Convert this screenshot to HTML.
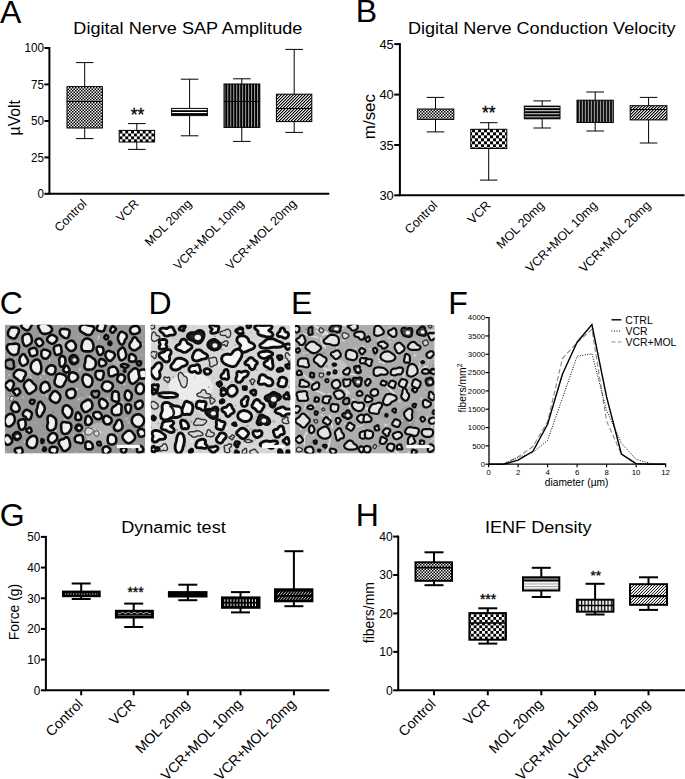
<!DOCTYPE html>
<html><head><meta charset="utf-8"><style>
html,body{margin:0;padding:0;background:#fff;width:685px;height:779px;overflow:hidden}
svg{display:block}
</style></head><body>
<svg width="685" height="779" viewBox="0 0 685 779" font-family="'Liberation Sans', sans-serif" fill="#000"><defs>
<pattern id="pfine" width="3" height="3" patternUnits="userSpaceOnUse"><rect width="3" height="3" fill="#f4f4f4"/><rect width="1.5" height="1.5" fill="#000"/><rect x="1.5" y="1.5" width="1.5" height="1.5" fill="#000"/></pattern>
<pattern id="pcheck" x="119.5" y="130.6" width="5.8" height="5.8" patternUnits="userSpaceOnUse"><rect width="5.8" height="5.8" fill="#fff"/><rect width="2.9" height="2.9" fill="#000"/><rect x="2.9" y="2.9" width="2.9" height="2.9" fill="#000"/></pattern>
<pattern id="pcheckB" x="1" y="0.3" width="6" height="6" patternUnits="userSpaceOnUse"><rect width="6" height="6" fill="#fff"/><rect width="3" height="3" fill="#000"/><rect x="3" y="3" width="3" height="3" fill="#000"/></pattern>
<pattern id="pcheckH" x="0.5" y="1" width="5.6" height="5.6" patternUnits="userSpaceOnUse"><rect width="5.6" height="5.6" fill="#fff"/><rect width="2.8" height="2.8" fill="#000"/><rect x="2.8" y="2.8" width="2.8" height="2.8" fill="#000"/></pattern>
<pattern id="phlA" y="0" width="3" height="3" patternUnits="userSpaceOnUse"><rect width="3" height="3" fill="#000"/><rect y="0" width="3" height="1" fill="#ddd"/></pattern>
<pattern id="phlB" y="2.75" width="3" height="3.07" patternUnits="userSpaceOnUse"><rect width="3" height="3.07" fill="#000"/><rect y="0" width="3" height="1" fill="#d0d0d0"/></pattern>
<pattern id="phlH" y="1" width="3" height="2.5" patternUnits="userSpaceOnUse"><rect width="3" height="2.5" fill="#fff"/><rect y="0" width="3" height="1" fill="#999"/></pattern>
<pattern id="pvlA" x="0.8" width="2.98" height="3" patternUnits="userSpaceOnUse"><rect width="2.98" height="3" fill="#000"/><rect x="0" width="1" height="3" fill="#a8a8a8"/></pattern>
<pattern id="pvlB" x="0" width="3.01" height="3" patternUnits="userSpaceOnUse"><rect width="3.01" height="3" fill="#000"/><rect x="1" width="1" height="3" fill="#ddd"/></pattern>
<pattern id="pvlH" x="0.3" width="3.3" height="3" patternUnits="userSpaceOnUse"><rect width="3.3" height="3" fill="#000"/><rect x="1.2" width="2.0" height="3" fill="#fff"/></pattern>
<pattern id="pdiag" width="3" height="3" patternUnits="userSpaceOnUse"><rect x="0" y="0" width="1" height="1" fill="#000"/><rect x="1" y="0" width="1" height="1" fill="#8a8a8a"/><rect x="2" y="0" width="1" height="1" fill="#e8e8e8"/><rect x="0" y="1" width="1" height="1" fill="#8a8a8a"/><rect x="1" y="1" width="1" height="1" fill="#e8e8e8"/><rect x="2" y="1" width="1" height="1" fill="#000"/><rect x="0" y="2" width="1" height="1" fill="#e8e8e8"/><rect x="1" y="2" width="1" height="1" fill="#000"/><rect x="2" y="2" width="1" height="1" fill="#8a8a8a"/></pattern><pattern id="pdiagH" width="3" height="3" patternUnits="userSpaceOnUse"><rect x="0" y="0" width="1" height="1" fill="#222"/><rect x="1" y="0" width="1" height="1" fill="#fff"/><rect x="2" y="0" width="1" height="1" fill="#d8d8d8"/><rect x="0" y="1" width="1" height="1" fill="#fff"/><rect x="1" y="1" width="1" height="1" fill="#d8d8d8"/><rect x="2" y="1" width="1" height="1" fill="#222"/><rect x="0" y="2" width="1" height="1" fill="#d8d8d8"/><rect x="1" y="2" width="1" height="1" fill="#222"/><rect x="2" y="2" width="1" height="1" fill="#fff"/></pattern></defs><rect width="685" height="779" fill="#fff"/><text x="0" y="22.6" font-size="32" text-anchor="start">A</text><text transform="translate(73.35 34.4) rotate(0) scale(1.04 1.0)" font-size="17.4" text-anchor="start">Digital Nerve SAP Amplitude</text><line x1="49.4" y1="47.0" x2="49.4" y2="193.8" stroke="#000" stroke-width="2"/><line x1="44.4" y1="48" x2="49.4" y2="48" stroke="#000" stroke-width="2"/><text transform="translate(43.9 52.26) rotate(0) scale(0.97 1.0)" font-size="12" text-anchor="end">100</text><line x1="44.4" y1="84.4" x2="49.4" y2="84.4" stroke="#000" stroke-width="2"/><text transform="translate(43.9 88.66000000000001) rotate(0) scale(0.97 1.0)" font-size="12" text-anchor="end">75</text><line x1="44.4" y1="121" x2="49.4" y2="121" stroke="#000" stroke-width="2"/><text transform="translate(43.9 125.26) rotate(0) scale(0.97 1.0)" font-size="12" text-anchor="end">50</text><line x1="44.4" y1="157.4" x2="49.4" y2="157.4" stroke="#000" stroke-width="2"/><text transform="translate(43.9 161.66) rotate(0) scale(0.97 1.0)" font-size="12" text-anchor="end">25</text><line x1="44.4" y1="193.8" x2="49.4" y2="193.8" stroke="#000" stroke-width="2"/><text transform="translate(43.9 198.06) rotate(0) scale(0.97 1.0)" font-size="12" text-anchor="end">0</text><line x1="48.4" y1="193.8" x2="329.3" y2="193.8" stroke="#000" stroke-width="2"/><text transform="translate(19.65 117.7) rotate(-90) scale(1.0 1.045)" font-size="15.8" text-anchor="middle">&#181;Volt</text><line x1="84.7" y1="62.6" x2="84.7" y2="86.6" stroke="#000" stroke-width="1"/><line x1="84.7" y1="128" x2="84.7" y2="138.6" stroke="#000" stroke-width="1"/><line x1="75.9" y1="62.6" x2="93.5" y2="62.6" stroke="#000" stroke-width="1"/><line x1="75.9" y1="138.6" x2="93.5" y2="138.6" stroke="#000" stroke-width="1"/><rect x="67" y="86.6" width="35.400000000000006" height="41.400000000000006" fill="url(#pfine)"/><line x1="67" y1="101.5" x2="102.4" y2="101.5" stroke="#000" stroke-width="1"/><rect x="67" y="86.6" width="35.400000000000006" height="41.400000000000006" fill="none" stroke="#000" stroke-width="1"/><line x1="136.8" y1="123.6" x2="136.8" y2="130.4" stroke="#000" stroke-width="1"/><line x1="136.8" y1="142" x2="136.8" y2="149.4" stroke="#000" stroke-width="1"/><line x1="128.0" y1="123.6" x2="145.60000000000002" y2="123.6" stroke="#000" stroke-width="1"/><line x1="128.0" y1="149.4" x2="145.60000000000002" y2="149.4" stroke="#000" stroke-width="1"/><rect x="119.2" y="130.4" width="35.39999999999999" height="11.599999999999994" fill="url(#pcheck)"/><rect x="119.2" y="130.4" width="35.39999999999999" height="11.599999999999994" fill="none" stroke="#000" stroke-width="1"/><text x="137.5" y="120.9" font-size="17.5" text-anchor="middle" stroke="#000" stroke-width="0.3">**</text><line x1="189.6" y1="79.2" x2="189.6" y2="108.4" stroke="#000" stroke-width="1"/><line x1="189.6" y1="115.6" x2="189.6" y2="135.8" stroke="#000" stroke-width="1"/><line x1="180.79999999999998" y1="79.2" x2="198.4" y2="79.2" stroke="#000" stroke-width="1"/><line x1="180.79999999999998" y1="135.8" x2="198.4" y2="135.8" stroke="#000" stroke-width="1"/><rect x="171.6" y="108.4" width="35.80000000000001" height="7.199999999999989" fill="#fff"/><rect x="171.6" y="110.2" width="35.8" height="1.8" fill="#000"/><rect x="171.6" y="113.1" width="35.8" height="1.9" fill="#000"/><rect x="171.6" y="108.4" width="35.80000000000001" height="7.199999999999989" fill="none" stroke="#000" stroke-width="1"/><line x1="241.8" y1="78.8" x2="241.8" y2="84" stroke="#000" stroke-width="1"/><line x1="241.8" y1="127.4" x2="241.8" y2="141.4" stroke="#000" stroke-width="1"/><line x1="233.0" y1="78.8" x2="250.60000000000002" y2="78.8" stroke="#000" stroke-width="1"/><line x1="233.0" y1="141.4" x2="250.60000000000002" y2="141.4" stroke="#000" stroke-width="1"/><rect x="224" y="84" width="35.80000000000001" height="43.400000000000006" fill="url(#pvlA)"/><line x1="224" y1="101.5" x2="259.8" y2="101.5" stroke="#000" stroke-width="1"/><rect x="224" y="84" width="35.80000000000001" height="43.400000000000006" fill="none" stroke="#000" stroke-width="1"/><line x1="294.2" y1="49.4" x2="294.2" y2="94.2" stroke="#000" stroke-width="1"/><line x1="294.2" y1="121.6" x2="294.2" y2="132.4" stroke="#000" stroke-width="1"/><line x1="285.4" y1="49.4" x2="303.0" y2="49.4" stroke="#000" stroke-width="1"/><line x1="285.4" y1="132.4" x2="303.0" y2="132.4" stroke="#000" stroke-width="1"/><rect x="276.4" y="94.2" width="35.400000000000034" height="27.39999999999999" fill="url(#pdiag)"/><line x1="276.4" y1="108.5" x2="311.8" y2="108.5" stroke="#000" stroke-width="1"/><rect x="276.4" y="94.2" width="35.400000000000034" height="27.39999999999999" fill="none" stroke="#000" stroke-width="1"/><text x="87.5" y="204.4" font-size="12.3" text-anchor="end" transform="rotate(-45 87.5 204.4)">Control</text><text x="139.60000000000002" y="204.4" font-size="12.3" text-anchor="end" transform="rotate(-45 139.60000000000002 204.4)">VCR</text><text x="192.4" y="204.4" font-size="12.3" text-anchor="end" transform="rotate(-45 192.4 204.4)">MOL 20mg</text><text x="244.60000000000002" y="204.4" font-size="12.3" text-anchor="end" transform="rotate(-45 244.60000000000002 204.4)">VCR+MOL 10mg</text><text x="297.0" y="204.4" font-size="12.3" text-anchor="end" transform="rotate(-45 297.0 204.4)">VCR+MOL 20mg</text><text x="355.8" y="22" font-size="32" text-anchor="start">B</text><text transform="translate(407.95 34.4) rotate(0) scale(1.04 1.0)" font-size="17.4" text-anchor="start">Digital Nerve Conduction Velocity</text><line x1="399.9" y1="43.1" x2="399.9" y2="195.3" stroke="#000" stroke-width="2"/><line x1="394.2" y1="44.1" x2="399.9" y2="44.1" stroke="#000" stroke-width="2"/><text transform="translate(393.7 48.7505) rotate(0) scale(0.98 1.0)" font-size="13.1" text-anchor="end">45</text><line x1="394.2" y1="94.6" x2="399.9" y2="94.6" stroke="#000" stroke-width="2"/><text transform="translate(393.7 99.25049999999999) rotate(0) scale(0.98 1.0)" font-size="13.1" text-anchor="end">40</text><line x1="394.2" y1="145" x2="399.9" y2="145" stroke="#000" stroke-width="2"/><text transform="translate(393.7 149.6505) rotate(0) scale(0.98 1.0)" font-size="13.1" text-anchor="end">35</text><line x1="394.2" y1="195.3" x2="399.9" y2="195.3" stroke="#000" stroke-width="2"/><text transform="translate(393.7 199.9505) rotate(0) scale(0.98 1.0)" font-size="13.1" text-anchor="end">30</text><line x1="398.9" y1="195.3" x2="684.5" y2="195.3" stroke="#000" stroke-width="2"/><text transform="translate(375.2 116.6) rotate(-90) scale(1.0 1.0)" font-size="16.9" text-anchor="middle">m/sec</text><line x1="435.5" y1="97.4" x2="435.5" y2="109" stroke="#000" stroke-width="1"/><line x1="435.5" y1="119.4" x2="435.5" y2="131.9" stroke="#000" stroke-width="1"/><line x1="426.7" y1="97.4" x2="444.3" y2="97.4" stroke="#000" stroke-width="1"/><line x1="426.7" y1="131.9" x2="444.3" y2="131.9" stroke="#000" stroke-width="1"/><rect x="417.4" y="109" width="36.400000000000034" height="10.400000000000006" fill="url(#pfine)"/><rect x="417.4" y="109" width="36.400000000000034" height="10.400000000000006" fill="none" stroke="#000" stroke-width="1"/><line x1="488.7" y1="122.7" x2="488.7" y2="129.3" stroke="#000" stroke-width="1"/><line x1="488.7" y1="148.5" x2="488.7" y2="180.1" stroke="#000" stroke-width="1"/><line x1="479.9" y1="122.7" x2="497.5" y2="122.7" stroke="#000" stroke-width="1"/><line x1="479.9" y1="180.1" x2="497.5" y2="180.1" stroke="#000" stroke-width="1"/><rect x="470.8" y="129.3" width="36.0" height="19.19999999999999" fill="url(#pcheckB)"/><rect x="470.8" y="129.3" width="36.0" height="19.19999999999999" fill="none" stroke="#000" stroke-width="1"/><text x="488.7" y="118.5" font-size="17.5" text-anchor="middle" stroke="#000" stroke-width="0.3">**</text><line x1="542.2" y1="100.9" x2="542.2" y2="106.1" stroke="#000" stroke-width="1"/><line x1="542.2" y1="118.8" x2="542.2" y2="128" stroke="#000" stroke-width="1"/><line x1="533.4000000000001" y1="100.9" x2="551.0" y2="100.9" stroke="#000" stroke-width="1"/><line x1="533.4000000000001" y1="128" x2="551.0" y2="128" stroke="#000" stroke-width="1"/><rect x="524.3" y="106.1" width="35.700000000000045" height="12.700000000000003" fill="url(#phlB)"/><rect x="524.3" y="106.1" width="35.700000000000045" height="12.700000000000003" fill="none" stroke="#000" stroke-width="1"/><line x1="595.2" y1="92" x2="595.2" y2="100.2" stroke="#000" stroke-width="1"/><line x1="595.2" y1="122.5" x2="595.2" y2="131" stroke="#000" stroke-width="1"/><line x1="586.4000000000001" y1="92" x2="604.0" y2="92" stroke="#000" stroke-width="1"/><line x1="586.4000000000001" y1="131" x2="604.0" y2="131" stroke="#000" stroke-width="1"/><rect x="577" y="100.2" width="36.299999999999955" height="22.299999999999997" fill="url(#pvlB)"/><rect x="577" y="100.2" width="36.299999999999955" height="22.299999999999997" fill="none" stroke="#000" stroke-width="1"/><line x1="648.6" y1="97.4" x2="648.6" y2="105.7" stroke="#000" stroke-width="1"/><line x1="648.6" y1="119.9" x2="648.6" y2="143" stroke="#000" stroke-width="1"/><line x1="639.8000000000001" y1="97.4" x2="657.4" y2="97.4" stroke="#000" stroke-width="1"/><line x1="639.8000000000001" y1="143" x2="657.4" y2="143" stroke="#000" stroke-width="1"/><rect x="630.2" y="105.7" width="36.69999999999993" height="14.200000000000003" fill="url(#pdiag)"/><line x1="630.2" y1="109.5" x2="666.9" y2="109.5" stroke="#000" stroke-width="1"/><rect x="630.2" y="105.7" width="36.69999999999993" height="14.200000000000003" fill="none" stroke="#000" stroke-width="1"/><text x="438.3" y="206.10000000000002" font-size="12.5" text-anchor="end" transform="rotate(-45 438.3 206.10000000000002)">Control</text><text x="491.5" y="206.10000000000002" font-size="12.5" text-anchor="end" transform="rotate(-45 491.5 206.10000000000002)">VCR</text><text x="545.0" y="206.10000000000002" font-size="12.5" text-anchor="end" transform="rotate(-45 545.0 206.10000000000002)">MOL 20mg</text><text x="598.0" y="206.10000000000002" font-size="12.5" text-anchor="end" transform="rotate(-45 598.0 206.10000000000002)">VCR+MOL 10mg</text><text x="651.4" y="206.10000000000002" font-size="12.5" text-anchor="end" transform="rotate(-45 651.4 206.10000000000002)">VCR+MOL 20mg</text><text x="-0.3" y="526" font-size="32" text-anchor="start">G</text><text transform="translate(121.15 533.3) rotate(0) scale(1.04 1.0)" font-size="17.4" text-anchor="start">Dynamic test</text><line x1="45.9" y1="535.9" x2="45.9" y2="690.3" stroke="#000" stroke-width="2"/><line x1="40.9" y1="536.9" x2="45.9" y2="536.9" stroke="#000" stroke-width="2"/><text transform="translate(40.4 541.302) rotate(0) scale(0.95 1.0)" font-size="12.4" text-anchor="end">50</text><line x1="40.9" y1="567.5799999999999" x2="45.9" y2="567.5799999999999" stroke="#000" stroke-width="2"/><text transform="translate(40.4 571.982) rotate(0) scale(0.95 1.0)" font-size="12.4" text-anchor="end">40</text><line x1="40.9" y1="598.26" x2="45.9" y2="598.26" stroke="#000" stroke-width="2"/><text transform="translate(40.4 602.662) rotate(0) scale(0.95 1.0)" font-size="12.4" text-anchor="end">30</text><line x1="40.9" y1="628.9399999999999" x2="45.9" y2="628.9399999999999" stroke="#000" stroke-width="2"/><text transform="translate(40.4 633.342) rotate(0) scale(0.95 1.0)" font-size="12.4" text-anchor="end">20</text><line x1="40.9" y1="659.62" x2="45.9" y2="659.62" stroke="#000" stroke-width="2"/><text transform="translate(40.4 664.022) rotate(0) scale(0.95 1.0)" font-size="12.4" text-anchor="end">10</text><line x1="40.9" y1="690.3" x2="45.9" y2="690.3" stroke="#000" stroke-width="2"/><text transform="translate(40.4 694.702) rotate(0) scale(0.95 1.0)" font-size="12.4" text-anchor="end">0</text><line x1="44.9" y1="690.3" x2="329.3" y2="690.3" stroke="#000" stroke-width="2"/><line x1="81.2" y1="690.3" x2="81.2" y2="695.3" stroke="#000" stroke-width="2"/><line x1="133.7" y1="690.3" x2="133.7" y2="695.3" stroke="#000" stroke-width="2"/><line x1="187.8" y1="690.3" x2="187.8" y2="695.3" stroke="#000" stroke-width="2"/><line x1="240.5" y1="690.3" x2="240.5" y2="695.3" stroke="#000" stroke-width="2"/><line x1="293.9" y1="690.3" x2="293.9" y2="695.3" stroke="#000" stroke-width="2"/><text transform="translate(18.5 612) rotate(-90) scale(1.0 1.0)" font-size="13.9" text-anchor="middle">Force (g)</text><line x1="81.2" y1="583.5" x2="81.2" y2="591.6" stroke="#000" stroke-width="2"/><line x1="81.2" y1="596.2" x2="81.2" y2="599" stroke="#000" stroke-width="2"/><line x1="71.7" y1="583.5" x2="90.7" y2="583.5" stroke="#000" stroke-width="2"/><line x1="71.7" y1="599" x2="90.7" y2="599" stroke="#000" stroke-width="2"/><rect x="63" y="591.6" width="36.7" height="4.600000000000023" fill="#000"/><line x1="65" y1="594" x2="98" y2="594" stroke="#fff" stroke-width="0.9" stroke-dasharray="1.2,1.5"/><rect x="63" y="591.6" width="36.7" height="4.600000000000023" fill="none" stroke="#000" stroke-width="2"/><line x1="133.7" y1="603.6" x2="133.7" y2="610.8" stroke="#000" stroke-width="2"/><line x1="133.7" y1="617.5" x2="133.7" y2="627" stroke="#000" stroke-width="2"/><line x1="124.19999999999999" y1="603.6" x2="143.2" y2="603.6" stroke="#000" stroke-width="2"/><line x1="124.19999999999999" y1="627" x2="143.2" y2="627" stroke="#000" stroke-width="2"/><rect x="115.9" y="610.8" width="37.0" height="6.7000000000000455" fill="#000"/><path d="M118.00,612.90 L118.33,613.14 L118.67,613.35 L119.00,613.51 L119.33,613.59 L119.67,613.59 L120.00,613.51 L120.33,613.35 L120.67,613.14 L121.00,612.90 L121.33,612.66 L121.67,612.45 L122.00,612.29 L122.33,612.21 L122.67,612.21 L123.00,612.29 L123.33,612.45 L123.67,612.66 L124.00,612.90 L124.33,613.14 L124.67,613.35 L125.00,613.51 L125.33,613.59 L125.67,613.59 L126.00,613.51 L126.33,613.35 L126.67,613.14 L127.00,612.90 L127.33,612.66 L127.67,612.45 L128.00,612.29 L128.33,612.21 L128.67,612.21 L129.00,612.29 L129.33,612.45 L129.67,612.66 L130.00,612.90 L130.33,613.14 L130.67,613.35 L131.00,613.51 L131.33,613.59 L131.67,613.59 L132.00,613.51 L132.33,613.35 L132.67,613.14 L133.00,612.90 L133.33,612.66 L133.67,612.45 L134.00,612.29 L134.33,612.21 L134.67,612.21 L135.00,612.29 L135.33,612.45 L135.67,612.66 L136.00,612.90 L136.33,613.14 L136.67,613.35 L137.00,613.51 L137.33,613.59 L137.67,613.59 L138.00,613.51 L138.33,613.35 L138.67,613.14 L139.00,612.90 L139.33,612.66 L139.67,612.45 L140.00,612.29 L140.33,612.21 L140.67,612.21 L141.00,612.29 L141.33,612.45 L141.67,612.66 L142.00,612.90 L142.33,613.14 L142.67,613.35 L143.00,613.51 L143.33,613.59 L143.67,613.59 L144.00,613.51 L144.33,613.35 L144.67,613.14 L145.00,612.90 L145.33,612.66 L145.67,612.45 L146.00,612.29 L146.33,612.21 L146.67,612.21 L147.00,612.29 L147.33,612.45 L147.67,612.66 L148.00,612.90 L148.33,613.14 L148.67,613.35 L149.00,613.51 L149.33,613.59 L149.67,613.59 L150.00,613.51 L150.33,613.35 L150.67,613.14 L151.00,612.90" fill="none" stroke="#fff" stroke-width="0.9"/><line x1="118" y1="615.3" x2="151" y2="615.3" stroke="#777" stroke-width="0.8"/><rect x="115.9" y="610.8" width="37.0" height="6.7000000000000455" fill="none" stroke="#000" stroke-width="2"/><text x="135.6" y="596.7" font-size="14" text-anchor="middle" stroke="#000" stroke-width="0.3">***</text><line x1="187.8" y1="584.7" x2="187.8" y2="592.1" stroke="#000" stroke-width="2"/><line x1="187.8" y1="596.5" x2="187.8" y2="600.2" stroke="#000" stroke-width="2"/><line x1="178.3" y1="584.7" x2="197.3" y2="584.7" stroke="#000" stroke-width="2"/><line x1="178.3" y1="600.2" x2="197.3" y2="600.2" stroke="#000" stroke-width="2"/><rect x="168.9" y="592.1" width="37.599999999999994" height="4.399999999999977" fill="#000"/><rect x="168.9" y="592.1" width="37.599999999999994" height="4.399999999999977" fill="none" stroke="#000" stroke-width="2"/><line x1="240.5" y1="592.1" x2="240.5" y2="597.4" stroke="#000" stroke-width="2"/><line x1="240.5" y1="607.8" x2="240.5" y2="612.4" stroke="#000" stroke-width="2"/><line x1="231.0" y1="592.1" x2="250.0" y2="592.1" stroke="#000" stroke-width="2"/><line x1="231.0" y1="612.4" x2="250.0" y2="612.4" stroke="#000" stroke-width="2"/><rect x="222" y="597.4" width="37.5" height="10.399999999999977" fill="#000"/><rect x="224.30" y="599.3" width="1" height="2.50" fill="#eee"/><rect x="224.30" y="603.6" width="1" height="2.50" fill="#eee"/><rect x="227.37" y="599.3" width="1" height="2.50" fill="#eee"/><rect x="227.37" y="603.6" width="1" height="2.50" fill="#eee"/><rect x="230.44" y="599.3" width="1" height="2.50" fill="#eee"/><rect x="230.44" y="603.6" width="1" height="2.50" fill="#eee"/><rect x="233.51" y="599.3" width="1" height="2.50" fill="#eee"/><rect x="233.51" y="603.6" width="1" height="2.50" fill="#eee"/><rect x="236.58" y="599.3" width="1" height="2.50" fill="#eee"/><rect x="236.58" y="603.6" width="1" height="2.50" fill="#eee"/><rect x="239.65" y="599.3" width="1" height="2.50" fill="#eee"/><rect x="239.65" y="603.6" width="1" height="2.50" fill="#eee"/><rect x="242.72" y="599.3" width="1" height="2.50" fill="#eee"/><rect x="242.72" y="603.6" width="1" height="2.50" fill="#eee"/><rect x="245.79" y="599.3" width="1" height="2.50" fill="#eee"/><rect x="245.79" y="603.6" width="1" height="2.50" fill="#eee"/><rect x="248.86" y="599.3" width="1" height="2.50" fill="#eee"/><rect x="248.86" y="603.6" width="1" height="2.50" fill="#eee"/><rect x="251.93" y="599.3" width="1" height="2.50" fill="#eee"/><rect x="251.93" y="603.6" width="1" height="2.50" fill="#eee"/><rect x="255.00" y="599.3" width="1" height="2.50" fill="#eee"/><rect x="255.00" y="603.6" width="1" height="2.50" fill="#eee"/><rect x="222" y="597.4" width="37.5" height="10.399999999999977" fill="none" stroke="#000" stroke-width="2"/><line x1="293.9" y1="551.2" x2="293.9" y2="589.3" stroke="#000" stroke-width="2"/><line x1="293.9" y1="601.3" x2="293.9" y2="606.2" stroke="#000" stroke-width="2"/><line x1="284.4" y1="551.2" x2="303.4" y2="551.2" stroke="#000" stroke-width="2"/><line x1="284.4" y1="606.2" x2="303.4" y2="606.2" stroke="#000" stroke-width="2"/><rect x="275" y="589.3" width="37.39999999999998" height="12.0" fill="#000"/><line x1="277.50" y1="595" x2="280.22" y2="591.6" stroke="#ddd" stroke-width="0.9"/><line x1="277.50" y1="599.8" x2="279.90" y2="596.8" stroke="#ddd" stroke-width="0.9"/><line x1="280.40" y1="595" x2="283.12" y2="591.6" stroke="#ddd" stroke-width="0.9"/><line x1="280.40" y1="599.8" x2="282.80" y2="596.8" stroke="#ddd" stroke-width="0.9"/><line x1="283.30" y1="595" x2="286.02" y2="591.6" stroke="#ddd" stroke-width="0.9"/><line x1="283.30" y1="599.8" x2="285.70" y2="596.8" stroke="#ddd" stroke-width="0.9"/><line x1="286.20" y1="595" x2="288.92" y2="591.6" stroke="#ddd" stroke-width="0.9"/><line x1="286.20" y1="599.8" x2="288.60" y2="596.8" stroke="#ddd" stroke-width="0.9"/><line x1="289.10" y1="595" x2="291.82" y2="591.6" stroke="#ddd" stroke-width="0.9"/><line x1="289.10" y1="599.8" x2="291.50" y2="596.8" stroke="#ddd" stroke-width="0.9"/><line x1="292.00" y1="595" x2="294.72" y2="591.6" stroke="#ddd" stroke-width="0.9"/><line x1="292.00" y1="599.8" x2="294.40" y2="596.8" stroke="#ddd" stroke-width="0.9"/><line x1="294.90" y1="595" x2="297.62" y2="591.6" stroke="#ddd" stroke-width="0.9"/><line x1="294.90" y1="599.8" x2="297.30" y2="596.8" stroke="#ddd" stroke-width="0.9"/><line x1="297.80" y1="595" x2="300.52" y2="591.6" stroke="#ddd" stroke-width="0.9"/><line x1="297.80" y1="599.8" x2="300.20" y2="596.8" stroke="#ddd" stroke-width="0.9"/><line x1="300.70" y1="595" x2="303.42" y2="591.6" stroke="#ddd" stroke-width="0.9"/><line x1="300.70" y1="599.8" x2="303.10" y2="596.8" stroke="#ddd" stroke-width="0.9"/><line x1="303.60" y1="595" x2="306.32" y2="591.6" stroke="#ddd" stroke-width="0.9"/><line x1="303.60" y1="599.8" x2="306.00" y2="596.8" stroke="#ddd" stroke-width="0.9"/><line x1="306.50" y1="595" x2="309.22" y2="591.6" stroke="#ddd" stroke-width="0.9"/><line x1="306.50" y1="599.8" x2="308.90" y2="596.8" stroke="#ddd" stroke-width="0.9"/><line x1="309.40" y1="595" x2="312.12" y2="591.6" stroke="#ddd" stroke-width="0.9"/><line x1="309.40" y1="599.8" x2="311.80" y2="596.8" stroke="#ddd" stroke-width="0.9"/><rect x="275" y="589.3" width="37.39999999999998" height="12.0" fill="none" stroke="#000" stroke-width="2"/><text x="83.8" y="704.9" font-size="14.2" text-anchor="end" transform="rotate(-45 83.8 704.9)">Control</text><text x="136.29999999999998" y="704.9" font-size="14.2" text-anchor="end" transform="rotate(-45 136.29999999999998 704.9)">VCR</text><text x="190.4" y="704.9" font-size="14.2" text-anchor="end" transform="rotate(-45 190.4 704.9)">MOL 20mg</text><text x="243.1" y="704.9" font-size="14.2" text-anchor="end" transform="rotate(-45 243.1 704.9)">VCR+MOL 10mg</text><text x="296.5" y="704.9" font-size="14.2" text-anchor="end" transform="rotate(-45 296.5 704.9)">VCR+MOL 20mg</text><text x="355.8" y="526.3" font-size="32" text-anchor="start">H</text><text transform="translate(484.95 532.8) rotate(0) scale(1.04 1.0)" font-size="17.4" text-anchor="start">IENF Density</text><line x1="398.2" y1="535.5799999999999" x2="398.2" y2="690.3" stroke="#000" stroke-width="2"/><line x1="393.2" y1="536.5799999999999" x2="398.2" y2="536.5799999999999" stroke="#000" stroke-width="2"/><text transform="translate(392.7 541.0529999999999) rotate(0) scale(0.96 1.0)" font-size="12.6" text-anchor="end">40</text><line x1="393.2" y1="575.01" x2="398.2" y2="575.01" stroke="#000" stroke-width="2"/><text transform="translate(392.7 579.483) rotate(0) scale(0.96 1.0)" font-size="12.6" text-anchor="end">30</text><line x1="393.2" y1="613.4399999999999" x2="398.2" y2="613.4399999999999" stroke="#000" stroke-width="2"/><text transform="translate(392.7 617.9129999999999) rotate(0) scale(0.96 1.0)" font-size="12.6" text-anchor="end">20</text><line x1="393.2" y1="651.87" x2="398.2" y2="651.87" stroke="#000" stroke-width="2"/><text transform="translate(392.7 656.343) rotate(0) scale(0.96 1.0)" font-size="12.6" text-anchor="end">10</text><line x1="393.2" y1="690.3" x2="398.2" y2="690.3" stroke="#000" stroke-width="2"/><text transform="translate(392.7 694.7729999999999) rotate(0) scale(0.96 1.0)" font-size="12.6" text-anchor="end">0</text><line x1="397.2" y1="690.3" x2="685" y2="690.3" stroke="#000" stroke-width="2"/><line x1="434" y1="690.3" x2="434" y2="695.3" stroke="#000" stroke-width="2"/><line x1="487.8" y1="690.3" x2="487.8" y2="695.3" stroke="#000" stroke-width="2"/><line x1="541.3" y1="690.3" x2="541.3" y2="695.3" stroke="#000" stroke-width="2"/><line x1="595.1" y1="690.3" x2="595.1" y2="695.3" stroke="#000" stroke-width="2"/><line x1="648.5" y1="690.3" x2="648.5" y2="695.3" stroke="#000" stroke-width="2"/><text transform="translate(373.5 612.7) rotate(-90) scale(1.0 1.0)" font-size="13.9" text-anchor="middle">fibers/mm</text><line x1="434" y1="552.3" x2="434" y2="562.3" stroke="#000" stroke-width="2"/><line x1="434" y1="580.8" x2="434" y2="585.2" stroke="#000" stroke-width="2"/><line x1="424.5" y1="552.3" x2="443.5" y2="552.3" stroke="#000" stroke-width="2"/><line x1="424.5" y1="585.2" x2="443.5" y2="585.2" stroke="#000" stroke-width="2"/><rect x="415.5" y="562.3" width="36.5" height="18.5" fill="url(#pfine)"/><line x1="415.5" y1="567.6" x2="452" y2="567.6" stroke="#000" stroke-width="1.6"/><rect x="415.5" y="562.3" width="36.5" height="18.5" fill="none" stroke="#000" stroke-width="2"/><line x1="487.8" y1="608.3" x2="487.8" y2="613.1" stroke="#000" stroke-width="2"/><line x1="487.8" y1="639.7" x2="487.8" y2="643.6" stroke="#000" stroke-width="2"/><line x1="478.3" y1="608.3" x2="497.3" y2="608.3" stroke="#000" stroke-width="2"/><line x1="478.3" y1="643.6" x2="497.3" y2="643.6" stroke="#000" stroke-width="2"/><rect x="469.4" y="613.1" width="36.5" height="26.600000000000023" fill="url(#pcheckH)"/><line x1="469.4" y1="623.1" x2="505.9" y2="623.1" stroke="#000" stroke-width="1.5"/><rect x="469.4" y="613.1" width="36.5" height="26.600000000000023" fill="none" stroke="#000" stroke-width="2"/><text x="488.1" y="603.7" font-size="14" text-anchor="middle" stroke="#000" stroke-width="0.3">***</text><line x1="541.3" y1="567.8" x2="541.3" y2="577.3" stroke="#000" stroke-width="2"/><line x1="541.3" y1="590.5" x2="541.3" y2="597" stroke="#000" stroke-width="2"/><line x1="531.8" y1="567.8" x2="550.8" y2="567.8" stroke="#000" stroke-width="2"/><line x1="531.8" y1="597" x2="550.8" y2="597" stroke="#000" stroke-width="2"/><rect x="523" y="577.3" width="36.299999999999955" height="13.200000000000045" fill="url(#phlH)"/><rect x="524" y="578.2" width="34.3" height="1.6" fill="#777"/><line x1="523" y1="580.5" x2="559.3" y2="580.5" stroke="#000" stroke-width="1.6"/><rect x="523" y="577.3" width="36.299999999999955" height="13.200000000000045" fill="none" stroke="#000" stroke-width="2"/><line x1="595.1" y1="583.8" x2="595.1" y2="599.7" stroke="#000" stroke-width="2"/><line x1="595.1" y1="611.7" x2="595.1" y2="614.5" stroke="#000" stroke-width="2"/><line x1="585.6" y1="583.8" x2="604.6" y2="583.8" stroke="#000" stroke-width="2"/><line x1="585.6" y1="614.5" x2="604.6" y2="614.5" stroke="#000" stroke-width="2"/><rect x="576.9" y="599.7" width="36.5" height="12.0" fill="url(#pvlH)"/><line x1="576.9" y1="605.5" x2="613.4" y2="605.5" stroke="#000" stroke-width="1.4"/><rect x="576.9" y="599.7" width="36.5" height="12.0" fill="none" stroke="#000" stroke-width="2"/><text x="595.7" y="580.1" font-size="13.5" text-anchor="middle" stroke="#000" stroke-width="0.3">**</text><line x1="648.5" y1="577.3" x2="648.5" y2="584.2" stroke="#000" stroke-width="2"/><line x1="648.5" y1="604.8" x2="648.5" y2="609.9" stroke="#000" stroke-width="2"/><line x1="639.0" y1="577.3" x2="658.0" y2="577.3" stroke="#000" stroke-width="2"/><line x1="639.0" y1="609.9" x2="658.0" y2="609.9" stroke="#000" stroke-width="2"/><rect x="630" y="584.2" width="37" height="20.59999999999991" fill="url(#pdiagH)"/><line x1="630" y1="596.2" x2="667" y2="596.2" stroke="#000" stroke-width="2.2"/><rect x="630" y="584.2" width="37" height="20.59999999999991" fill="none" stroke="#000" stroke-width="2"/><text x="436.6" y="704.9" font-size="14.2" text-anchor="end" transform="rotate(-45 436.6 704.9)">Control</text><text x="490.40000000000003" y="704.9" font-size="14.2" text-anchor="end" transform="rotate(-45 490.40000000000003 704.9)">VCR</text><text x="543.9" y="704.9" font-size="14.2" text-anchor="end" transform="rotate(-45 543.9 704.9)">MOL 20mg</text><text x="597.7" y="704.9" font-size="14.2" text-anchor="end" transform="rotate(-45 597.7 704.9)">VCR+MOL 10mg</text><text x="651.1" y="704.9" font-size="14.2" text-anchor="end" transform="rotate(-45 651.1 704.9)">VCR+MOL 20mg</text><text x="-0.3" y="314.2" font-size="32" text-anchor="start">C</text><text x="148.4" y="314.4" font-size="32" text-anchor="start">D</text><text x="291.1" y="314.4" font-size="32" text-anchor="start">E</text><svg x="4.8" y="324.85" width="140.4" height="128.75" viewBox="0 0 140.4 128.75"><defs><filter id="bl1" x="-5%" y="-5%" width="110%" height="110%"><feGaussianBlur stdDeviation="0.6"/></filter></defs><rect width="140.4" height="128.75" fill="#999999"/><g filter="url(#bl1)"><ellipse cx="95" cy="110" rx="14" ry="12" fill="#b4b4b4" opacity="1"/><ellipse cx="20" cy="45" rx="8" ry="8" fill="#b8b8b8" opacity="0.8"/><ellipse cx="60" cy="20" rx="8" ry="6" fill="#b8b8b8" opacity="0.8"/><ellipse cx="115" cy="35" rx="8" ry="8" fill="#b0b0b0" opacity="0.8"/><circle cx="18.9" cy="109.1" r="0.6" fill="#ffffff" opacity="0.5"/><circle cx="69.6" cy="57.9" r="1.1" fill="#808080" opacity="0.5"/><circle cx="13.2" cy="3.6" r="0.8" fill="#808080" opacity="0.5"/><circle cx="107.0" cy="0.3" r="0.6" fill="#808080" opacity="0.5"/><circle cx="112.6" cy="76.1" r="1.2" fill="#ffffff" opacity="0.5"/><circle cx="4.3" cy="3.3" r="1.2" fill="#ffffff" opacity="0.5"/><circle cx="53.5" cy="27.9" r="1.1" fill="#808080" opacity="0.5"/><circle cx="74.1" cy="98.3" r="0.9" fill="#808080" opacity="0.5"/><circle cx="48.5" cy="87.1" r="1.3" fill="#808080" opacity="0.5"/><circle cx="130.1" cy="53.6" r="0.6" fill="#ffffff" opacity="0.5"/><circle cx="139.4" cy="110.7" r="1.1" fill="#ffffff" opacity="0.5"/><circle cx="125.7" cy="125.3" r="0.9" fill="#808080" opacity="0.5"/><circle cx="127.8" cy="24.4" r="0.9" fill="#cccccc" opacity="0.5"/><circle cx="123.9" cy="108.9" r="0.9" fill="#808080" opacity="0.5"/><circle cx="4.8" cy="31.3" r="0.8" fill="#808080" opacity="0.5"/><circle cx="24.3" cy="70.7" r="0.5" fill="#cccccc" opacity="0.5"/><circle cx="93.2" cy="13.9" r="0.9" fill="#eeeeee" opacity="0.5"/><circle cx="55.2" cy="63.0" r="0.8" fill="#ffffff" opacity="0.5"/><circle cx="43.3" cy="109.2" r="1.0" fill="#808080" opacity="0.5"/><circle cx="23.7" cy="29.2" r="1.1" fill="#ffffff" opacity="0.5"/><circle cx="75.8" cy="110.8" r="0.8" fill="#eeeeee" opacity="0.5"/><circle cx="48.3" cy="109.1" r="0.8" fill="#cccccc" opacity="0.5"/><circle cx="37.8" cy="70.6" r="0.7" fill="#ffffff" opacity="0.5"/><circle cx="120.3" cy="122.9" r="0.9" fill="#eeeeee" opacity="0.5"/><circle cx="78.8" cy="54.9" r="0.8" fill="#ffffff" opacity="0.5"/><circle cx="51.2" cy="71.4" r="0.8" fill="#808080" opacity="0.5"/><circle cx="50.1" cy="44.6" r="0.8" fill="#cccccc" opacity="0.5"/><circle cx="3.9" cy="29.6" r="0.9" fill="#eeeeee" opacity="0.5"/><circle cx="25.4" cy="11.8" r="0.4" fill="#cccccc" opacity="0.5"/><circle cx="132.5" cy="9.1" r="0.8" fill="#ffffff" opacity="0.5"/><circle cx="105.9" cy="36.2" r="0.5" fill="#cccccc" opacity="0.5"/><circle cx="87.7" cy="44.3" r="0.6" fill="#ffffff" opacity="0.5"/><circle cx="35.8" cy="122.6" r="1.0" fill="#cccccc" opacity="0.5"/><circle cx="41.3" cy="90.5" r="0.8" fill="#808080" opacity="0.5"/><circle cx="3.3" cy="49.8" r="1.1" fill="#808080" opacity="0.5"/><circle cx="36.3" cy="32.6" r="1.3" fill="#eeeeee" opacity="0.5"/><circle cx="60.6" cy="125.6" r="0.4" fill="#eeeeee" opacity="0.5"/><circle cx="20.6" cy="92.6" r="0.8" fill="#eeeeee" opacity="0.5"/><circle cx="71.1" cy="54.9" r="1.3" fill="#eeeeee" opacity="0.5"/><circle cx="88.6" cy="89.5" r="0.6" fill="#808080" opacity="0.5"/><circle cx="91.1" cy="50.8" r="1.0" fill="#cccccc" opacity="0.5"/><circle cx="59.9" cy="94.9" r="1.3" fill="#eeeeee" opacity="0.5"/><circle cx="122.9" cy="39.4" r="0.7" fill="#ffffff" opacity="0.5"/><circle cx="131.9" cy="95.8" r="0.9" fill="#808080" opacity="0.5"/><circle cx="18.3" cy="72.2" r="0.9" fill="#ffffff" opacity="0.5"/><circle cx="30.5" cy="116.0" r="0.6" fill="#808080" opacity="0.5"/><circle cx="121.8" cy="125.4" r="0.7" fill="#ffffff" opacity="0.5"/><circle cx="48.7" cy="26.5" r="0.9" fill="#808080" opacity="0.5"/><circle cx="69.1" cy="120.8" r="0.7" fill="#808080" opacity="0.5"/><circle cx="70.2" cy="41.9" r="1.2" fill="#808080" opacity="0.5"/><circle cx="2.5" cy="25.9" r="1.1" fill="#cccccc" opacity="0.5"/><circle cx="79.1" cy="17.4" r="0.6" fill="#808080" opacity="0.5"/><circle cx="94.7" cy="107.9" r="1.2" fill="#cccccc" opacity="0.5"/><circle cx="117.6" cy="68.8" r="0.5" fill="#eeeeee" opacity="0.5"/><circle cx="5.7" cy="17.1" r="1.2" fill="#eeeeee" opacity="0.5"/><circle cx="29.9" cy="97.7" r="0.7" fill="#cccccc" opacity="0.5"/><circle cx="47.8" cy="37.5" r="0.5" fill="#808080" opacity="0.5"/><circle cx="77.4" cy="13.4" r="0.8" fill="#ffffff" opacity="0.5"/><circle cx="53.4" cy="127.6" r="1.1" fill="#eeeeee" opacity="0.5"/><circle cx="47.9" cy="79.2" r="0.5" fill="#808080" opacity="0.5"/><circle cx="77.3" cy="72.9" r="0.7" fill="#cccccc" opacity="0.5"/><circle cx="41.5" cy="68.8" r="0.8" fill="#ffffff" opacity="0.5"/><circle cx="38.9" cy="101.3" r="0.4" fill="#cccccc" opacity="0.5"/><circle cx="94.1" cy="11.8" r="1.1" fill="#ffffff" opacity="0.5"/><circle cx="110.9" cy="24.2" r="0.5" fill="#808080" opacity="0.5"/><circle cx="63.3" cy="87.7" r="1.1" fill="#eeeeee" opacity="0.5"/><circle cx="14.4" cy="117.3" r="1.1" fill="#808080" opacity="0.5"/><circle cx="76.2" cy="105.4" r="1.0" fill="#cccccc" opacity="0.5"/><circle cx="44.2" cy="26.7" r="0.4" fill="#cccccc" opacity="0.5"/><circle cx="1.5" cy="126.5" r="1.1" fill="#cccccc" opacity="0.5"/><circle cx="45.0" cy="50.4" r="0.5" fill="#808080" opacity="0.5"/><circle cx="128.2" cy="124.9" r="0.5" fill="#808080" opacity="0.5"/><circle cx="30.2" cy="79.5" r="1.0" fill="#808080" opacity="0.5"/><circle cx="36.4" cy="69.7" r="0.6" fill="#cccccc" opacity="0.5"/><circle cx="50.6" cy="105.6" r="1.3" fill="#ffffff" opacity="0.5"/><circle cx="62.9" cy="83.9" r="1.2" fill="#cccccc" opacity="0.5"/><circle cx="54.8" cy="39.5" r="0.6" fill="#cccccc" opacity="0.5"/><circle cx="111.3" cy="74.5" r="0.6" fill="#cccccc" opacity="0.5"/><circle cx="14.2" cy="78.7" r="0.6" fill="#ffffff" opacity="0.5"/><circle cx="2.9" cy="31.4" r="0.6" fill="#ffffff" opacity="0.5"/><circle cx="121.8" cy="93.9" r="1.0" fill="#ffffff" opacity="0.5"/><circle cx="40.8" cy="102.0" r="0.8" fill="#808080" opacity="0.5"/><circle cx="120.6" cy="13.0" r="0.5" fill="#cccccc" opacity="0.5"/><circle cx="133.3" cy="22.3" r="1.3" fill="#eeeeee" opacity="0.5"/><circle cx="115.3" cy="41.2" r="1.0" fill="#ffffff" opacity="0.5"/><circle cx="117.2" cy="77.5" r="1.2" fill="#eeeeee" opacity="0.5"/><circle cx="19.9" cy="117.2" r="1.1" fill="#ffffff" opacity="0.5"/><circle cx="115.3" cy="80.3" r="0.6" fill="#eeeeee" opacity="0.5"/><circle cx="60.7" cy="20.3" r="0.6" fill="#eeeeee" opacity="0.5"/><circle cx="9.0" cy="124.0" r="0.9" fill="#808080" opacity="0.5"/><circle cx="76.0" cy="109.6" r="0.4" fill="#808080" opacity="0.5"/><circle cx="117.4" cy="22.1" r="0.4" fill="#808080" opacity="0.5"/><circle cx="90.8" cy="53.6" r="0.5" fill="#ffffff" opacity="0.5"/><circle cx="49.8" cy="17.8" r="0.5" fill="#eeeeee" opacity="0.5"/><circle cx="138.0" cy="35.7" r="0.6" fill="#808080" opacity="0.5"/><circle cx="12.5" cy="62.6" r="0.9" fill="#eeeeee" opacity="0.5"/><circle cx="70.3" cy="83.5" r="1.2" fill="#808080" opacity="0.5"/><circle cx="89.7" cy="29.1" r="0.8" fill="#cccccc" opacity="0.5"/><circle cx="67.2" cy="29.0" r="0.7" fill="#808080" opacity="0.5"/><circle cx="85.8" cy="93.8" r="1.3" fill="#cccccc" opacity="0.5"/><circle cx="30.8" cy="118.7" r="0.5" fill="#cccccc" opacity="0.5"/><circle cx="107.6" cy="113.7" r="0.7" fill="#cccccc" opacity="0.5"/><circle cx="42.1" cy="71.1" r="1.0" fill="#eeeeee" opacity="0.5"/><circle cx="103.4" cy="76.6" r="1.2" fill="#ffffff" opacity="0.5"/><circle cx="134.8" cy="73.5" r="0.5" fill="#eeeeee" opacity="0.5"/><circle cx="59.9" cy="121.2" r="0.8" fill="#ffffff" opacity="0.5"/><circle cx="55.3" cy="82.0" r="0.9" fill="#808080" opacity="0.5"/><circle cx="23.1" cy="94.0" r="0.9" fill="#ffffff" opacity="0.5"/><circle cx="12.7" cy="32.9" r="0.6" fill="#ffffff" opacity="0.5"/><circle cx="128.2" cy="123.5" r="1.3" fill="#eeeeee" opacity="0.5"/><circle cx="86.6" cy="124.5" r="0.8" fill="#ffffff" opacity="0.5"/><circle cx="129.8" cy="125.0" r="1.2" fill="#808080" opacity="0.5"/><circle cx="126.8" cy="51.1" r="0.8" fill="#cccccc" opacity="0.5"/><circle cx="87.4" cy="62.8" r="0.5" fill="#eeeeee" opacity="0.5"/><circle cx="84.3" cy="52.6" r="1.0" fill="#ffffff" opacity="0.5"/><circle cx="39.0" cy="48.8" r="1.3" fill="#ffffff" opacity="0.5"/><circle cx="74.2" cy="74.6" r="1.0" fill="#ffffff" opacity="0.5"/><circle cx="85.0" cy="107.5" r="0.6" fill="#eeeeee" opacity="0.5"/><circle cx="20.8" cy="25.8" r="0.9" fill="#cccccc" opacity="0.5"/><circle cx="35.2" cy="88.0" r="0.9" fill="#eeeeee" opacity="0.5"/><circle cx="68.9" cy="110.2" r="0.9" fill="#eeeeee" opacity="0.5"/><circle cx="53.8" cy="36.6" r="1.2" fill="#ffffff" opacity="0.5"/><circle cx="3.4" cy="73.3" r="0.9" fill="#ffffff" opacity="0.5"/><circle cx="135.5" cy="98.0" r="0.5" fill="#eeeeee" opacity="0.5"/><circle cx="52.5" cy="103.7" r="0.9" fill="#808080" opacity="0.5"/><circle cx="50.1" cy="68.0" r="0.5" fill="#ffffff" opacity="0.5"/><circle cx="100.8" cy="45.1" r="0.7" fill="#808080" opacity="0.5"/><circle cx="102.7" cy="73.6" r="1.0" fill="#ffffff" opacity="0.5"/><circle cx="53.0" cy="26.3" r="1.3" fill="#ffffff" opacity="0.5"/><circle cx="89.2" cy="93.0" r="1.3" fill="#eeeeee" opacity="0.5"/><circle cx="64.8" cy="107.5" r="1.2" fill="#808080" opacity="0.5"/><circle cx="100.0" cy="127.2" r="0.8" fill="#eeeeee" opacity="0.5"/><circle cx="93.9" cy="25.4" r="1.0" fill="#ffffff" opacity="0.5"/><circle cx="81.3" cy="124.9" r="1.2" fill="#cccccc" opacity="0.5"/><circle cx="82.1" cy="94.5" r="0.8" fill="#ffffff" opacity="0.5"/><circle cx="104.7" cy="82.4" r="1.0" fill="#cccccc" opacity="0.5"/><circle cx="57.1" cy="81.0" r="1.1" fill="#808080" opacity="0.5"/><circle cx="118.8" cy="98.8" r="0.7" fill="#ffffff" opacity="0.5"/><circle cx="37.1" cy="91.2" r="0.5" fill="#cccccc" opacity="0.5"/><circle cx="116.9" cy="62.4" r="0.9" fill="#808080" opacity="0.5"/><circle cx="38.0" cy="12.7" r="0.5" fill="#808080" opacity="0.5"/><circle cx="9.4" cy="57.0" r="0.9" fill="#eeeeee" opacity="0.5"/><circle cx="132.8" cy="88.9" r="1.0" fill="#808080" opacity="0.5"/><circle cx="38.7" cy="39.2" r="0.6" fill="#eeeeee" opacity="0.5"/><circle cx="46.9" cy="8.8" r="0.8" fill="#cccccc" opacity="0.5"/><circle cx="78.3" cy="6.4" r="1.0" fill="#cccccc" opacity="0.5"/><circle cx="100.2" cy="104.9" r="0.7" fill="#cccccc" opacity="0.5"/><circle cx="103.9" cy="50.5" r="0.6" fill="#808080" opacity="0.5"/><circle cx="110.9" cy="111.6" r="1.0" fill="#cccccc" opacity="0.5"/><circle cx="36.3" cy="78.5" r="1.2" fill="#eeeeee" opacity="0.5"/><circle cx="4.3" cy="115.8" r="0.7" fill="#808080" opacity="0.5"/><circle cx="60.6" cy="98.1" r="0.6" fill="#cccccc" opacity="0.5"/><circle cx="87.9" cy="21.3" r="0.9" fill="#808080" opacity="0.5"/><circle cx="131.0" cy="19.1" r="0.8" fill="#cccccc" opacity="0.5"/><circle cx="22.8" cy="100.2" r="0.7" fill="#808080" opacity="0.5"/><circle cx="105.5" cy="31.0" r="1.0" fill="#eeeeee" opacity="0.5"/><circle cx="42.9" cy="13.7" r="0.7" fill="#808080" opacity="0.5"/><circle cx="130.4" cy="123.0" r="0.4" fill="#ffffff" opacity="0.5"/><circle cx="83.9" cy="114.4" r="1.0" fill="#eeeeee" opacity="0.5"/><circle cx="69.4" cy="68.0" r="0.7" fill="#808080" opacity="0.5"/><circle cx="117.6" cy="15.2" r="0.5" fill="#eeeeee" opacity="0.5"/><circle cx="56.1" cy="63.7" r="1.1" fill="#808080" opacity="0.5"/><circle cx="136.7" cy="30.4" r="0.8" fill="#cccccc" opacity="0.5"/><circle cx="81.4" cy="27.3" r="0.7" fill="#cccccc" opacity="0.5"/><circle cx="83.3" cy="117.1" r="0.4" fill="#ffffff" opacity="0.5"/><circle cx="112.0" cy="110.4" r="1.2" fill="#cccccc" opacity="0.5"/><circle cx="119.0" cy="37.0" r="0.8" fill="#eeeeee" opacity="0.5"/><circle cx="123.6" cy="97.7" r="1.1" fill="#eeeeee" opacity="0.5"/><circle cx="4.3" cy="49.9" r="0.9" fill="#ffffff" opacity="0.5"/><circle cx="35.7" cy="10.2" r="1.2" fill="#cccccc" opacity="0.5"/><circle cx="5.0" cy="7.8" r="0.4" fill="#eeeeee" opacity="0.5"/><circle cx="38.4" cy="15.1" r="0.6" fill="#ffffff" opacity="0.5"/><circle cx="70.2" cy="16.8" r="1.0" fill="#cccccc" opacity="0.5"/><circle cx="118.7" cy="85.4" r="0.7" fill="#808080" opacity="0.5"/><circle cx="37.6" cy="33.5" r="0.6" fill="#eeeeee" opacity="0.5"/><circle cx="82.5" cy="101.5" r="0.7" fill="#eeeeee" opacity="0.5"/><circle cx="85.0" cy="72.1" r="1.2" fill="#ffffff" opacity="0.5"/><circle cx="76.8" cy="69.3" r="1.2" fill="#808080" opacity="0.5"/><circle cx="9.8" cy="34.4" r="0.6" fill="#ffffff" opacity="0.5"/><circle cx="137.1" cy="19.4" r="1.2" fill="#eeeeee" opacity="0.5"/><circle cx="119.6" cy="6.8" r="1.2" fill="#ffffff" opacity="0.5"/><circle cx="72.0" cy="64.5" r="1.3" fill="#ffffff" opacity="0.5"/><circle cx="5.6" cy="68.4" r="1.0" fill="#808080" opacity="0.5"/><circle cx="125.7" cy="98.3" r="0.4" fill="#808080" opacity="0.5"/><circle cx="73.6" cy="11.6" r="0.5" fill="#cccccc" opacity="0.5"/><circle cx="4.8" cy="49.5" r="0.7" fill="#cccccc" opacity="0.5"/><circle cx="18.3" cy="102.3" r="1.2" fill="#ffffff" opacity="0.5"/><circle cx="42.6" cy="54.7" r="0.9" fill="#eeeeee" opacity="0.5"/><circle cx="28.8" cy="118.8" r="1.3" fill="#808080" opacity="0.5"/><circle cx="82.0" cy="13.5" r="0.9" fill="#808080" opacity="0.5"/><circle cx="78.4" cy="108.7" r="1.2" fill="#ffffff" opacity="0.5"/><circle cx="116.8" cy="37.5" r="0.6" fill="#eeeeee" opacity="0.5"/><circle cx="54.6" cy="41.7" r="0.7" fill="#808080" opacity="0.5"/><circle cx="80.7" cy="5.6" r="0.8" fill="#cccccc" opacity="0.5"/><circle cx="44.8" cy="35.1" r="0.9" fill="#ffffff" opacity="0.5"/><circle cx="20.9" cy="117.7" r="1.1" fill="#cccccc" opacity="0.5"/><circle cx="80.5" cy="58.2" r="0.8" fill="#cccccc" opacity="0.5"/><circle cx="128.2" cy="119.4" r="1.1" fill="#808080" opacity="0.5"/><circle cx="129.9" cy="118.7" r="0.5" fill="#ffffff" opacity="0.5"/><circle cx="73.5" cy="74.1" r="1.1" fill="#cccccc" opacity="0.5"/><circle cx="98.7" cy="96.1" r="1.3" fill="#cccccc" opacity="0.5"/><circle cx="111.9" cy="47.7" r="0.8" fill="#cccccc" opacity="0.5"/><circle cx="137.6" cy="68.5" r="0.4" fill="#eeeeee" opacity="0.5"/><circle cx="35.1" cy="28.5" r="1.2" fill="#eeeeee" opacity="0.5"/><circle cx="25.9" cy="52.9" r="1.1" fill="#ffffff" opacity="0.5"/><circle cx="137.4" cy="87.7" r="0.6" fill="#ffffff" opacity="0.5"/><circle cx="9.4" cy="73.5" r="1.2" fill="#ffffff" opacity="0.5"/><circle cx="111.5" cy="28.0" r="0.9" fill="#eeeeee" opacity="0.5"/><circle cx="60.7" cy="76.0" r="1.0" fill="#808080" opacity="0.5"/><circle cx="39.8" cy="114.8" r="1.2" fill="#808080" opacity="0.5"/><circle cx="125.3" cy="54.8" r="0.9" fill="#cccccc" opacity="0.5"/><circle cx="132.6" cy="102.8" r="1.1" fill="#ffffff" opacity="0.5"/><circle cx="140.1" cy="33.0" r="0.4" fill="#eeeeee" opacity="0.5"/><circle cx="74.7" cy="49.0" r="0.5" fill="#808080" opacity="0.5"/><circle cx="86.5" cy="65.7" r="0.4" fill="#808080" opacity="0.5"/><circle cx="119.5" cy="59.0" r="1.3" fill="#eeeeee" opacity="0.5"/><circle cx="97.7" cy="82.7" r="1.1" fill="#ffffff" opacity="0.5"/><circle cx="72.0" cy="128.0" r="1.3" fill="#cccccc" opacity="0.5"/><circle cx="76.2" cy="73.6" r="0.9" fill="#cccccc" opacity="0.5"/><circle cx="76.1" cy="105.4" r="0.9" fill="#808080" opacity="0.5"/><circle cx="81.6" cy="58.3" r="0.9" fill="#eeeeee" opacity="0.5"/><circle cx="82.3" cy="70.8" r="0.6" fill="#eeeeee" opacity="0.5"/><circle cx="1.3" cy="54.6" r="0.7" fill="#ffffff" opacity="0.5"/><circle cx="56.5" cy="120.6" r="1.2" fill="#ffffff" opacity="0.5"/><circle cx="129.9" cy="109.0" r="0.6" fill="#808080" opacity="0.5"/><circle cx="38.2" cy="100.6" r="1.1" fill="#808080" opacity="0.5"/><circle cx="54.5" cy="103.5" r="0.7" fill="#808080" opacity="0.5"/><circle cx="58.3" cy="2.3" r="1.1" fill="#eeeeee" opacity="0.5"/><circle cx="51.6" cy="16.4" r="1.3" fill="#cccccc" opacity="0.5"/><circle cx="58.0" cy="120.9" r="1.1" fill="#cccccc" opacity="0.5"/><circle cx="97.1" cy="55.8" r="0.6" fill="#808080" opacity="0.5"/><circle cx="116.5" cy="122.2" r="1.0" fill="#808080" opacity="0.5"/><circle cx="12.8" cy="16.7" r="0.6" fill="#eeeeee" opacity="0.5"/><circle cx="3.7" cy="32.6" r="1.1" fill="#808080" opacity="0.5"/><circle cx="13.9" cy="83.6" r="1.2" fill="#eeeeee" opacity="0.5"/><circle cx="12.5" cy="78.8" r="0.9" fill="#ffffff" opacity="0.5"/><circle cx="75.0" cy="44.6" r="1.1" fill="#ffffff" opacity="0.5"/><circle cx="95.3" cy="107.5" r="1.3" fill="#ffffff" opacity="0.5"/><circle cx="96.1" cy="23.1" r="1.1" fill="#ffffff" opacity="0.5"/><circle cx="95.0" cy="11.2" r="0.5" fill="#808080" opacity="0.5"/><circle cx="62.8" cy="87.8" r="1.2" fill="#808080" opacity="0.5"/><circle cx="16.3" cy="109.9" r="0.5" fill="#ffffff" opacity="0.5"/><circle cx="86.2" cy="90.4" r="0.9" fill="#eeeeee" opacity="0.5"/><circle cx="58.5" cy="114.3" r="1.2" fill="#cccccc" opacity="0.5"/><circle cx="89.0" cy="104.3" r="1.1" fill="#eeeeee" opacity="0.5"/><circle cx="87.5" cy="110.9" r="0.4" fill="#ffffff" opacity="0.5"/><circle cx="138.9" cy="84.6" r="0.5" fill="#cccccc" opacity="0.5"/><circle cx="87.8" cy="38.6" r="0.6" fill="#ffffff" opacity="0.5"/><circle cx="38.5" cy="90.9" r="0.5" fill="#808080" opacity="0.5"/><circle cx="36.0" cy="52.5" r="0.9" fill="#ffffff" opacity="0.5"/><polygon points="13.8,7.8 13.1,9.0 12.5,10.0 12.0,11.1 11.5,12.2 10.7,13.1 9.6,13.6 8.5,13.6 7.4,13.3 6.4,12.9 5.3,12.4 4.3,11.7 3.5,10.6 3.1,9.2 3.2,7.8 3.6,6.5 4.1,5.3 4.7,4.3 5.4,3.3 6.4,2.7 7.4,2.4 8.5,2.5 9.5,2.6 10.6,2.7 11.9,2.9 13.1,3.6 13.9,4.8 14.1,6.3" fill="#f0f0f0" stroke="#111" stroke-width="2.6" stroke-linejoin="round"/><polygon points="26.8,0.6 26.3,1.5 25.8,2.3 25.4,3.1 24.9,4.0 24.2,4.8 23.1,5.4 21.8,5.4 20.6,5.0 19.7,4.4 18.8,3.8 18.0,3.3 17.2,2.5 16.7,1.6 16.6,0.6 16.9,-0.4 17.4,-1.2 18.0,-2.0 18.7,-2.8 19.6,-3.4 20.7,-3.7 21.8,-3.8 22.9,-3.6 24.0,-3.3 25.0,-2.9 26.0,-2.3 26.8,-1.5 27.0,-0.4" fill="#f0f0f0" stroke="#111" stroke-width="2.6" stroke-linejoin="round"/><polygon points="47.1,3.7 47.3,4.9 46.9,6.1 46.0,7.1 44.8,7.9 43.3,8.5 41.8,8.9 40.2,9.0 38.6,8.9 37.1,8.4 36.1,7.5 35.4,6.5 35.0,5.5 34.6,4.6 34.0,3.7 33.5,2.6 33.4,1.3 33.9,0.0 35.2,-0.9 36.8,-1.5 38.5,-1.6 40.2,-1.4 41.7,-1.0 42.9,-0.5 44.0,0.2 44.9,0.9 45.8,1.7 46.5,2.6" fill="#f0f0f0" stroke="#111" stroke-width="2.6" stroke-linejoin="round"/><polygon points="64.7,8.3 64.4,9.3 64.2,10.3 63.9,11.3 63.4,12.4 62.4,13.2 61.3,13.4 60.1,13.2 59.1,12.6 58.3,12.0 57.6,11.4 56.9,10.9 56.1,10.2 55.5,9.3 55.1,8.3 55.0,7.1 55.2,6.0 55.8,4.9 56.8,4.2 58.0,3.9 59.1,4.0 60.1,4.2 61.0,4.4 62.0,4.4 63.0,4.6 64.0,5.2 64.7,6.1 64.9,7.2" fill="#f0f0f0" stroke="#111" stroke-width="2.6" stroke-linejoin="round"/><polygon points="27.1,14.9 27.1,16.3 26.7,17.7 26.0,18.8 25.1,19.5 24.2,20.1 23.3,20.6 22.3,21.1 21.2,21.3 20.1,20.9 19.2,20.0 18.6,18.8 18.2,17.5 17.9,16.2 17.7,14.9 17.6,13.5 17.8,12.1 18.4,10.8 19.3,10.0 20.3,9.5 21.3,9.2 22.3,8.9 23.4,8.8 24.4,9.2 25.3,9.9 26.0,11.0 26.5,12.2 26.9,13.5" fill="#f0f0f0" stroke="#111" stroke-width="2.6" stroke-linejoin="round"/><polygon points="38.3,17.5 38.3,18.4 38.0,19.2 37.5,19.9 36.8,20.4 36.2,20.9 35.4,21.4 34.5,21.5 33.6,21.4 32.9,20.9 32.4,20.2 32.0,19.5 31.6,18.9 31.2,18.3 30.8,17.5 30.7,16.6 30.9,15.8 31.4,15.0 32.1,14.5 32.8,14.0 33.6,13.7 34.5,13.6 35.3,13.8 36.1,14.2 36.6,14.8 37.1,15.4 37.6,16.0 38.0,16.7" fill="#f0f0f0" stroke="#111" stroke-width="2.6" stroke-linejoin="round"/><polygon points="52.3,14.4 51.9,15.5 51.3,16.3 50.7,17.1 50.0,17.8 49.2,18.4 48.3,18.8 47.3,18.9 46.3,18.6 45.5,18.2 44.7,17.7 43.8,17.2 43.0,16.5 42.5,15.5 42.3,14.4 42.6,13.3 43.2,12.4 43.9,11.7 44.6,11.0 45.4,10.4 46.3,10.0 47.3,9.9 48.3,10.2 49.1,10.6 49.9,11.1 50.8,11.6 51.6,12.3 52.1,13.3" fill="#f0f0f0" stroke="#111" stroke-width="2.6" stroke-linejoin="round"/><polygon points="14.0,24.1 13.8,25.2 13.7,26.4 13.5,27.7 12.7,28.9 11.5,29.7 10.0,30.1 8.5,30.0 7.1,29.6 5.9,29.0 4.9,28.3 4.1,27.3 3.4,26.3 2.9,25.3 2.3,24.1 2.0,22.8 2.2,21.3 3.0,20.1 4.4,19.4 5.9,19.2 7.3,19.2 8.5,19.2 9.8,18.9 11.3,18.8 12.8,19.2 13.9,20.2 14.4,21.5 14.3,22.9" fill="#f0f0f0" stroke="#111" stroke-width="2.6" stroke-linejoin="round"/><polygon points="32.4,27.2 32.5,28.1 32.3,29.1 31.8,29.9 31.0,30.4 30.1,30.8 29.3,31.0 28.4,31.3 27.4,31.4 26.5,31.2 25.7,30.6 25.2,29.8 24.9,28.9 24.6,28.1 24.4,27.2 24.2,26.2 24.4,25.3 24.9,24.4 25.8,23.9 26.7,23.7 27.5,23.4 28.4,23.2 29.3,23.0 30.3,23.2 31.2,23.7 31.7,24.6 32.0,25.5 32.2,26.3" fill="#f0f0f0" stroke="#111" stroke-width="2.6" stroke-linejoin="round"/><polygon points="45.5,29.2 45.1,30.2 44.5,31.0 44.0,31.8 43.3,32.5 42.6,33.2 41.7,33.7 40.7,33.9 39.6,33.8 38.7,33.4 37.8,32.8 37.2,32.0 36.7,31.1 36.5,30.2 36.4,29.2 36.5,28.2 36.6,27.2 37.0,26.2 37.6,25.4 38.6,24.8 39.7,24.7 40.7,24.9 41.6,25.2 42.5,25.5 43.4,25.8 44.3,26.3 45.1,27.1 45.5,28.1" fill="#f0f0f0" stroke="#111" stroke-width="2.6" stroke-linejoin="round"/><polygon points="56.7,25.1 56.9,26.2 56.8,27.4 56.3,28.5 55.5,29.2 54.6,29.5 53.8,29.7 53.0,29.9 52.1,30.1 51.2,30.0 50.4,29.3 49.9,28.3 49.6,27.2 49.4,26.2 49.2,25.1 49.0,23.9 49.1,22.7 49.7,21.7 50.5,21.1 51.4,20.8 52.2,20.6 53.0,20.4 53.9,20.1 54.8,20.2 55.7,20.8 56.2,21.8 56.4,23.0 56.5,24.1" fill="#f0f0f0" stroke="#111" stroke-width="2.6" stroke-linejoin="round"/><polygon points="71.1,21.0 71.1,22.1 70.7,23.2 70.2,24.2 69.4,25.0 68.5,25.7 67.4,26.1 66.2,26.2 65.1,25.9 64.1,25.3 63.3,24.6 62.6,23.9 61.9,23.1 61.3,22.1 61.0,21.0 61.1,19.8 61.6,18.8 62.4,17.9 63.2,17.2 64.1,16.6 65.1,16.1 66.2,15.8 67.4,15.9 68.4,16.4 69.2,17.2 69.9,18.1 70.4,19.0 70.9,19.9" fill="#f0f0f0" stroke="#111" stroke-width="2.6" stroke-linejoin="round"/><polygon points="23.0,35.4 23.1,36.8 22.7,38.2 22.0,39.2 21.1,39.7 20.3,40.1 19.5,40.5 18.7,40.9 17.8,40.9 17.0,40.5 16.3,39.8 15.7,38.8 15.2,37.8 14.9,36.6 14.7,35.4 14.8,34.1 15.1,32.9 15.6,31.9 16.2,31.0 16.9,30.2 17.8,29.5 18.7,29.3 19.6,29.7 20.3,30.5 20.9,31.5 21.3,32.4 21.8,33.2 22.5,34.2" fill="#f0f0f0" stroke="#111" stroke-width="2.6" stroke-linejoin="round"/><polygon points="9.0,39.4 9.2,40.4 9.3,41.5 9.1,42.7 8.3,43.7 7.2,44.1 6.0,44.2 4.9,44.0 3.9,43.7 3.0,43.4 2.1,42.9 1.3,42.3 0.7,41.4 0.4,40.4 0.2,39.4 0.2,38.3 0.4,37.2 1.0,36.3 1.9,35.6 2.9,35.2 3.9,34.9 4.9,34.7 6.0,34.7 7.1,34.9 8.0,35.5 8.6,36.4 8.8,37.5 8.9,38.5" fill="#9a9a9a" stroke="#111" stroke-width="2.6" stroke-linejoin="round"/><polygon points="36.5,42.0 36.5,43.7 36.3,45.4 35.8,47.1 35.0,48.4 33.8,49.1 32.6,49.3 31.5,49.0 30.5,48.5 29.5,48.0 28.6,47.4 27.6,46.5 26.8,45.4 26.1,43.8 25.9,42.0 26.1,40.2 26.7,38.6 27.5,37.3 28.5,36.4 29.4,35.6 30.4,35.1 31.5,34.7 32.6,34.7 33.7,35.2 34.7,36.1 35.4,37.4 35.9,38.9 36.3,40.4" fill="#f0f0f0" stroke="#111" stroke-width="2.6" stroke-linejoin="round"/><polygon points="50.7,45.1 50.6,46.1 50.3,47.0 49.9,48.0 49.3,48.8 48.4,49.4 47.3,49.7 46.3,49.6 45.3,49.4 44.4,49.1 43.5,48.6 42.6,48.1 41.9,47.2 41.5,46.2 41.5,45.1 41.8,44.1 42.3,43.2 42.9,42.4 43.6,41.7 44.4,41.1 45.3,40.7 46.3,40.4 47.4,40.5 48.4,40.8 49.3,41.3 50.1,42.1 50.6,43.1 50.8,44.1" fill="#f0f0f0" stroke="#111" stroke-width="2.6" stroke-linejoin="round"/><polygon points="60.7,36.4 60.6,37.5 60.4,38.5 60.0,39.5 59.5,40.2 58.9,40.9 58.3,41.5 57.5,41.9 56.7,41.9 55.9,41.5 55.2,40.7 54.9,39.5 54.7,38.4 54.6,37.4 54.5,36.4 54.4,35.3 54.5,34.2 54.8,33.1 55.3,32.2 56.0,31.6 56.7,31.3 57.5,31.2 58.3,31.3 59.0,31.6 59.7,32.3 60.2,33.2 60.5,34.2 60.6,35.3" fill="#f0f0f0" stroke="#111" stroke-width="2.6" stroke-linejoin="round"/><polygon points="64.7,44.5 64.7,45.2 64.5,45.9 64.1,46.5 63.6,47.1 63.0,47.5 62.3,47.7 61.6,47.8 60.9,47.6 60.3,47.2 59.7,46.9 59.2,46.4 58.7,45.9 58.4,45.2 58.4,44.5 58.7,43.8 59.1,43.3 59.5,42.8 59.8,42.2 60.2,41.5 60.8,40.9 61.6,40.7 62.4,40.9 63.0,41.6 63.4,42.3 63.7,42.8 64.0,43.3 64.4,43.9" fill="#f0f0f0" stroke="#111" stroke-width="2.6" stroke-linejoin="round"/><polygon points="73.4,34.8 73.4,35.8 73.1,36.8 72.5,37.6 71.8,38.3 70.9,38.8 70.0,39.2 69.0,39.3 68.0,39.1 67.1,38.8 66.3,38.2 65.7,37.4 65.2,36.6 64.9,35.7 64.7,34.8 64.7,33.8 65.0,32.9 65.5,32.0 66.2,31.2 67.0,30.7 68.0,30.3 69.0,30.3 70.0,30.5 70.9,30.9 71.6,31.5 72.2,32.2 72.7,33.0 73.2,33.8" fill="#333" stroke="#111" stroke-width="2.6" stroke-linejoin="round"/><ellipse cx="69.7" cy="35.2" rx="2.0" ry="1.8" fill="#f4f4f4"/><polygon points="20.8,50.2 20.2,51.4 19.5,52.3 19.1,53.4 18.7,54.7 17.9,55.9 16.6,56.6 15.1,56.4 13.9,55.6 13.0,54.6 12.2,53.9 11.2,53.3 10.1,52.6 9.2,51.5 8.9,50.2 9.1,48.8 9.8,47.7 10.6,46.6 11.6,45.8 12.6,45.1 13.9,44.8 15.1,44.8 16.3,45.1 17.4,45.5 18.6,45.9 19.8,46.5 20.7,47.5 21.1,48.8" fill="#f0f0f0" stroke="#111" stroke-width="2.6" stroke-linejoin="round"/><polygon points="61.4,55.3 60.7,56.5 60.1,57.5 59.6,58.6 59.1,59.8 58.3,61.0 57.0,61.9 55.5,62.2 54.0,62.0 52.5,61.5 51.3,60.6 50.3,59.5 49.8,58.1 49.7,56.6 50.0,55.3 50.4,54.1 50.7,53.0 51.0,51.7 51.6,50.4 52.6,49.3 54.0,48.8 55.5,48.8 56.9,49.1 58.3,49.6 59.6,50.1 60.8,51.0 61.7,52.3 61.8,53.9" fill="#f0f0f0" stroke="#111" stroke-width="2.6" stroke-linejoin="round"/><polygon points="31.4,62.0 31.4,63.8 30.6,65.2 29.4,66.2 28.2,66.9 27.2,67.6 26.2,68.4 25.0,69.0 23.7,68.9 22.6,68.0 21.8,66.8 21.3,65.6 20.6,64.5 19.9,63.4 19.3,62.0 19.1,60.4 19.5,58.8 20.4,57.5 21.4,56.5 22.5,55.7 23.7,55.1 25.0,55.0 26.2,55.7 27.1,56.7 27.8,57.8 28.5,58.6 29.6,59.4 30.7,60.4" fill="#f0f0f0" stroke="#111" stroke-width="2.6" stroke-linejoin="round"/><polygon points="45.1,62.5 45.1,63.6 44.7,64.7 43.9,65.5 43.0,66.0 42.1,66.5 41.2,67.1 40.2,67.6 39.0,67.9 37.7,67.7 36.7,66.9 36.0,65.8 35.7,64.6 35.7,63.5 35.7,62.5 35.9,61.5 36.1,60.5 36.6,59.6 37.2,58.8 38.0,58.0 39.0,57.4 40.2,57.0 41.4,57.1 42.5,57.6 43.4,58.5 44.0,59.5 44.4,60.5 44.8,61.4" fill="#f0f0f0" stroke="#111" stroke-width="2.6" stroke-linejoin="round"/><polygon points="8.9,60.4 8.5,61.2 8.2,62.0 7.9,62.8 7.6,63.8 7.0,64.8 6.1,65.5 4.9,65.6 3.8,65.1 3.0,64.3 2.4,63.5 1.8,62.9 1.1,62.2 0.5,61.4 0.2,60.4 0.5,59.4 1.1,58.6 1.8,57.9 2.5,57.3 3.1,56.7 3.9,56.1 4.9,55.7 6.0,55.7 7.0,56.0 7.9,56.6 8.6,57.5 9.0,58.4 9.0,59.5" fill="#f0f0f0" stroke="#111" stroke-width="2.6" stroke-linejoin="round"/><polygon points="73.3,52.2 73.0,53.4 72.4,54.4 71.6,55.2 70.8,55.7 70.0,56.1 69.2,56.5 68.3,56.9 67.3,57.0 66.3,56.9 65.4,56.3 64.7,55.5 64.2,54.4 64.0,53.3 63.9,52.2 64.0,51.1 64.3,50.0 64.8,49.0 65.5,48.2 66.3,47.6 67.3,47.4 68.3,47.5 69.2,47.8 70.0,48.2 70.9,48.6 71.7,49.1 72.5,49.9 73.1,51.0" fill="#f0f0f0" stroke="#111" stroke-width="2.6" stroke-linejoin="round"/><polygon points="15.4,67.0 15.3,67.8 14.9,68.4 14.3,68.9 13.8,69.3 13.4,69.8 12.8,70.4 12.0,70.7 11.2,70.6 10.5,70.1 10.1,69.4 9.8,68.8 9.4,68.3 8.9,67.7 8.5,67.0 8.5,66.2 8.9,65.5 9.5,65.0 10.1,64.6 10.7,64.2 11.3,63.8 12.0,63.6 12.8,63.6 13.5,64.0 14.0,64.5 14.4,65.1 14.8,65.6 15.2,66.3" fill="#f0f0f0" stroke="#111" stroke-width="2.6" stroke-linejoin="round"/><polygon points="89.2,4.7 88.5,5.8 87.9,6.8 87.4,7.8 86.7,8.9 85.5,9.9 83.8,10.3 82.1,10.1 80.6,9.4 79.5,8.7 78.5,8.1 77.4,7.5 76.3,6.8 75.4,5.8 75.0,4.7 75.0,3.5 75.3,2.3 76.0,1.1 77.2,0.2 78.8,-0.3 80.6,-0.3 82.1,0.2 83.4,0.6 84.6,0.9 86.0,1.1 87.7,1.4 89.0,2.3 89.5,3.5" fill="#f0f0f0" stroke="#111" stroke-width="2.6" stroke-linejoin="round"/><polygon points="100.5,2.1 100.1,3.0 99.9,3.8 99.6,4.7 99.2,5.6 98.4,6.3 97.4,6.6 96.4,6.5 95.4,6.3 94.5,6.1 93.5,5.8 92.5,5.2 92.0,4.2 92.0,3.1 92.4,2.1 92.8,1.3 93.1,0.5 93.2,-0.4 93.6,-1.4 94.4,-2.1 95.4,-2.5 96.4,-2.4 97.4,-2.2 98.3,-1.9 99.3,-1.5 100.1,-0.9 100.7,0.0 100.7,1.1" fill="#f0f0f0" stroke="#111" stroke-width="2.6" stroke-linejoin="round"/><polygon points="111.1,4.7 110.8,5.3 110.3,5.8 109.8,6.1 109.5,6.5 109.2,7.0 108.7,7.5 108.1,7.9 107.4,7.9 106.7,7.6 106.2,7.1 105.8,6.6 105.5,6.0 105.4,5.3 105.5,4.7 105.7,4.2 106.0,3.7 106.2,3.2 106.5,2.7 106.8,2.1 107.4,1.6 108.1,1.5 108.8,1.7 109.3,2.1 109.8,2.6 110.3,3.0 110.8,3.4 111.1,4.0" fill="#f0f0f0" stroke="#111" stroke-width="2.6" stroke-linejoin="round"/><polygon points="135.0,5.2 135.0,6.1 134.7,6.9 134.1,7.7 133.2,8.2 132.2,8.6 131.2,8.9 130.1,9.1 128.9,9.3 127.7,9.1 126.6,8.6 125.9,7.8 125.5,6.9 125.4,6.0 125.3,5.2 125.4,4.4 125.7,3.6 126.3,2.8 127.0,2.2 127.9,1.7 129.0,1.3 130.1,1.0 131.3,1.0 132.5,1.3 133.4,2.0 134.1,2.8 134.4,3.6 134.7,4.4" fill="#f0f0f0" stroke="#111" stroke-width="2.6" stroke-linejoin="round"/><polygon points="103.4,12.4 103.3,12.8 103.1,13.2 103.0,13.6 102.8,14.0 102.5,14.4 102.0,14.7 101.5,14.6 101.0,14.4 100.7,14.1 100.3,13.9 100.0,13.6 99.7,13.3 99.5,12.8 99.6,12.4 99.7,12.0 99.9,11.6 100.1,11.2 100.2,10.8 100.5,10.4 101.0,10.1 101.5,10.1 102.0,10.4 102.3,10.6 102.7,10.9 103.0,11.2 103.3,11.5 103.4,12.0" fill="#f0f0f0" stroke="#111" stroke-width="2.6" stroke-linejoin="round"/><polygon points="106.6,18.5 106.6,18.8 106.4,19.1 106.2,19.4 106.0,19.7 105.8,20.0 105.5,20.2 105.1,20.3 104.7,20.1 104.4,19.9 104.2,19.7 104.0,19.4 103.7,19.2 103.6,18.9 103.5,18.5 103.7,18.2 103.9,17.9 104.1,17.7 104.2,17.4 104.4,17.0 104.7,16.8 105.1,16.6 105.5,16.8 105.8,17.0 106.0,17.4 106.2,17.6 106.4,17.9 106.6,18.2" fill="#9a9a9a" stroke="#111" stroke-width="2.6" stroke-linejoin="round"/><polygon points="121.8,12.9 121.1,14.0 120.4,14.8 120.0,15.6 119.7,16.6 119.3,18.0 118.4,19.2 117.3,19.8 116.1,19.5 115.1,18.6 114.4,17.5 113.9,16.3 113.4,15.2 113.2,14.1 113.1,12.9 113.3,11.8 113.6,10.7 114.0,9.6 114.5,8.6 115.3,7.6 116.2,7.0 117.3,6.9 118.3,7.2 119.3,7.7 120.2,8.3 121.1,9.1 121.8,10.2 122.1,11.5" fill="#f0f0f0" stroke="#111" stroke-width="2.6" stroke-linejoin="round"/><polygon points="88.6,20.5 88.7,22.1 88.4,23.8 87.7,25.3 86.5,26.2 85.1,26.5 83.8,26.5 82.6,26.4 81.4,26.5 80.1,26.5 78.7,26.2 77.5,25.3 76.8,23.8 76.6,22.1 76.8,20.5 77.1,19.0 77.5,17.6 78.0,16.2 78.9,15.0 80.0,14.1 81.3,13.7 82.6,13.7 83.9,14.0 85.1,14.5 86.2,15.2 87.1,16.3 87.8,17.6 88.3,19.0" fill="#f0f0f0" stroke="#111" stroke-width="2.6" stroke-linejoin="round"/><polygon points="98.7,25.6 98.6,26.6 98.4,27.5 98.0,28.3 97.5,29.1 96.8,29.6 96.1,29.9 95.3,30.0 94.5,29.9 93.8,29.5 93.3,28.8 92.9,28.0 92.6,27.2 92.4,26.4 92.1,25.6 91.9,24.6 91.8,23.5 92.2,22.5 92.9,21.8 93.8,21.5 94.6,21.6 95.3,21.8 96.0,21.9 96.6,22.0 97.4,22.3 98.0,22.9 98.4,23.7 98.6,24.6" fill="#f0f0f0" stroke="#111" stroke-width="2.6" stroke-linejoin="round"/><polygon points="110.0,30.8 109.6,32.0 108.9,33.0 108.2,33.7 107.6,34.5 106.9,35.2 106.1,35.8 105.1,36.0 104.1,35.8 103.3,35.2 102.6,34.5 102.0,33.7 101.4,32.9 100.9,31.9 100.6,30.8 100.6,29.6 100.9,28.4 101.4,27.3 102.2,26.5 103.2,26.1 104.2,26.0 105.1,26.3 105.9,26.6 106.7,27.0 107.5,27.2 108.5,27.6 109.4,28.4 110.0,29.5" fill="#f0f0f0" stroke="#111" stroke-width="2.6" stroke-linejoin="round"/><polygon points="121.3,29.2 121.4,30.7 121.1,32.1 120.5,33.2 119.7,33.9 118.9,34.4 118.1,35.0 117.3,35.4 116.4,35.5 115.5,35.1 114.8,34.2 114.3,33.0 113.9,31.8 113.5,30.6 113.3,29.2 113.3,27.8 113.6,26.4 114.2,25.4 115.0,24.6 115.7,23.9 116.4,23.3 117.3,22.8 118.2,22.7 119.1,23.3 119.8,24.3 120.2,25.5 120.6,26.7 121.0,27.9" fill="#f0f0f0" stroke="#111" stroke-width="2.6" stroke-linejoin="round"/><polygon points="135.9,19.5 135.8,21.1 134.9,22.4 133.9,23.2 132.9,23.8 132.1,24.5 131.1,25.1 130.1,25.5 129.0,25.5 127.9,25.2 126.8,24.5 125.9,23.6 125.0,22.5 124.6,21.0 124.7,19.5 125.4,18.2 126.1,17.2 126.8,16.3 127.3,15.1 127.9,13.8 128.8,12.7 130.1,12.3 131.3,13.0 132.2,14.1 132.8,15.3 133.5,16.1 134.5,16.9 135.4,18.0" fill="#f0f0f0" stroke="#111" stroke-width="2.6" stroke-linejoin="round"/><polygon points="131.2,33.3 131.2,34.1 131.0,35.0 130.6,35.8 129.9,36.4 129.1,36.7 128.3,36.8 127.5,36.9 126.7,36.8 125.8,36.7 125.0,36.4 124.4,35.8 124.1,34.9 124.1,34.1 124.3,33.3 124.4,32.6 124.4,31.8 124.5,30.9 124.9,30.0 125.6,29.4 126.6,29.2 127.5,29.4 128.3,29.8 129.0,30.2 129.6,30.6 130.2,31.1 130.7,31.8 131.0,32.5" fill="#f0f0f0" stroke="#111" stroke-width="2.6" stroke-linejoin="round"/><polygon points="91.1,38.4 90.9,40.0 90.4,41.5 89.6,42.8 88.6,43.8 87.5,44.4 86.3,44.6 85.1,44.7 83.9,44.8 82.6,44.8 81.2,44.4 80.1,43.3 79.6,41.7 79.7,39.9 80.1,38.4 80.5,37.1 80.6,35.7 80.7,34.1 81.2,32.4 82.3,31.2 83.7,30.9 85.1,31.3 86.3,32.1 87.3,32.9 88.3,33.5 89.4,34.3 90.3,35.3 90.9,36.8" fill="#f0f0f0" stroke="#111" stroke-width="2.6" stroke-linejoin="round"/><polygon points="101.3,37.9 101.3,38.8 100.9,39.6 100.3,40.2 99.6,40.6 98.8,40.9 98.1,41.1 97.4,41.4 96.6,41.5 95.7,41.4 95.0,40.9 94.5,40.2 94.2,39.4 94.2,38.6 94.2,37.9 94.1,37.2 94.2,36.3 94.4,35.5 94.9,34.8 95.7,34.3 96.5,34.1 97.4,34.3 98.2,34.6 98.8,35.0 99.4,35.4 100.0,35.8 100.6,36.4 101.0,37.1" fill="#f0f0f0" stroke="#111" stroke-width="2.6" stroke-linejoin="round"/><polygon points="113.2,46.6 113.3,47.7 112.9,48.7 112.1,49.4 111.0,49.9 110.0,50.2 109.1,50.6 108.1,51.2 106.8,51.5 105.5,51.4 104.4,50.7 103.9,49.6 103.8,48.5 103.8,47.5 103.8,46.6 103.7,45.7 103.7,44.7 104.1,43.8 104.8,43.0 105.8,42.4 106.9,42.0 108.1,41.8 109.3,41.8 110.4,42.3 111.3,43.1 111.9,43.9 112.3,44.8 112.7,45.7" fill="#f0f0f0" stroke="#111" stroke-width="2.6" stroke-linejoin="round"/><polygon points="123.8,41.0 123.5,41.4 123.2,41.7 122.8,42.0 122.4,42.3 121.8,42.7 120.9,42.9 119.9,42.9 119.0,42.7 118.3,42.4 117.8,42.1 117.3,41.9 116.7,41.6 116.2,41.4 116.0,41.0 116.0,40.6 116.3,40.3 116.7,39.9 117.2,39.6 118.0,39.3 118.9,39.2 119.9,39.3 120.7,39.4 121.4,39.6 122.1,39.8 122.8,40.0 123.4,40.3 123.8,40.6" fill="#f0f0f0" stroke="#111" stroke-width="2.6" stroke-linejoin="round"/><polygon points="120.7,46.1 120.6,46.3 120.6,46.4 120.5,46.6 120.4,46.7 120.2,46.8 120.1,46.9 119.9,46.9 119.7,46.9 119.5,46.8 119.4,46.7 119.3,46.6 119.2,46.5 119.1,46.3 119.1,46.1 119.2,45.9 119.3,45.8 119.4,45.7 119.5,45.6 119.6,45.4 119.7,45.3 119.9,45.2 120.1,45.2 120.3,45.3 120.4,45.4 120.5,45.6 120.6,45.8 120.6,45.9" fill="#f0f0f0" stroke="#111" stroke-width="2.6" stroke-linejoin="round"/><polygon points="136.3,38.4 136.1,38.8 135.9,39.2 135.8,39.7 135.5,40.1 135.2,40.4 134.7,40.6 134.2,40.6 133.7,40.5 133.3,40.2 133.0,40.0 132.7,39.6 132.4,39.3 132.1,38.9 132.0,38.4 131.9,37.9 132.1,37.4 132.4,37.0 132.9,36.7 133.3,36.6 133.8,36.6 134.2,36.6 134.6,36.5 135.1,36.5 135.6,36.6 136.1,36.9 136.3,37.4 136.4,37.9" fill="#9a9a9a" stroke="#111" stroke-width="2.6" stroke-linejoin="round"/><polygon points="98.8,50.2 98.5,51.3 98.3,52.4 97.9,53.4 97.3,54.3 96.6,54.9 95.7,55.1 94.8,55.0 94.0,54.8 93.2,54.4 92.5,54.0 91.8,53.3 91.2,52.4 90.8,51.4 90.6,50.2 90.6,49.0 90.8,47.7 91.4,46.7 92.2,46.1 93.2,45.9 94.1,46.0 94.8,46.1 95.5,46.0 96.4,45.8 97.4,46.0 98.3,46.6 98.8,47.7 98.9,49.0" fill="#f0f0f0" stroke="#111" stroke-width="2.6" stroke-linejoin="round"/><polygon points="120.0,53.7 119.8,54.5 119.5,55.2 119.2,56.0 118.7,56.8 118.1,57.4 117.3,57.9 116.3,58.0 115.4,57.7 114.6,57.3 113.8,56.8 113.2,56.2 112.7,55.4 112.5,54.6 112.5,53.7 112.7,52.9 113.0,52.1 113.4,51.4 113.9,50.7 114.5,50.1 115.4,49.7 116.3,49.5 117.2,49.7 118.1,50.0 118.9,50.5 119.5,51.1 119.9,51.9 120.1,52.8" fill="#f0f0f0" stroke="#111" stroke-width="2.6" stroke-linejoin="round"/><polygon points="134.4,51.2 134.4,52.7 134.0,54.1 133.2,55.2 132.3,56.1 131.3,56.9 130.3,57.8 129.1,58.6 127.7,58.9 126.3,58.4 125.2,57.2 124.6,55.6 124.2,54.1 123.9,52.6 123.7,51.2 123.7,49.7 124.2,48.3 125.1,47.3 126.0,46.5 126.9,45.6 127.9,44.6 129.1,43.7 130.6,43.3 132.0,43.8 133.1,45.1 133.6,46.8 133.9,48.4 134.1,49.8" fill="#f0f0f0" stroke="#111" stroke-width="2.6" stroke-linejoin="round"/><polygon points="87.7,55.8 87.6,57.2 87.3,58.6 86.8,59.9 86.0,61.0 85.0,61.8 83.8,62.2 82.6,62.2 81.5,61.8 80.5,61.2 79.6,60.3 78.9,59.4 78.4,58.3 78.0,57.1 77.7,55.8 77.6,54.4 77.7,52.9 78.2,51.5 79.0,50.3 80.2,49.6 81.4,49.5 82.6,49.8 83.6,50.2 84.6,50.8 85.5,51.3 86.4,52.1 87.1,53.1 87.5,54.4" fill="#f0f0f0" stroke="#111" stroke-width="2.6" stroke-linejoin="round"/><polygon points="108.1,61.5 107.8,62.5 107.3,63.4 106.7,64.3 106.0,65.2 105.0,65.9 103.8,66.4 102.5,66.5 101.2,66.3 100.0,65.9 99.0,65.2 98.1,64.4 97.5,63.5 97.1,62.5 97.1,61.5 97.3,60.5 97.6,59.5 98.2,58.6 98.9,57.7 99.9,57.0 101.2,56.7 102.5,56.6 103.8,56.8 104.9,57.3 106.0,57.8 107.0,58.5 107.7,59.4 108.0,60.4" fill="#f0f0f0" stroke="#111" stroke-width="2.6" stroke-linejoin="round"/><polygon points="141.6,49.2 141.8,50.1 141.9,51.1 141.7,52.2 141.0,53.0 140.1,53.5 139.0,53.7 138.0,53.8 137.0,53.8 135.9,53.5 135.1,52.8 134.6,51.9 134.5,50.9 134.4,50.0 134.3,49.2 134.0,48.3 134.0,47.3 134.3,46.2 135.0,45.5 136.0,45.1 137.0,44.8 138.0,44.7 139.0,44.6 140.1,44.8 141.0,45.4 141.5,46.4 141.6,47.5 141.5,48.4" fill="#f0f0f0" stroke="#111" stroke-width="2.6" stroke-linejoin="round"/><polygon points="139.3,64.0 139.2,65.0 138.9,66.0 138.5,67.0 137.9,67.8 137.1,68.5 136.2,69.0 135.2,69.2 134.2,69.1 133.2,68.7 132.3,68.1 131.6,67.2 131.2,66.2 131.0,65.1 131.0,64.0 131.2,63.0 131.5,62.0 132.0,61.1 132.6,60.3 133.3,59.6 134.2,59.0 135.2,58.7 136.3,58.7 137.3,59.1 138.1,59.9 138.7,60.8 139.1,61.9 139.3,63.0" fill="#f0f0f0" stroke="#111" stroke-width="2.6" stroke-linejoin="round"/><polygon points="55.6,72.3 55.4,73.6 54.9,74.7 54.4,75.8 53.6,76.8 52.7,77.6 51.6,78.0 50.4,78.0 49.3,77.5 48.4,77.0 47.4,76.5 46.4,75.8 45.5,74.9 45.0,73.7 45.1,72.3 45.5,71.1 46.1,70.0 46.7,69.1 47.4,68.1 48.1,67.1 49.2,66.4 50.4,66.2 51.6,66.6 52.5,67.3 53.4,68.1 54.2,68.9 54.9,69.9 55.4,71.0" fill="#f0f0f0" stroke="#111" stroke-width="2.6" stroke-linejoin="round"/><polygon points="70.7,68.7 70.6,69.8 70.2,70.9 69.6,71.8 68.9,72.5 68.0,72.9 67.1,73.2 66.2,73.4 65.3,73.4 64.3,73.2 63.4,72.6 62.7,71.9 62.1,70.9 61.7,69.9 61.5,68.7 61.6,67.5 62.0,66.4 62.7,65.6 63.6,65.0 64.5,64.7 65.3,64.4 66.2,64.2 67.1,64.0 68.2,64.1 69.1,64.6 69.9,65.4 70.4,66.4 70.7,67.5" fill="#f0f0f0" stroke="#111" stroke-width="2.6" stroke-linejoin="round"/><polygon points="9.1,73.8 8.8,74.2 8.6,74.6 8.5,75.0 8.4,75.5 8.1,76.0 7.6,76.3 7.0,76.5 6.4,76.4 5.9,76.2 5.4,75.8 5.0,75.4 4.9,74.8 4.9,74.3 5.0,73.8 5.0,73.3 5.1,72.9 5.2,72.4 5.5,71.9 6.0,71.6 6.5,71.5 7.0,71.5 7.5,71.6 8.1,71.6 8.7,71.7 9.2,72.0 9.5,72.6 9.4,73.2" fill="#d8d8d8" stroke="#333" stroke-width="1.0" stroke-linejoin="round"/><polygon points="29.7,76.9 29.4,77.4 29.1,77.7 28.9,78.1 28.6,78.4 28.3,78.8 27.9,79.0 27.4,79.0 26.9,79.0 26.5,78.8 26.1,78.6 25.7,78.2 25.4,77.8 25.3,77.4 25.2,76.9 25.3,76.4 25.4,75.9 25.7,75.5 26.0,75.2 26.5,75.0 27.0,75.0 27.4,75.1 27.8,75.1 28.2,75.2 28.8,75.2 29.3,75.4 29.7,75.8 29.8,76.4" fill="#f0f0f0" stroke="#111" stroke-width="2.6" stroke-linejoin="round"/><polygon points="14.7,82.5 14.9,83.5 14.7,84.5 14.3,85.5 13.6,86.3 12.6,86.9 11.6,87.2 10.5,87.2 9.5,87.0 8.6,86.5 7.8,85.9 7.1,85.2 6.6,84.4 6.3,83.5 6.3,82.5 6.5,81.6 6.8,80.7 7.1,79.8 7.6,78.8 8.3,77.9 9.3,77.3 10.5,77.2 11.6,77.6 12.5,78.4 13.1,79.3 13.5,80.1 13.9,80.9 14.4,81.6" fill="#f0f0f0" stroke="#111" stroke-width="2.6" stroke-linejoin="round"/><polygon points="39.9,84.5 39.4,86.0 38.8,87.2 38.1,88.0 37.6,89.0 37.1,90.0 36.5,91.1 35.6,91.9 34.6,92.0 33.7,91.6 32.8,90.6 32.2,89.3 31.8,87.7 31.7,86.0 32.0,84.5 32.4,83.2 32.7,82.1 33.0,80.8 33.3,79.4 33.8,77.9 34.6,77.0 35.6,76.8 36.5,77.4 37.3,78.3 38.0,79.3 38.7,80.2 39.4,81.3 39.9,82.8" fill="#f0f0f0" stroke="#111" stroke-width="2.6" stroke-linejoin="round"/><polygon points="67.5,86.6 67.3,87.8 67.0,89.0 66.6,90.1 66.0,91.3 65.1,92.4 63.9,93.0 62.6,93.0 61.4,92.4 60.5,91.5 59.8,90.5 59.2,89.7 58.5,88.8 58.0,87.8 57.8,86.6 57.8,85.4 58.0,84.1 58.4,82.9 59.1,81.7 60.1,80.8 61.3,80.4 62.6,80.5 63.7,81.1 64.7,81.8 65.4,82.6 66.2,83.4 66.9,84.3 67.4,85.4" fill="#f0f0f0" stroke="#111" stroke-width="2.6" stroke-linejoin="round"/><polygon points="27.0,89.6 26.8,90.5 26.5,91.4 26.3,92.4 25.9,93.5 25.1,94.5 24.0,94.9 22.8,94.6 21.9,93.8 21.3,92.8 20.8,92.1 20.1,91.7 19.2,91.3 18.4,90.6 18.0,89.6 18.1,88.5 18.6,87.6 19.2,86.7 19.9,85.9 20.7,85.3 21.7,85.0 22.8,85.1 23.7,85.5 24.5,86.0 25.3,86.5 26.0,87.0 26.7,87.7 27.0,88.6" fill="#f0f0f0" stroke="#111" stroke-width="2.6" stroke-linejoin="round"/><polygon points="10.0,95.3 9.7,96.6 9.2,97.8 8.5,98.8 7.8,99.7 6.9,100.4 6.0,101.1 4.9,101.6 3.7,101.7 2.5,101.4 1.4,100.6 0.6,99.5 0.1,98.1 -0.2,96.7 -0.2,95.3 0.1,94.0 0.6,92.8 1.3,91.8 2.0,90.9 2.9,90.2 3.8,89.5 4.9,89.1 6.1,88.9 7.3,89.2 8.4,90.0 9.2,91.1 9.7,92.4 10.0,93.9" fill="#f0f0f0" stroke="#111" stroke-width="2.6" stroke-linejoin="round"/><polygon points="20.8,99.4 20.8,100.5 20.6,101.5 20.2,102.5 19.6,103.3 18.9,104.0 18.1,104.6 17.2,104.9 16.2,104.9 15.3,104.4 14.7,103.5 14.3,102.4 14.1,101.3 13.9,100.4 13.5,99.4 13.3,98.2 13.4,97.0 13.9,96.0 14.7,95.3 15.6,95.0 16.4,94.8 17.2,94.5 18.1,94.3 19.1,94.4 19.9,95.0 20.5,96.0 20.7,97.2 20.8,98.3" fill="#f0f0f0" stroke="#111" stroke-width="2.6" stroke-linejoin="round"/><polygon points="51.4,98.3 51.3,99.7 51.1,101.1 50.7,102.6 50.1,103.8 49.1,104.7 48.0,105.2 46.8,105.5 45.6,105.6 44.3,105.4 43.2,104.5 42.5,103.0 42.4,101.2 42.7,99.6 43.1,98.3 43.1,97.1 42.8,95.7 42.7,93.8 43.1,92.0 44.1,90.8 45.5,90.4 46.8,90.8 47.9,91.5 49.0,92.2 49.9,93.0 50.7,94.1 51.2,95.4 51.4,96.9" fill="#f0f0f0" stroke="#111" stroke-width="2.6" stroke-linejoin="round"/><polygon points="66.4,102.9 66.0,104.3 65.5,105.5 64.8,106.5 64.1,107.5 63.2,108.2 62.2,108.7 61.1,109.0 59.9,109.1 58.7,108.9 57.7,108.1 57.0,107.0 56.6,105.6 56.5,104.2 56.4,102.9 56.3,101.6 56.3,100.1 56.7,98.6 57.6,97.5 58.8,97.1 60.0,97.2 61.1,97.5 62.1,97.7 63.1,97.7 64.3,97.9 65.5,98.6 66.3,99.8 66.6,101.4" fill="#f0f0f0" stroke="#111" stroke-width="2.6" stroke-linejoin="round"/><polygon points="26.7,105.5 26.8,106.1 26.6,106.6 26.2,107.0 25.8,107.4 25.4,107.7 24.9,108.0 24.3,108.1 23.7,107.9 23.3,107.6 22.9,107.2 22.6,106.9 22.1,106.6 21.7,106.1 21.5,105.5 21.6,104.9 22.0,104.4 22.6,104.1 23.0,103.9 23.4,103.6 23.8,103.2 24.3,102.8 24.9,102.8 25.5,103.0 25.9,103.5 26.1,104.1 26.3,104.5 26.5,105.0" fill="#f0f0f0" stroke="#111" stroke-width="2.6" stroke-linejoin="round"/><polygon points="16.0,111.1 15.9,112.0 15.6,112.8 15.0,113.4 14.4,114.0 13.8,114.5 13.0,114.9 12.1,115.1 11.2,114.9 10.4,114.5 9.8,114.0 9.3,113.4 8.8,112.7 8.3,112.0 8.1,111.1 8.2,110.2 8.6,109.4 9.2,108.8 9.8,108.2 10.5,107.7 11.2,107.3 12.1,107.1 13.0,107.2 13.8,107.6 14.4,108.2 15.0,108.8 15.4,109.5 15.8,110.2" fill="#333" stroke="#111" stroke-width="2.6" stroke-linejoin="round"/><ellipse cx="12.7" cy="111.5" rx="1.7" ry="1.5" fill="#f4f4f4"/><polygon points="32.3,117.2 32.1,118.5 31.7,119.8 31.2,121.0 30.5,122.0 29.6,122.7 28.5,123.1 27.4,123.1 26.3,123.0 25.2,122.7 24.2,122.2 23.1,121.4 22.3,120.2 21.9,118.7 22.0,117.2 22.4,115.8 23.0,114.6 23.8,113.7 24.6,112.9 25.4,112.2 26.4,111.6 27.4,111.2 28.6,111.0 29.8,111.1 30.9,111.8 31.8,112.9 32.3,114.3 32.4,115.8" fill="#f0f0f0" stroke="#111" stroke-width="2.6" stroke-linejoin="round"/><polygon points="38.7,116.2 38.6,116.7 38.5,117.2 38.4,117.6 38.2,117.8 38.0,117.9 37.8,118.0 37.6,118.0 37.4,118.1 37.2,118.1 36.9,118.0 36.8,117.6 36.7,117.2 36.7,116.7 36.7,116.2 36.6,115.7 36.6,115.2 36.7,114.7 36.9,114.3 37.2,114.2 37.4,114.4 37.6,114.6 37.8,114.6 38.0,114.6 38.2,114.6 38.4,114.8 38.6,115.1 38.7,115.7" fill="#f0f0f0" stroke="#111" stroke-width="2.6" stroke-linejoin="round"/><polygon points="52.5,113.1 52.1,114.3 51.5,115.2 50.8,115.9 50.1,116.5 49.4,117.1 48.7,117.7 47.8,118.0 46.8,118.1 45.9,117.9 44.9,117.4 44.1,116.6 43.5,115.6 43.2,114.3 43.3,113.1 43.6,112.0 44.2,111.0 44.8,110.3 45.4,109.6 46.1,108.9 46.9,108.4 47.8,108.1 48.8,108.1 49.7,108.4 50.6,108.9 51.4,109.7 52.1,110.7 52.4,111.8" fill="#f0f0f0" stroke="#111" stroke-width="2.6" stroke-linejoin="round"/><polygon points="65.3,119.3 65.3,120.9 64.9,122.5 64.1,123.7 63.2,124.5 62.2,125.2 61.2,125.9 60.1,126.3 58.9,126.2 57.9,125.4 57.2,124.2 56.6,123.1 55.9,122.0 55.0,120.9 54.2,119.3 54.0,117.4 54.7,115.7 55.9,114.8 57.3,114.5 58.3,114.3 59.2,113.9 60.1,113.0 61.3,112.4 62.5,112.5 63.5,113.5 64.2,114.9 64.6,116.3 65.0,117.8" fill="#f0f0f0" stroke="#111" stroke-width="2.6" stroke-linejoin="round"/><polygon points="7.3,115.2 7.4,116.2 7.1,117.2 6.5,118.1 5.8,118.8 4.9,119.4 3.9,119.8 2.9,120.0 1.9,119.8 1.0,119.2 0.3,118.4 -0.2,117.7 -0.6,116.9 -1.0,116.1 -1.2,115.2 -1.3,114.2 -1.1,113.3 -0.7,112.4 -0.1,111.5 0.8,110.7 1.8,110.3 2.9,110.2 3.9,110.7 4.7,111.4 5.3,112.2 5.7,112.9 6.3,113.6 6.9,114.3" fill="#f0f0f0" stroke="#111" stroke-width="2.6" stroke-linejoin="round"/><polygon points="52.6,125.4 52.4,126.2 52.2,127.1 51.9,127.9 51.4,128.7 50.6,129.2 49.7,129.2 48.8,129.0 48.1,128.6 47.4,128.3 46.7,128.1 45.9,127.7 45.2,127.1 44.8,126.3 44.6,125.4 44.8,124.5 45.1,123.6 45.7,122.9 46.3,122.3 47.1,122.0 48.0,121.9 48.8,122.0 49.6,122.1 50.3,122.2 51.2,122.4 52.0,122.9 52.5,123.6 52.7,124.5" fill="#f0f0f0" stroke="#111" stroke-width="2.6" stroke-linejoin="round"/><polygon points="17.9,126.4 17.8,127.2 17.5,128.0 16.9,128.7 16.4,129.2 15.7,129.8 15.0,130.3 14.1,130.7 13.1,130.6 12.3,130.1 11.8,129.3 11.5,128.4 11.3,127.8 10.8,127.2 10.2,126.4 9.9,125.4 10.1,124.5 10.8,123.8 11.7,123.4 12.6,123.3 13.3,123.1 14.1,122.8 15.0,122.6 15.9,122.7 16.6,123.2 17.2,124.0 17.5,124.8 17.7,125.6" fill="#f0f0f0" stroke="#111" stroke-width="2.6" stroke-linejoin="round"/><polygon points="41.2,124.4 41.2,124.7 41.1,125.1 40.9,125.3 40.6,125.6 40.4,125.8 40.0,125.9 39.7,126.0 39.3,126.0 39.0,125.9 38.6,125.7 38.4,125.5 38.2,125.1 38.1,124.8 38.3,124.4 38.5,124.1 38.6,123.9 38.7,123.6 38.8,123.3 39.0,122.9 39.3,122.6 39.7,122.5 40.1,122.6 40.4,122.9 40.6,123.2 40.8,123.5 41.0,123.8 41.1,124.1" fill="#f0f0f0" stroke="#111" stroke-width="2.6" stroke-linejoin="round"/><polygon points="94.3,69.2 94.1,70.0 93.8,70.7 93.5,71.4 93.0,72.0 92.3,72.5 91.5,72.7 90.7,72.7 89.9,72.6 89.2,72.3 88.6,71.9 88.0,71.3 87.5,70.7 87.1,70.0 86.8,69.2 86.7,68.3 87.0,67.4 87.6,66.7 88.5,66.4 89.3,66.3 90.1,66.4 90.7,66.3 91.4,66.1 92.3,65.9 93.2,66.1 93.9,66.6 94.3,67.5 94.4,68.4" fill="#9a9a9a" stroke="#111" stroke-width="2.6" stroke-linejoin="round"/><polygon points="114.0,71.8 114.1,72.8 114.3,74.0 114.2,75.4 113.6,76.5 112.7,77.0 111.6,77.0 110.7,76.7 109.9,76.4 109.1,76.2 108.2,75.8 107.5,75.1 107.1,74.0 107.1,72.9 107.2,71.8 107.3,70.8 107.3,69.7 107.5,68.5 108.0,67.5 108.8,66.8 109.8,66.5 110.7,66.5 111.6,66.7 112.5,67.0 113.3,67.7 113.8,68.6 114.0,69.8 113.9,70.8" fill="#f0f0f0" stroke="#111" stroke-width="2.6" stroke-linejoin="round"/><polygon points="126.9,70.7 126.8,71.9 126.5,73.0 126.2,74.0 125.6,74.9 124.9,75.5 124.2,75.8 123.4,75.7 122.7,75.3 122.1,74.9 121.5,74.3 120.9,73.7 120.4,72.9 120.0,71.9 119.9,70.7 120.0,69.5 120.3,68.4 120.6,67.4 121.2,66.5 121.9,65.9 122.6,65.6 123.4,65.7 124.1,66.1 124.7,66.5 125.3,67.1 125.9,67.7 126.4,68.5 126.8,69.5" fill="#f0f0f0" stroke="#111" stroke-width="2.6" stroke-linejoin="round"/><polygon points="87.6,81.0 87.3,82.5 86.7,83.7 85.7,84.6 84.8,85.2 84.0,85.7 83.1,86.4 82.1,87.0 80.9,87.2 79.8,87.0 78.7,86.2 77.9,85.1 77.2,83.9 76.7,82.5 76.5,81.0 76.8,79.5 77.4,78.3 78.4,77.4 79.4,76.8 80.3,76.3 81.1,75.8 82.1,75.2 83.2,74.8 84.5,75.0 85.5,75.7 86.4,76.8 87.1,78.1 87.5,79.5" fill="#f0f0f0" stroke="#111" stroke-width="2.6" stroke-linejoin="round"/><polygon points="102.9,78.9 102.8,80.2 102.4,81.4 101.7,82.3 100.9,83.0 100.1,83.4 99.2,83.6 98.4,83.6 97.6,83.5 96.8,83.2 96.1,82.6 95.5,81.8 95.1,81.0 94.7,80.0 94.4,78.9 94.3,77.7 94.4,76.4 94.8,75.2 95.6,74.3 96.5,73.9 97.5,74.0 98.4,74.3 99.1,74.8 99.8,75.2 100.5,75.6 101.2,76.0 101.9,76.7 102.5,77.7" fill="#f0f0f0" stroke="#111" stroke-width="2.6" stroke-linejoin="round"/><polygon points="116.6,85.0 116.6,86.1 116.6,87.4 116.2,88.6 115.4,89.5 114.4,90.0 113.3,90.2 112.2,90.3 111.1,90.4 109.9,90.3 108.8,89.8 107.8,88.9 107.1,87.7 106.8,86.4 106.9,85.0 107.2,83.7 107.9,82.7 108.7,81.9 109.6,81.4 110.4,80.9 111.2,80.2 112.2,79.3 113.5,78.7 114.9,78.7 116.1,79.6 116.7,81.0 116.8,82.5 116.6,83.9" fill="#f0f0f0" stroke="#111" stroke-width="2.6" stroke-linejoin="round"/><polygon points="126.2,83.5 125.9,84.4 125.7,85.2 125.4,86.1 125.1,86.9 124.7,87.7 124.1,88.2 123.4,88.4 122.7,88.2 122.2,87.6 121.7,86.9 121.4,86.1 121.1,85.3 120.8,84.5 120.6,83.5 120.5,82.4 120.7,81.4 121.0,80.5 121.6,79.9 122.2,79.6 122.8,79.5 123.4,79.4 124.0,79.4 124.6,79.5 125.2,79.8 125.8,80.4 126.2,81.3 126.3,82.4" fill="#f0f0f0" stroke="#111" stroke-width="2.6" stroke-linejoin="round"/><polygon points="138.1,79.9 137.9,80.7 137.5,81.5 137.0,82.1 136.4,82.6 135.7,83.1 135.0,83.6 134.2,83.9 133.2,84.1 132.3,83.9 131.5,83.3 130.9,82.5 130.6,81.6 130.4,80.8 130.3,79.9 130.4,79.0 130.7,78.2 131.3,77.6 132.0,77.1 132.7,76.8 133.4,76.4 134.2,76.0 135.1,75.8 136.1,75.9 137.0,76.4 137.6,77.2 137.9,78.1 138.1,79.0" fill="#f0f0f0" stroke="#111" stroke-width="2.6" stroke-linejoin="round"/><polygon points="76.4,91.7 76.5,92.7 76.3,93.6 75.8,94.4 75.2,94.9 74.6,95.1 74.0,95.1 73.4,95.2 72.8,95.2 72.2,95.2 71.6,94.9 71.0,94.4 70.7,93.5 70.6,92.6 70.6,91.7 70.8,90.9 71.0,90.1 71.3,89.3 71.6,88.5 72.1,87.9 72.7,87.5 73.4,87.5 74.0,87.9 74.5,88.4 74.9,89.0 75.3,89.5 75.7,90.1 76.1,90.8" fill="#f0f0f0" stroke="#111" stroke-width="2.6" stroke-linejoin="round"/><polygon points="97.0,90.7 97.1,91.7 96.9,92.7 96.3,93.5 95.4,94.0 94.5,94.3 93.6,94.4 92.8,94.4 92.0,94.2 91.3,93.9 90.6,93.4 90.0,92.9 89.5,92.3 88.9,91.6 88.5,90.7 88.4,89.7 88.7,88.7 89.3,87.9 90.2,87.5 91.1,87.2 92.0,87.1 92.8,87.1 93.6,87.2 94.4,87.4 95.1,87.9 95.6,88.4 96.2,89.1 96.6,89.8" fill="#f0f0f0" stroke="#111" stroke-width="2.6" stroke-linejoin="round"/><polygon points="87.2,95.8 87.1,96.9 86.8,97.9 86.3,98.7 85.6,99.2 85.0,99.6 84.3,99.9 83.6,100.1 82.8,100.2 82.1,100.1 81.3,99.6 80.8,98.8 80.4,97.8 80.4,96.8 80.4,95.8 80.6,94.9 80.8,94.0 81.0,93.0 81.4,92.2 82.0,91.5 82.8,91.1 83.6,91.1 84.4,91.4 85.0,91.9 85.6,92.5 86.1,93.2 86.5,93.9 86.9,94.8" fill="#f0f0f0" stroke="#111" stroke-width="2.6" stroke-linejoin="round"/><polygon points="106.9,95.3 106.8,96.4 106.4,97.4 105.7,98.2 105.0,98.8 104.2,99.3 103.3,99.5 102.5,99.6 101.7,99.4 100.9,99.1 100.2,98.7 99.5,98.0 99.0,97.2 98.6,96.3 98.4,95.3 98.5,94.3 98.7,93.2 99.2,92.3 99.9,91.5 100.7,91.0 101.6,90.8 102.5,91.0 103.3,91.4 104.0,91.8 104.6,92.2 105.3,92.7 106.1,93.3 106.6,94.2" fill="#f0f0f0" stroke="#111" stroke-width="2.6" stroke-linejoin="round"/><polygon points="139.4,95.8 139.2,97.2 138.7,98.4 138.0,99.6 137.1,100.6 136.0,101.5 134.6,102.1 133.2,102.3 131.8,102.0 130.5,101.4 129.4,100.5 128.5,99.5 127.7,98.4 127.2,97.2 127.0,95.8 127.1,94.4 127.6,93.1 128.3,91.9 129.3,90.9 130.5,90.1 131.8,89.6 133.2,89.5 134.6,89.7 135.9,90.2 137.0,91.0 138.0,92.0 138.8,93.1 139.3,94.4" fill="#f0f0f0" stroke="#111" stroke-width="2.6" stroke-linejoin="round"/><polygon points="117.7,100.9 117.7,102.0 117.4,103.0 116.9,104.0 116.2,104.7 115.4,105.2 114.6,105.6 113.7,105.9 112.7,106.0 111.7,105.9 110.7,105.4 109.8,104.6 109.3,103.4 109.2,102.1 109.5,100.9 110.1,99.9 110.7,99.2 111.1,98.5 111.5,97.6 111.9,96.6 112.7,95.5 113.7,94.9 114.9,94.9 115.9,95.6 116.6,96.6 117.0,97.8 117.3,98.8 117.5,99.9" fill="#f0f0f0" stroke="#111" stroke-width="2.6" stroke-linejoin="round"/><polygon points="77.2,102.9 77.0,103.6 76.7,104.2 76.2,104.8 75.8,105.3 75.3,105.7 74.6,106.1 73.9,106.2 73.2,106.1 72.6,105.7 72.0,105.2 71.6,104.8 71.1,104.3 70.7,103.6 70.6,102.9 70.7,102.2 71.1,101.5 71.5,101.0 72.0,100.5 72.5,100.1 73.2,99.7 73.9,99.6 74.6,99.8 75.2,100.1 75.8,100.5 76.3,101.0 76.7,101.5 77.1,102.2" fill="#333" stroke="#111" stroke-width="2.6" stroke-linejoin="round"/><ellipse cx="74.4" cy="103.2" rx="1.4" ry="1.3" fill="#f4f4f4"/><polygon points="88.6,106.5 88.1,107.4 87.4,108.1 86.8,108.6 86.1,109.1 85.5,109.5 84.9,109.9 84.1,110.1 83.3,110.2 82.4,110.0 81.6,109.7 80.8,109.1 80.3,108.3 80.1,107.4 80.2,106.5 80.5,105.7 80.8,104.9 81.1,104.1 81.7,103.4 82.4,103.0 83.3,102.8 84.1,103.0 84.8,103.3 85.5,103.5 86.3,103.7 87.3,104.0 88.1,104.6 88.7,105.5" fill="#d8d8d8" stroke="#333" stroke-width="1.0" stroke-linejoin="round"/><polygon points="94.3,108.6 94.1,109.1 93.9,109.6 93.7,110.1 93.5,110.7 93.0,111.2 92.4,111.4 91.8,111.4 91.2,111.1 90.7,110.8 90.3,110.5 89.9,110.2 89.5,109.7 89.2,109.2 89.2,108.6 89.4,108.0 89.6,107.5 89.9,107.1 90.2,106.6 90.6,106.2 91.2,106.0 91.8,105.9 92.4,106.1 92.9,106.3 93.4,106.6 93.9,106.9 94.2,107.4 94.3,108.0" fill="#d8d8d8" stroke="#333" stroke-width="1.0" stroke-linejoin="round"/><polygon points="111.5,114.7 111.5,115.8 111.3,117.0 110.8,118.0 110.0,118.8 109.1,119.3 108.1,119.5 107.1,119.6 106.1,119.6 105.1,119.4 104.2,118.8 103.4,118.0 103.0,116.9 102.9,115.8 102.9,114.7 102.9,113.6 103.1,112.5 103.4,111.4 104.1,110.4 105.0,109.8 106.1,109.6 107.1,109.7 108.1,109.9 109.0,110.3 109.9,110.8 110.6,111.6 111.1,112.5 111.4,113.6" fill="#f0f0f0" stroke="#111" stroke-width="2.6" stroke-linejoin="round"/><polygon points="130.3,112.1 130.1,113.5 129.5,114.7 128.5,115.7 127.6,116.6 126.5,117.4 125.4,118.0 124.0,118.4 122.6,118.1 121.4,117.5 120.4,116.6 119.6,115.6 118.7,114.7 118.0,113.5 117.6,112.1 117.9,110.7 118.6,109.5 119.6,108.6 120.5,107.7 121.5,106.9 122.6,106.1 124.0,105.7 125.4,105.9 126.6,106.6 127.6,107.6 128.4,108.6 129.2,109.6 129.9,110.7" fill="#f0f0f0" stroke="#111" stroke-width="2.6" stroke-linejoin="round"/><polygon points="140.6,108.0 140.6,108.9 140.4,109.8 139.8,110.5 139.1,111.0 138.4,111.4 137.5,111.7 136.7,111.9 135.8,111.9 135.0,111.6 134.3,111.0 133.9,110.2 133.6,109.5 133.4,108.8 133.1,108.0 132.9,107.1 133.0,106.2 133.4,105.4 134.1,104.7 135.0,104.4 135.8,104.2 136.7,104.2 137.5,104.3 138.3,104.7 139.0,105.1 139.5,105.8 139.9,106.4 140.3,107.2" fill="#f0f0f0" stroke="#111" stroke-width="2.6" stroke-linejoin="round"/><polygon points="78.2,114.2 78.4,115.2 78.4,116.4 78.0,117.5 77.2,118.2 76.2,118.4 75.2,118.2 74.4,117.9 73.7,117.7 73.0,117.6 72.1,117.5 71.2,117.1 70.5,116.4 70.1,115.3 69.9,114.2 70.1,113.1 70.5,112.1 71.2,111.3 72.0,110.8 72.9,110.5 73.6,110.4 74.4,110.2 75.2,110.1 76.1,110.1 77.0,110.5 77.6,111.3 77.9,112.2 78.1,113.2" fill="#f0f0f0" stroke="#111" stroke-width="2.6" stroke-linejoin="round"/><polygon points="87.9,120.8 88.1,121.7 87.9,122.7 87.5,123.5 86.8,124.1 85.9,124.5 85.0,124.5 84.1,124.5 83.3,124.5 82.4,124.4 81.6,124.0 80.9,123.3 80.6,122.5 80.5,121.6 80.6,120.8 80.6,120.0 80.6,119.1 80.8,118.2 81.4,117.4 82.2,116.8 83.1,116.6 84.1,116.7 85.0,117.0 85.7,117.4 86.4,117.9 86.9,118.5 87.4,119.2 87.7,120.0" fill="#f0f0f0" stroke="#111" stroke-width="2.6" stroke-linejoin="round"/><polygon points="95.9,118.8 96.1,119.2 96.2,119.7 96.1,120.2 95.7,120.6 95.2,120.7 94.7,120.7 94.3,120.6 93.9,120.6 93.5,120.4 93.2,120.2 92.9,119.9 92.8,119.5 92.6,119.2 92.5,118.8 92.4,118.4 92.4,117.9 92.7,117.5 93.0,117.2 93.5,117.0 93.9,116.9 94.3,116.9 94.7,116.9 95.2,117.0 95.5,117.3 95.7,117.7 95.7,118.1 95.8,118.5" fill="#f0f0f0" stroke="#111" stroke-width="2.6" stroke-linejoin="round"/><polygon points="105.6,125.4 105.4,126.3 104.9,127.0 104.2,127.6 103.6,128.0 103.0,128.5 102.3,129.0 101.5,129.5 100.5,129.6 99.7,129.2 99.0,128.6 98.5,127.8 98.2,127.0 98.0,126.2 97.8,125.4 97.8,124.6 98.1,123.8 98.5,123.0 99.1,122.4 99.8,121.9 100.6,121.6 101.5,121.5 102.4,121.6 103.1,122.0 103.8,122.5 104.4,123.1 105.0,123.7 105.5,124.5" fill="#f0f0f0" stroke="#111" stroke-width="2.6" stroke-linejoin="round"/><polygon points="138.4,124.4 138.5,125.2 138.3,125.9 137.9,126.5 137.2,126.9 136.5,127.1 135.8,127.2 135.2,127.5 134.4,127.7 133.6,127.7 132.9,127.3 132.4,126.6 132.3,125.8 132.4,125.0 132.4,124.4 132.3,123.7 132.3,123.0 132.6,122.3 133.0,121.7 133.7,121.3 134.5,121.1 135.2,121.1 135.9,121.1 136.6,121.4 137.2,121.8 137.7,122.4 138.0,123.1 138.2,123.7" fill="#f0f0f0" stroke="#111" stroke-width="2.6" stroke-linejoin="round"/><polygon points="121.5,125.4 121.3,126.0 121.0,126.4 120.7,126.9 120.5,127.4 120.1,128.0 119.6,128.4 118.9,128.5 118.2,128.3 117.7,127.8 117.4,127.3 117.0,126.9 116.6,126.5 116.2,126.0 116.0,125.4 116.1,124.8 116.5,124.2 116.9,123.8 117.4,123.5 117.8,123.1 118.3,122.7 118.9,122.5 119.5,122.6 120.1,122.8 120.6,123.2 121.0,123.7 121.4,124.2 121.6,124.8" fill="#f0f0f0" stroke="#111" stroke-width="2.6" stroke-linejoin="round"/></g></svg><svg x="150.7" y="324.85" width="139.7" height="128.75" viewBox="0 0 139.7 128.75"><defs><filter id="bl2" x="-5%" y="-5%" width="110%" height="110%"><feGaussianBlur stdDeviation="0.6"/></filter></defs><rect width="139.7" height="128.75" fill="#d6d6d6"/><g filter="url(#bl2)"><ellipse cx="40" cy="62" rx="22" ry="14" fill="#ececec" opacity="1"/><ellipse cx="128" cy="75" rx="12" ry="12" fill="#c0c0c0" opacity="0.8"/><ellipse cx="40" cy="95" rx="12" ry="10" fill="#c8c8c8" opacity="0.7"/><ellipse cx="100" cy="100" rx="10" ry="8" fill="#c8c8c8" opacity="0.6"/><ellipse cx="30" cy="10" rx="10" ry="8" fill="#c8c8c8" opacity="0.7"/><ellipse cx="95" cy="60" rx="10" ry="8" fill="#cccccc" opacity="0.7"/><circle cx="133.6" cy="122.0" r="0.5" fill="#ffffff" opacity="0.5"/><circle cx="50.4" cy="21.8" r="0.6" fill="#cccccc" opacity="0.5"/><circle cx="29.6" cy="4.6" r="1.3" fill="#eeeeee" opacity="0.5"/><circle cx="89.2" cy="103.5" r="0.9" fill="#cccccc" opacity="0.5"/><circle cx="62.1" cy="34.5" r="1.2" fill="#ffffff" opacity="0.5"/><circle cx="50.9" cy="120.0" r="0.8" fill="#808080" opacity="0.5"/><circle cx="123.5" cy="21.2" r="0.6" fill="#eeeeee" opacity="0.5"/><circle cx="3.3" cy="41.9" r="0.9" fill="#eeeeee" opacity="0.5"/><circle cx="50.2" cy="66.1" r="1.3" fill="#eeeeee" opacity="0.5"/><circle cx="62.3" cy="53.4" r="1.1" fill="#cccccc" opacity="0.5"/><circle cx="49.4" cy="126.3" r="0.5" fill="#808080" opacity="0.5"/><circle cx="105.3" cy="92.1" r="1.0" fill="#808080" opacity="0.5"/><circle cx="34.9" cy="35.9" r="0.9" fill="#808080" opacity="0.5"/><circle cx="116.2" cy="45.6" r="1.2" fill="#808080" opacity="0.5"/><circle cx="64.4" cy="73.1" r="0.8" fill="#808080" opacity="0.5"/><circle cx="31.0" cy="41.8" r="1.2" fill="#eeeeee" opacity="0.5"/><circle cx="86.1" cy="99.5" r="0.7" fill="#808080" opacity="0.5"/><circle cx="133.7" cy="90.9" r="0.7" fill="#808080" opacity="0.5"/><circle cx="29.0" cy="65.9" r="1.1" fill="#ffffff" opacity="0.5"/><circle cx="47.7" cy="1.1" r="1.3" fill="#eeeeee" opacity="0.5"/><circle cx="14.8" cy="74.0" r="0.6" fill="#ffffff" opacity="0.5"/><circle cx="31.7" cy="112.7" r="1.1" fill="#ffffff" opacity="0.5"/><circle cx="19.1" cy="34.2" r="1.2" fill="#eeeeee" opacity="0.5"/><circle cx="8.4" cy="115.6" r="0.5" fill="#ffffff" opacity="0.5"/><circle cx="50.3" cy="32.1" r="0.5" fill="#ffffff" opacity="0.5"/><circle cx="133.4" cy="3.3" r="0.7" fill="#ffffff" opacity="0.5"/><circle cx="17.9" cy="120.5" r="0.9" fill="#eeeeee" opacity="0.5"/><circle cx="0.3" cy="75.9" r="0.5" fill="#eeeeee" opacity="0.5"/><circle cx="5.1" cy="44.3" r="0.7" fill="#ffffff" opacity="0.5"/><circle cx="68.3" cy="39.7" r="1.2" fill="#ffffff" opacity="0.5"/><circle cx="105.6" cy="111.0" r="0.8" fill="#eeeeee" opacity="0.5"/><circle cx="31.5" cy="85.1" r="1.2" fill="#cccccc" opacity="0.5"/><circle cx="3.4" cy="101.5" r="0.9" fill="#eeeeee" opacity="0.5"/><circle cx="109.1" cy="62.7" r="0.5" fill="#cccccc" opacity="0.5"/><circle cx="134.1" cy="33.4" r="1.0" fill="#808080" opacity="0.5"/><circle cx="97.7" cy="123.5" r="0.6" fill="#ffffff" opacity="0.5"/><circle cx="18.4" cy="22.0" r="1.0" fill="#808080" opacity="0.5"/><circle cx="71.0" cy="126.6" r="1.3" fill="#ffffff" opacity="0.5"/><circle cx="32.5" cy="57.3" r="0.5" fill="#cccccc" opacity="0.5"/><circle cx="31.9" cy="101.9" r="0.6" fill="#cccccc" opacity="0.5"/><circle cx="59.1" cy="67.7" r="0.5" fill="#ffffff" opacity="0.5"/><circle cx="53.7" cy="20.6" r="0.6" fill="#ffffff" opacity="0.5"/><circle cx="13.9" cy="23.4" r="0.5" fill="#eeeeee" opacity="0.5"/><circle cx="3.4" cy="86.2" r="0.7" fill="#808080" opacity="0.5"/><circle cx="89.7" cy="27.4" r="1.1" fill="#eeeeee" opacity="0.5"/><circle cx="60.6" cy="65.9" r="1.2" fill="#ffffff" opacity="0.5"/><circle cx="129.8" cy="74.8" r="1.0" fill="#ffffff" opacity="0.5"/><circle cx="67.0" cy="2.5" r="0.9" fill="#ffffff" opacity="0.5"/><circle cx="40.5" cy="126.6" r="0.7" fill="#cccccc" opacity="0.5"/><circle cx="122.1" cy="53.1" r="0.7" fill="#ffffff" opacity="0.5"/><circle cx="117.4" cy="86.6" r="1.1" fill="#ffffff" opacity="0.5"/><circle cx="8.4" cy="82.1" r="0.6" fill="#808080" opacity="0.5"/><circle cx="82.2" cy="9.5" r="0.4" fill="#cccccc" opacity="0.5"/><circle cx="42.7" cy="93.2" r="1.1" fill="#eeeeee" opacity="0.5"/><circle cx="26.9" cy="73.6" r="1.0" fill="#808080" opacity="0.5"/><circle cx="19.5" cy="44.4" r="0.6" fill="#ffffff" opacity="0.5"/><circle cx="17.2" cy="79.4" r="1.0" fill="#cccccc" opacity="0.5"/><circle cx="134.1" cy="89.2" r="1.0" fill="#ffffff" opacity="0.5"/><circle cx="65.7" cy="5.6" r="0.7" fill="#808080" opacity="0.5"/><circle cx="134.1" cy="18.2" r="0.6" fill="#cccccc" opacity="0.5"/><circle cx="73.5" cy="61.5" r="1.2" fill="#808080" opacity="0.5"/><circle cx="116.8" cy="38.2" r="0.5" fill="#eeeeee" opacity="0.5"/><circle cx="83.3" cy="70.6" r="0.9" fill="#ffffff" opacity="0.5"/><circle cx="114.3" cy="12.4" r="0.6" fill="#cccccc" opacity="0.5"/><circle cx="76.2" cy="103.8" r="1.1" fill="#ffffff" opacity="0.5"/><circle cx="127.3" cy="87.7" r="0.5" fill="#ffffff" opacity="0.5"/><circle cx="41.4" cy="29.8" r="0.8" fill="#cccccc" opacity="0.5"/><circle cx="73.2" cy="14.4" r="0.5" fill="#808080" opacity="0.5"/><circle cx="72.2" cy="92.1" r="0.6" fill="#cccccc" opacity="0.5"/><circle cx="22.0" cy="122.0" r="0.8" fill="#eeeeee" opacity="0.5"/><circle cx="139.0" cy="100.8" r="0.8" fill="#eeeeee" opacity="0.5"/><circle cx="100.4" cy="104.3" r="1.2" fill="#808080" opacity="0.5"/><circle cx="25.2" cy="65.7" r="0.6" fill="#808080" opacity="0.5"/><circle cx="35.4" cy="94.1" r="1.0" fill="#808080" opacity="0.5"/><circle cx="66.0" cy="123.9" r="1.0" fill="#cccccc" opacity="0.5"/><circle cx="127.4" cy="10.5" r="0.9" fill="#eeeeee" opacity="0.5"/><circle cx="26.2" cy="105.1" r="1.3" fill="#808080" opacity="0.5"/><circle cx="88.7" cy="1.5" r="0.9" fill="#808080" opacity="0.5"/><circle cx="126.7" cy="60.0" r="1.1" fill="#eeeeee" opacity="0.5"/><circle cx="2.4" cy="121.4" r="1.2" fill="#808080" opacity="0.5"/><circle cx="123.6" cy="12.9" r="0.6" fill="#eeeeee" opacity="0.5"/><circle cx="128.7" cy="74.7" r="1.1" fill="#808080" opacity="0.5"/><circle cx="19.3" cy="78.8" r="0.8" fill="#808080" opacity="0.5"/><circle cx="71.7" cy="22.3" r="1.3" fill="#eeeeee" opacity="0.5"/><circle cx="106.2" cy="45.1" r="0.9" fill="#808080" opacity="0.5"/><circle cx="93.5" cy="8.4" r="1.2" fill="#808080" opacity="0.5"/><circle cx="128.8" cy="59.1" r="0.4" fill="#808080" opacity="0.5"/><circle cx="11.1" cy="97.1" r="1.1" fill="#eeeeee" opacity="0.5"/><circle cx="131.1" cy="128.5" r="1.0" fill="#cccccc" opacity="0.5"/><circle cx="110.0" cy="111.2" r="0.4" fill="#eeeeee" opacity="0.5"/><circle cx="69.8" cy="127.8" r="0.5" fill="#cccccc" opacity="0.5"/><circle cx="39.5" cy="60.2" r="0.7" fill="#ffffff" opacity="0.5"/><circle cx="75.2" cy="49.2" r="0.6" fill="#808080" opacity="0.5"/><circle cx="94.5" cy="64.2" r="0.8" fill="#eeeeee" opacity="0.5"/><circle cx="75.2" cy="117.8" r="0.6" fill="#ffffff" opacity="0.5"/><circle cx="43.7" cy="43.0" r="1.0" fill="#cccccc" opacity="0.5"/><circle cx="54.9" cy="108.2" r="0.9" fill="#ffffff" opacity="0.5"/><circle cx="29.4" cy="76.8" r="1.1" fill="#eeeeee" opacity="0.5"/><circle cx="87.8" cy="39.7" r="1.3" fill="#eeeeee" opacity="0.5"/><circle cx="78.4" cy="67.3" r="1.3" fill="#ffffff" opacity="0.5"/><circle cx="15.6" cy="105.4" r="1.2" fill="#808080" opacity="0.5"/><circle cx="29.9" cy="45.8" r="0.8" fill="#cccccc" opacity="0.5"/><circle cx="23.3" cy="56.9" r="0.8" fill="#cccccc" opacity="0.5"/><circle cx="18.7" cy="92.5" r="1.2" fill="#eeeeee" opacity="0.5"/><circle cx="45.6" cy="12.8" r="0.8" fill="#eeeeee" opacity="0.5"/><circle cx="105.1" cy="109.0" r="0.7" fill="#eeeeee" opacity="0.5"/><circle cx="111.1" cy="30.0" r="0.8" fill="#808080" opacity="0.5"/><circle cx="115.0" cy="44.1" r="1.1" fill="#cccccc" opacity="0.5"/><circle cx="104.9" cy="111.9" r="0.9" fill="#cccccc" opacity="0.5"/><circle cx="89.0" cy="9.4" r="0.8" fill="#cccccc" opacity="0.5"/><circle cx="24.4" cy="123.3" r="0.8" fill="#cccccc" opacity="0.5"/><circle cx="12.3" cy="118.9" r="1.3" fill="#cccccc" opacity="0.5"/><circle cx="17.7" cy="3.6" r="0.6" fill="#cccccc" opacity="0.5"/><circle cx="10.8" cy="113.1" r="0.4" fill="#808080" opacity="0.5"/><circle cx="44.8" cy="106.2" r="0.9" fill="#808080" opacity="0.5"/><circle cx="65.5" cy="116.0" r="0.7" fill="#cccccc" opacity="0.5"/><circle cx="129.4" cy="12.2" r="1.1" fill="#eeeeee" opacity="0.5"/><circle cx="46.3" cy="18.2" r="0.6" fill="#cccccc" opacity="0.5"/><circle cx="47.9" cy="31.7" r="1.1" fill="#eeeeee" opacity="0.5"/><circle cx="6.5" cy="121.0" r="1.2" fill="#ffffff" opacity="0.5"/><circle cx="24.8" cy="8.1" r="1.1" fill="#808080" opacity="0.5"/><circle cx="18.6" cy="67.3" r="0.7" fill="#ffffff" opacity="0.5"/><circle cx="107.3" cy="78.6" r="0.6" fill="#808080" opacity="0.5"/><circle cx="7.6" cy="98.7" r="1.0" fill="#808080" opacity="0.5"/><circle cx="44.3" cy="107.8" r="0.9" fill="#ffffff" opacity="0.5"/><circle cx="75.2" cy="126.8" r="1.2" fill="#808080" opacity="0.5"/><circle cx="63.5" cy="53.0" r="0.4" fill="#808080" opacity="0.5"/><circle cx="15.1" cy="128.1" r="0.5" fill="#eeeeee" opacity="0.5"/><circle cx="128.7" cy="64.4" r="0.5" fill="#eeeeee" opacity="0.5"/><circle cx="42.7" cy="102.7" r="0.6" fill="#ffffff" opacity="0.5"/><circle cx="93.4" cy="28.4" r="0.5" fill="#ffffff" opacity="0.5"/><circle cx="93.6" cy="11.8" r="0.4" fill="#808080" opacity="0.5"/><circle cx="125.6" cy="31.1" r="0.5" fill="#808080" opacity="0.5"/><circle cx="4.2" cy="89.6" r="0.4" fill="#ffffff" opacity="0.5"/><circle cx="76.3" cy="0.8" r="1.0" fill="#cccccc" opacity="0.5"/><circle cx="122.3" cy="18.0" r="0.4" fill="#808080" opacity="0.5"/><circle cx="75.5" cy="31.8" r="0.6" fill="#808080" opacity="0.5"/><circle cx="7.4" cy="27.7" r="0.7" fill="#808080" opacity="0.5"/><circle cx="90.5" cy="50.7" r="0.9" fill="#eeeeee" opacity="0.5"/><circle cx="116.4" cy="19.5" r="0.6" fill="#eeeeee" opacity="0.5"/><circle cx="28.2" cy="43.9" r="0.8" fill="#eeeeee" opacity="0.5"/><circle cx="55.6" cy="102.7" r="0.9" fill="#ffffff" opacity="0.5"/><circle cx="66.0" cy="36.6" r="1.3" fill="#808080" opacity="0.5"/><circle cx="32.0" cy="90.5" r="0.4" fill="#ffffff" opacity="0.5"/><circle cx="77.1" cy="26.0" r="0.8" fill="#eeeeee" opacity="0.5"/><circle cx="5.5" cy="17.8" r="1.1" fill="#ffffff" opacity="0.5"/><circle cx="98.2" cy="61.2" r="1.1" fill="#ffffff" opacity="0.5"/><circle cx="120.3" cy="28.9" r="0.9" fill="#eeeeee" opacity="0.5"/><circle cx="5.3" cy="25.2" r="0.5" fill="#ffffff" opacity="0.5"/><circle cx="96.9" cy="118.1" r="1.3" fill="#ffffff" opacity="0.5"/><circle cx="125.6" cy="59.7" r="1.3" fill="#cccccc" opacity="0.5"/><circle cx="22.0" cy="41.8" r="1.2" fill="#cccccc" opacity="0.5"/><circle cx="72.4" cy="8.7" r="1.0" fill="#808080" opacity="0.5"/><circle cx="4.7" cy="38.3" r="1.0" fill="#ffffff" opacity="0.5"/><circle cx="102.6" cy="121.6" r="0.6" fill="#ffffff" opacity="0.5"/><circle cx="46.6" cy="69.3" r="0.9" fill="#808080" opacity="0.5"/><circle cx="104.5" cy="114.8" r="1.1" fill="#808080" opacity="0.5"/><circle cx="96.9" cy="101.2" r="1.2" fill="#808080" opacity="0.5"/><circle cx="135.6" cy="49.3" r="1.0" fill="#cccccc" opacity="0.5"/><circle cx="81.1" cy="57.3" r="1.2" fill="#808080" opacity="0.5"/><circle cx="47.2" cy="9.1" r="0.9" fill="#cccccc" opacity="0.5"/><circle cx="120.2" cy="28.6" r="1.0" fill="#eeeeee" opacity="0.5"/><circle cx="43.0" cy="26.7" r="0.5" fill="#cccccc" opacity="0.5"/><circle cx="110.2" cy="3.7" r="0.5" fill="#cccccc" opacity="0.5"/><circle cx="74.5" cy="102.0" r="1.1" fill="#cccccc" opacity="0.5"/><circle cx="10.1" cy="60.6" r="0.7" fill="#ffffff" opacity="0.5"/><circle cx="80.2" cy="27.3" r="0.9" fill="#eeeeee" opacity="0.5"/><circle cx="52.5" cy="8.3" r="1.2" fill="#808080" opacity="0.5"/><circle cx="90.1" cy="63.8" r="0.5" fill="#eeeeee" opacity="0.5"/><circle cx="41.8" cy="124.2" r="0.6" fill="#eeeeee" opacity="0.5"/><circle cx="98.3" cy="112.6" r="0.9" fill="#808080" opacity="0.5"/><circle cx="32.8" cy="27.4" r="0.6" fill="#ffffff" opacity="0.5"/><circle cx="34.8" cy="121.4" r="1.1" fill="#808080" opacity="0.5"/><circle cx="16.7" cy="58.7" r="0.8" fill="#808080" opacity="0.5"/><circle cx="53.1" cy="27.7" r="0.4" fill="#eeeeee" opacity="0.5"/><circle cx="73.3" cy="114.1" r="0.4" fill="#ffffff" opacity="0.5"/><circle cx="98.8" cy="51.7" r="0.5" fill="#cccccc" opacity="0.5"/><circle cx="71.3" cy="66.9" r="0.9" fill="#808080" opacity="0.5"/><circle cx="98.5" cy="94.6" r="0.7" fill="#eeeeee" opacity="0.5"/><circle cx="4.1" cy="5.4" r="0.6" fill="#eeeeee" opacity="0.5"/><circle cx="33.7" cy="6.3" r="1.0" fill="#eeeeee" opacity="0.5"/><circle cx="131.7" cy="13.1" r="1.0" fill="#ffffff" opacity="0.5"/><circle cx="19.1" cy="91.1" r="0.7" fill="#ffffff" opacity="0.5"/><circle cx="92.3" cy="60.9" r="1.1" fill="#cccccc" opacity="0.5"/><circle cx="95.9" cy="12.5" r="0.5" fill="#cccccc" opacity="0.5"/><circle cx="109.6" cy="46.8" r="1.1" fill="#cccccc" opacity="0.5"/><circle cx="125.2" cy="65.6" r="0.4" fill="#eeeeee" opacity="0.5"/><circle cx="47.6" cy="107.9" r="0.7" fill="#ffffff" opacity="0.5"/><circle cx="136.2" cy="68.8" r="1.2" fill="#ffffff" opacity="0.5"/><circle cx="10.7" cy="69.6" r="0.8" fill="#808080" opacity="0.5"/><circle cx="33.5" cy="23.4" r="0.4" fill="#ffffff" opacity="0.5"/><circle cx="106.2" cy="92.6" r="1.0" fill="#cccccc" opacity="0.5"/><circle cx="41.2" cy="116.4" r="1.3" fill="#ffffff" opacity="0.5"/><circle cx="79.1" cy="120.2" r="0.8" fill="#eeeeee" opacity="0.5"/><circle cx="127.0" cy="14.3" r="0.6" fill="#ffffff" opacity="0.5"/><circle cx="76.9" cy="13.3" r="0.5" fill="#808080" opacity="0.5"/><circle cx="119.1" cy="74.9" r="0.4" fill="#eeeeee" opacity="0.5"/><circle cx="72.3" cy="67.9" r="0.8" fill="#808080" opacity="0.5"/><circle cx="109.4" cy="19.9" r="0.8" fill="#eeeeee" opacity="0.5"/><circle cx="52.1" cy="125.4" r="0.9" fill="#eeeeee" opacity="0.5"/><circle cx="61.5" cy="56.3" r="0.5" fill="#808080" opacity="0.5"/><circle cx="83.1" cy="16.5" r="0.5" fill="#cccccc" opacity="0.5"/><circle cx="35.1" cy="24.1" r="1.0" fill="#eeeeee" opacity="0.5"/><circle cx="79.6" cy="32.2" r="0.8" fill="#808080" opacity="0.5"/><circle cx="26.3" cy="56.1" r="0.7" fill="#eeeeee" opacity="0.5"/><circle cx="88.4" cy="4.0" r="1.0" fill="#808080" opacity="0.5"/><circle cx="3.9" cy="38.9" r="1.3" fill="#ffffff" opacity="0.5"/><circle cx="76.5" cy="73.2" r="0.6" fill="#cccccc" opacity="0.5"/><circle cx="99.5" cy="47.0" r="1.2" fill="#808080" opacity="0.5"/><circle cx="34.4" cy="109.1" r="0.8" fill="#eeeeee" opacity="0.5"/><circle cx="133.0" cy="97.2" r="0.5" fill="#808080" opacity="0.5"/><circle cx="95.6" cy="31.6" r="0.5" fill="#808080" opacity="0.5"/><circle cx="83.5" cy="80.4" r="0.5" fill="#808080" opacity="0.5"/><circle cx="103.6" cy="107.3" r="1.0" fill="#808080" opacity="0.5"/><circle cx="107.0" cy="89.6" r="1.2" fill="#cccccc" opacity="0.5"/><circle cx="77.8" cy="21.3" r="1.0" fill="#eeeeee" opacity="0.5"/><circle cx="90.7" cy="52.6" r="1.0" fill="#808080" opacity="0.5"/><circle cx="100.9" cy="22.2" r="1.2" fill="#cccccc" opacity="0.5"/><circle cx="79.7" cy="52.1" r="1.0" fill="#cccccc" opacity="0.5"/><circle cx="93.2" cy="51.6" r="0.6" fill="#ffffff" opacity="0.5"/><circle cx="14.2" cy="1.4" r="0.7" fill="#cccccc" opacity="0.5"/><circle cx="44.3" cy="52.3" r="1.1" fill="#cccccc" opacity="0.5"/><circle cx="73.6" cy="61.8" r="0.8" fill="#eeeeee" opacity="0.5"/><circle cx="13.2" cy="2.4" r="0.7" fill="#ffffff" opacity="0.5"/><circle cx="19.6" cy="91.0" r="0.7" fill="#ffffff" opacity="0.5"/><circle cx="66.8" cy="115.6" r="1.2" fill="#ffffff" opacity="0.5"/><circle cx="89.3" cy="74.0" r="1.1" fill="#eeeeee" opacity="0.5"/><circle cx="45.8" cy="43.0" r="0.9" fill="#808080" opacity="0.5"/><circle cx="101.5" cy="59.9" r="0.5" fill="#cccccc" opacity="0.5"/><circle cx="29.8" cy="47.2" r="1.2" fill="#cccccc" opacity="0.5"/><circle cx="137.1" cy="23.3" r="0.9" fill="#eeeeee" opacity="0.5"/><circle cx="90.6" cy="80.4" r="0.9" fill="#eeeeee" opacity="0.5"/><circle cx="33.3" cy="111.1" r="0.9" fill="#eeeeee" opacity="0.5"/><circle cx="22.6" cy="52.2" r="1.1" fill="#808080" opacity="0.5"/><circle cx="90.7" cy="87.1" r="1.2" fill="#eeeeee" opacity="0.5"/><circle cx="85.9" cy="101.8" r="1.2" fill="#eeeeee" opacity="0.5"/><circle cx="138.8" cy="28.0" r="0.8" fill="#ffffff" opacity="0.5"/><circle cx="89.2" cy="95.4" r="0.8" fill="#cccccc" opacity="0.5"/><circle cx="116.9" cy="1.3" r="0.7" fill="#ffffff" opacity="0.5"/><circle cx="79.8" cy="60.8" r="0.5" fill="#ffffff" opacity="0.5"/><circle cx="64.6" cy="18.4" r="1.2" fill="#808080" opacity="0.5"/><circle cx="89.5" cy="34.4" r="0.9" fill="#808080" opacity="0.5"/><circle cx="127.4" cy="115.4" r="0.7" fill="#cccccc" opacity="0.5"/><circle cx="3.8" cy="114.6" r="0.5" fill="#eeeeee" opacity="0.5"/><circle cx="127.3" cy="24.0" r="0.8" fill="#cccccc" opacity="0.5"/><circle cx="27.7" cy="5.0" r="0.8" fill="#cccccc" opacity="0.5"/><circle cx="8.7" cy="126.6" r="1.0" fill="#cccccc" opacity="0.5"/><circle cx="112.4" cy="83.0" r="0.5" fill="#eeeeee" opacity="0.5"/><circle cx="128.8" cy="3.7" r="0.6" fill="#ffffff" opacity="0.5"/><circle cx="52.1" cy="9.2" r="0.7" fill="#eeeeee" opacity="0.5"/><circle cx="133.7" cy="94.3" r="0.7" fill="#eeeeee" opacity="0.5"/><circle cx="106.3" cy="96.9" r="1.0" fill="#cccccc" opacity="0.5"/><circle cx="100.5" cy="110.9" r="0.5" fill="#ffffff" opacity="0.5"/><circle cx="103.1" cy="126.3" r="0.8" fill="#cccccc" opacity="0.5"/><circle cx="41.2" cy="8.2" r="1.3" fill="#eeeeee" opacity="0.5"/><circle cx="16.0" cy="105.7" r="0.7" fill="#eeeeee" opacity="0.5"/><circle cx="118.2" cy="20.1" r="1.1" fill="#cccccc" opacity="0.5"/><circle cx="94.8" cy="118.7" r="0.5" fill="#eeeeee" opacity="0.5"/><circle cx="129.9" cy="73.6" r="1.1" fill="#eeeeee" opacity="0.5"/><circle cx="138.2" cy="112.7" r="0.6" fill="#808080" opacity="0.5"/><circle cx="90.7" cy="4.8" r="0.8" fill="#cccccc" opacity="0.5"/><circle cx="69.5" cy="72.1" r="0.9" fill="#eeeeee" opacity="0.5"/><circle cx="16.4" cy="111.1" r="1.0" fill="#eeeeee" opacity="0.5"/><circle cx="52.8" cy="54.2" r="1.0" fill="#eeeeee" opacity="0.5"/><circle cx="86.0" cy="90.3" r="0.5" fill="#ffffff" opacity="0.5"/><circle cx="116.5" cy="92.8" r="0.6" fill="#eeeeee" opacity="0.5"/><circle cx="137.0" cy="86.9" r="0.9" fill="#ffffff" opacity="0.5"/><circle cx="43.8" cy="64.7" r="1.0" fill="#eeeeee" opacity="0.5"/><circle cx="94.0" cy="58.7" r="0.6" fill="#cccccc" opacity="0.5"/><circle cx="48.1" cy="50.7" r="1.1" fill="#ffffff" opacity="0.5"/><circle cx="36.2" cy="71.4" r="0.8" fill="#cccccc" opacity="0.5"/><circle cx="6.1" cy="21.5" r="1.2" fill="#eeeeee" opacity="0.5"/><circle cx="116.1" cy="22.1" r="1.3" fill="#eeeeee" opacity="0.5"/><circle cx="90.1" cy="98.3" r="0.4" fill="#808080" opacity="0.5"/><circle cx="59.0" cy="88.7" r="0.6" fill="#ffffff" opacity="0.5"/><circle cx="0.3" cy="102.3" r="1.1" fill="#808080" opacity="0.5"/><circle cx="118.4" cy="22.5" r="1.1" fill="#cccccc" opacity="0.5"/><circle cx="79.6" cy="124.2" r="0.7" fill="#cccccc" opacity="0.5"/><circle cx="58.2" cy="62.3" r="1.1" fill="#808080" opacity="0.5"/><circle cx="137.7" cy="22.3" r="0.7" fill="#808080" opacity="0.5"/><circle cx="80.5" cy="67.9" r="0.9" fill="#cccccc" opacity="0.5"/><circle cx="78.7" cy="32.9" r="1.2" fill="#808080" opacity="0.5"/><circle cx="64.3" cy="11.6" r="0.9" fill="#808080" opacity="0.5"/><circle cx="38.9" cy="124.3" r="1.1" fill="#cccccc" opacity="0.5"/><circle cx="102.6" cy="126.7" r="0.5" fill="#808080" opacity="0.5"/><circle cx="71.3" cy="24.6" r="1.2" fill="#808080" opacity="0.5"/><circle cx="22.7" cy="9.1" r="0.5" fill="#808080" opacity="0.5"/><circle cx="72.0" cy="94.9" r="0.6" fill="#eeeeee" opacity="0.5"/><circle cx="109.9" cy="5.5" r="1.2" fill="#ffffff" opacity="0.5"/><circle cx="76.3" cy="39.0" r="1.1" fill="#eeeeee" opacity="0.5"/><circle cx="110.6" cy="115.4" r="0.9" fill="#eeeeee" opacity="0.5"/><circle cx="115.2" cy="64.6" r="0.9" fill="#cccccc" opacity="0.5"/><circle cx="84.6" cy="20.4" r="0.9" fill="#808080" opacity="0.5"/><circle cx="100.2" cy="7.2" r="0.6" fill="#808080" opacity="0.5"/><circle cx="45.2" cy="37.7" r="0.8" fill="#ffffff" opacity="0.5"/><circle cx="25.7" cy="6.1" r="0.6" fill="#cccccc" opacity="0.5"/><circle cx="103.9" cy="34.0" r="0.4" fill="#cccccc" opacity="0.5"/><circle cx="44.8" cy="53.8" r="0.6" fill="#eeeeee" opacity="0.5"/><circle cx="96.4" cy="61.9" r="1.0" fill="#808080" opacity="0.5"/><circle cx="41.4" cy="84.6" r="1.1" fill="#eeeeee" opacity="0.5"/><circle cx="7.6" cy="115.6" r="1.3" fill="#ffffff" opacity="0.5"/><circle cx="81.2" cy="2.7" r="0.6" fill="#cccccc" opacity="0.5"/><circle cx="95.0" cy="72.9" r="0.8" fill="#808080" opacity="0.5"/><circle cx="93.6" cy="99.6" r="0.5" fill="#cccccc" opacity="0.5"/><circle cx="1.0" cy="26.4" r="0.5" fill="#ffffff" opacity="0.5"/><circle cx="41.3" cy="15.4" r="1.2" fill="#ffffff" opacity="0.5"/><circle cx="125.6" cy="13.7" r="0.8" fill="#eeeeee" opacity="0.5"/><circle cx="33.0" cy="114.1" r="0.9" fill="#808080" opacity="0.5"/><circle cx="4.6" cy="35.6" r="0.9" fill="#eeeeee" opacity="0.5"/><circle cx="6.6" cy="105.4" r="1.0" fill="#eeeeee" opacity="0.5"/><circle cx="24.6" cy="116.1" r="0.6" fill="#ffffff" opacity="0.5"/><circle cx="17.2" cy="25.8" r="0.7" fill="#eeeeee" opacity="0.5"/><circle cx="96.6" cy="112.8" r="1.0" fill="#eeeeee" opacity="0.5"/><circle cx="79.6" cy="123.4" r="0.7" fill="#ffffff" opacity="0.5"/><circle cx="96.7" cy="27.0" r="0.7" fill="#808080" opacity="0.5"/><circle cx="11.8" cy="105.4" r="1.0" fill="#cccccc" opacity="0.5"/><circle cx="40.8" cy="99.8" r="1.3" fill="#cccccc" opacity="0.5"/><circle cx="5.9" cy="40.0" r="1.3" fill="#ffffff" opacity="0.5"/><circle cx="70.0" cy="18.0" r="0.7" fill="#cccccc" opacity="0.5"/><circle cx="126.7" cy="54.4" r="1.2" fill="#808080" opacity="0.5"/><circle cx="113.5" cy="122.5" r="1.0" fill="#eeeeee" opacity="0.5"/><circle cx="32.5" cy="80.4" r="0.5" fill="#eeeeee" opacity="0.5"/><circle cx="11.3" cy="18.4" r="0.5" fill="#ffffff" opacity="0.5"/><circle cx="26.6" cy="48.3" r="0.8" fill="#eeeeee" opacity="0.5"/><circle cx="28.1" cy="43.5" r="0.8" fill="#cccccc" opacity="0.5"/><circle cx="34.5" cy="33.3" r="1.2" fill="#cccccc" opacity="0.5"/><circle cx="102.0" cy="106.7" r="0.5" fill="#ffffff" opacity="0.5"/><circle cx="41.0" cy="101.6" r="0.6" fill="#eeeeee" opacity="0.5"/><circle cx="117.2" cy="4.2" r="0.7" fill="#ffffff" opacity="0.5"/><circle cx="58.1" cy="120.7" r="1.0" fill="#808080" opacity="0.5"/><circle cx="132.4" cy="96.9" r="0.6" fill="#ffffff" opacity="0.5"/><circle cx="127.2" cy="118.3" r="0.5" fill="#eeeeee" opacity="0.5"/><circle cx="99.7" cy="66.9" r="0.5" fill="#cccccc" opacity="0.5"/><circle cx="137.1" cy="23.4" r="0.6" fill="#cccccc" opacity="0.5"/><circle cx="85.0" cy="22.7" r="1.2" fill="#ffffff" opacity="0.5"/><circle cx="93.3" cy="116.6" r="0.8" fill="#808080" opacity="0.5"/><circle cx="90.0" cy="75.5" r="1.1" fill="#eeeeee" opacity="0.5"/><circle cx="46.3" cy="9.3" r="1.1" fill="#cccccc" opacity="0.5"/><circle cx="136.3" cy="15.0" r="0.5" fill="#eeeeee" opacity="0.5"/><circle cx="138.5" cy="35.7" r="1.3" fill="#808080" opacity="0.5"/><circle cx="38.1" cy="80.2" r="0.7" fill="#cccccc" opacity="0.5"/><circle cx="82.0" cy="28.9" r="0.8" fill="#808080" opacity="0.5"/><circle cx="67.9" cy="84.5" r="1.0" fill="#cccccc" opacity="0.5"/><circle cx="8.4" cy="5.4" r="1.1" fill="#808080" opacity="0.5"/><circle cx="93.1" cy="91.4" r="1.1" fill="#eeeeee" opacity="0.5"/><circle cx="56.9" cy="82.9" r="1.1" fill="#ffffff" opacity="0.5"/><circle cx="113.3" cy="124.5" r="0.5" fill="#cccccc" opacity="0.5"/><circle cx="40.3" cy="96.6" r="1.3" fill="#808080" opacity="0.5"/><circle cx="105.4" cy="113.3" r="1.2" fill="#eeeeee" opacity="0.5"/><circle cx="34.0" cy="15.2" r="0.6" fill="#ffffff" opacity="0.5"/><circle cx="97.8" cy="50.2" r="0.9" fill="#808080" opacity="0.5"/><circle cx="4.5" cy="88.3" r="0.5" fill="#ffffff" opacity="0.5"/><circle cx="28.9" cy="106.2" r="0.9" fill="#cccccc" opacity="0.5"/><circle cx="116.7" cy="20.2" r="1.0" fill="#cccccc" opacity="0.5"/><circle cx="98.5" cy="127.9" r="0.5" fill="#eeeeee" opacity="0.5"/><circle cx="40.2" cy="0.5" r="1.1" fill="#eeeeee" opacity="0.5"/><circle cx="8.1" cy="29.0" r="1.0" fill="#eeeeee" opacity="0.5"/><circle cx="123.1" cy="96.5" r="1.3" fill="#808080" opacity="0.5"/><circle cx="132.7" cy="5.0" r="1.2" fill="#808080" opacity="0.5"/><circle cx="87.1" cy="121.7" r="1.1" fill="#eeeeee" opacity="0.5"/><circle cx="13.8" cy="59.4" r="0.9" fill="#eeeeee" opacity="0.5"/><circle cx="41.8" cy="121.5" r="0.9" fill="#ffffff" opacity="0.5"/><circle cx="3.8" cy="93.5" r="1.0" fill="#ffffff" opacity="0.5"/><circle cx="85.0" cy="80.8" r="0.7" fill="#808080" opacity="0.5"/><circle cx="83.7" cy="74.3" r="0.5" fill="#eeeeee" opacity="0.5"/><circle cx="34.9" cy="75.4" r="1.0" fill="#cccccc" opacity="0.5"/><circle cx="7.6" cy="104.0" r="1.2" fill="#eeeeee" opacity="0.5"/><circle cx="6.9" cy="46.5" r="1.1" fill="#ffffff" opacity="0.5"/><circle cx="67.9" cy="77.9" r="0.9" fill="#ffffff" opacity="0.5"/><circle cx="58.2" cy="41.4" r="0.5" fill="#eeeeee" opacity="0.5"/><circle cx="117.7" cy="32.4" r="1.0" fill="#808080" opacity="0.5"/><circle cx="94.9" cy="59.9" r="0.7" fill="#eeeeee" opacity="0.5"/><circle cx="0.5" cy="109.2" r="0.8" fill="#ffffff" opacity="0.5"/><circle cx="59.5" cy="78.9" r="0.8" fill="#cccccc" opacity="0.5"/><circle cx="126.0" cy="0.7" r="0.4" fill="#ffffff" opacity="0.5"/><circle cx="22.7" cy="83.1" r="0.6" fill="#eeeeee" opacity="0.5"/><circle cx="114.7" cy="114.3" r="0.7" fill="#cccccc" opacity="0.5"/><circle cx="126.9" cy="6.4" r="1.0" fill="#cccccc" opacity="0.5"/><circle cx="41.8" cy="121.0" r="0.6" fill="#eeeeee" opacity="0.5"/><circle cx="68.5" cy="70.9" r="0.7" fill="#cccccc" opacity="0.5"/><circle cx="45.5" cy="98.4" r="0.8" fill="#808080" opacity="0.5"/><circle cx="54.1" cy="50.9" r="0.5" fill="#eeeeee" opacity="0.5"/><circle cx="55.0" cy="98.6" r="1.1" fill="#ffffff" opacity="0.5"/><circle cx="56.1" cy="79.6" r="1.2" fill="#cccccc" opacity="0.5"/><circle cx="138.1" cy="62.2" r="1.1" fill="#808080" opacity="0.5"/><circle cx="50.3" cy="54.2" r="0.9" fill="#eeeeee" opacity="0.5"/><circle cx="11.6" cy="22.2" r="1.0" fill="#cccccc" opacity="0.5"/><circle cx="40.8" cy="124.3" r="1.0" fill="#ffffff" opacity="0.5"/><circle cx="108.7" cy="51.1" r="1.1" fill="#eeeeee" opacity="0.5"/><circle cx="60.2" cy="65.2" r="0.8" fill="#808080" opacity="0.5"/><circle cx="0.1" cy="23.4" r="0.4" fill="#cccccc" opacity="0.5"/><circle cx="3.1" cy="23.7" r="0.9" fill="#cccccc" opacity="0.5"/><circle cx="105.8" cy="89.6" r="0.9" fill="#808080" opacity="0.5"/><circle cx="3.0" cy="13.2" r="1.0" fill="#808080" opacity="0.5"/><circle cx="53.0" cy="17.8" r="1.3" fill="#eeeeee" opacity="0.5"/><circle cx="134.8" cy="86.6" r="1.1" fill="#808080" opacity="0.5"/><circle cx="47.6" cy="27.1" r="1.0" fill="#eeeeee" opacity="0.5"/><circle cx="89.4" cy="59.4" r="1.0" fill="#808080" opacity="0.5"/><circle cx="113.8" cy="117.8" r="0.8" fill="#808080" opacity="0.5"/><circle cx="88.0" cy="106.5" r="0.6" fill="#cccccc" opacity="0.5"/><polygon points="24.2,6.7 24.7,7.9 24.3,9.1 23.0,10.0 21.3,10.3 19.8,10.3 18.6,10.5 17.4,11.0 16.0,11.3 14.5,11.0 13.5,10.3 12.9,9.3 12.3,8.5 11.2,7.7 9.9,6.7 9.1,5.3 9.7,4.0 11.5,3.3 13.7,3.3 15.4,3.7 16.4,3.6 17.4,3.0 18.8,2.2 20.5,2.0 21.9,2.6 22.7,3.7 23.0,4.7 23.5,5.7" fill="#f7f7f7" stroke="#111" stroke-width="2.9" stroke-linejoin="round"/><polygon points="9.1,12.4 8.9,13.5 8.1,14.3 7.2,14.9 6.4,15.3 5.7,15.8 5.0,16.3 4.1,16.6 3.2,16.5 2.3,16.1 1.6,15.5 1.0,14.8 0.6,14.1 0.3,13.3 0.4,12.4 0.7,11.6 1.0,10.9 1.1,10.0 1.3,8.8 1.8,7.7 2.9,7.1 4.1,7.5 5.0,8.5 5.4,9.7 5.6,10.5 6.2,10.7 7.3,10.9 8.4,11.4" fill="#d8d8d8" stroke="#333" stroke-width="1.4" stroke-linejoin="round"/><polygon points="15.1,19.5 15.4,20.1 15.9,21.0 16.1,22.2 15.6,23.2 14.7,23.9 13.5,24.2 12.3,24.4 11.0,24.4 9.7,24.2 8.7,23.4 8.4,22.3 8.7,21.0 9.3,20.1 9.6,19.5 9.3,18.9 8.7,18.0 8.5,16.8 8.9,15.7 9.9,15.0 11.1,14.7 12.3,14.6 13.6,14.7 14.8,14.9 15.8,15.6 16.2,16.8 15.9,18.0 15.4,18.9" fill="#f7f7f7" stroke="#111" stroke-width="2.9" stroke-linejoin="round"/><polygon points="41.3,21.6 41.0,23.1 39.8,24.2 38.5,25.1 37.4,25.9 36.2,26.8 34.8,27.4 33.2,27.5 31.7,27.0 30.5,26.2 29.3,25.7 27.7,25.2 26.0,24.5 24.9,23.2 25.2,21.6 26.6,20.3 28.2,19.6 29.1,18.9 29.5,17.7 30.0,16.1 31.3,14.6 33.2,14.2 35.0,15.1 36.0,16.7 36.6,18.1 37.4,18.8 38.8,19.4 40.4,20.2" fill="#f7f7f7" stroke="#111" stroke-width="2.9" stroke-linejoin="round"/><polygon points="53.1,11.9 52.6,13.3 52.0,14.6 51.4,15.8 50.4,17.0 49.2,18.0 47.6,18.4 46.0,18.2 44.6,17.5 43.5,16.6 42.5,15.9 41.1,15.5 39.4,14.8 37.7,13.7 36.7,11.9 37.0,10.0 38.5,8.6 40.6,7.9 42.5,7.9 43.9,7.8 44.9,7.4 46.0,6.7 47.5,5.9 49.3,5.6 51.1,6.0 52.4,7.2 53.2,8.7 53.3,10.4" fill="#222" stroke="#111" stroke-width="2.9" stroke-linejoin="round"/><ellipse cx="47.1" cy="12.5" rx="3.2" ry="2.6" fill="#f4f4f4"/><polygon points="69.8,20.0 69.8,21.5 69.1,22.7 68.0,23.7 66.9,24.4 65.7,24.8 64.6,25.1 63.4,25.1 62.3,24.9 61.2,24.5 60.2,24.0 59.2,23.3 58.2,22.5 57.4,21.4 57.0,20.0 57.3,18.6 58.0,17.4 58.9,16.4 60.0,15.7 61.0,15.1 62.2,14.7 63.4,14.6 64.6,14.9 65.6,15.5 66.4,16.2 67.3,16.8 68.3,17.6 69.3,18.7" fill="#222" stroke="#111" stroke-width="2.9" stroke-linejoin="round"/><ellipse cx="64.2" cy="20.6" rx="2.5" ry="2.2" fill="#f4f4f4"/><polygon points="67.7,4.2 67.6,4.8 67.7,5.6 67.5,6.4 67.0,7.1 66.0,7.6 65.0,7.9 63.9,8.2 62.6,8.5 61.2,8.4 60.2,7.7 60.0,6.6 60.7,5.4 61.5,4.6 61.6,4.2 60.7,3.6 59.6,2.6 59.1,1.3 59.8,0.2 61.2,-0.0 62.8,0.3 63.9,0.9 64.8,1.1 65.9,1.1 67.0,1.2 67.9,1.7 68.2,2.6 68.0,3.5" fill="#f7f7f7" stroke="#111" stroke-width="2.9" stroke-linejoin="round"/><polygon points="18.9,30.8 18.7,31.6 18.8,32.5 19.0,33.8 18.7,35.2 17.8,36.5 16.4,37.1 14.8,37.0 13.4,36.3 12.4,35.3 11.6,34.4 10.9,33.6 9.9,32.9 8.9,32.0 8.3,30.8 8.4,29.5 9.3,28.4 10.6,27.8 11.9,27.5 12.9,27.3 13.8,26.7 14.8,25.7 16.3,24.8 18.1,24.6 19.6,25.3 20.4,26.8 20.3,28.4 19.6,29.8" fill="#f7f7f7" stroke="#111" stroke-width="2.9" stroke-linejoin="round"/><polygon points="56.9,30.8 56.8,32.2 55.7,33.4 53.9,34.0 52.2,34.3 50.9,34.5 49.8,35.0 48.5,35.6 46.9,36.1 45.1,36.1 43.4,35.6 42.3,34.5 41.8,33.2 41.7,32.0 42.0,30.8 42.4,29.8 42.8,28.8 43.3,27.7 44.1,26.6 45.2,25.6 46.7,25.0 48.5,25.0 50.1,25.6 51.3,26.5 52.2,27.4 53.2,28.0 54.5,28.6 55.9,29.5" fill="#f7f7f7" stroke="#111" stroke-width="2.9" stroke-linejoin="round"/><polygon points="36.5,39.0 35.5,40.2 34.0,41.0 32.4,41.4 31.3,41.8 30.4,42.3 29.5,43.3 28.1,44.3 26.1,45.1 23.8,45.2 21.8,44.5 20.5,43.2 20.1,41.7 20.6,40.2 21.5,39.0 22.4,38.1 23.1,37.3 23.5,36.5 24.1,35.5 25.0,34.5 26.4,33.7 28.1,33.3 29.9,33.4 31.7,33.9 33.3,34.5 34.7,35.3 36.0,36.4 36.7,37.6" fill="#f7f7f7" stroke="#111" stroke-width="2.9" stroke-linejoin="round"/><polygon points="49.4,44.0 49.8,45.2 49.9,46.6 49.3,47.8 48.0,48.4 46.5,48.2 45.3,47.3 44.5,46.6 43.9,46.5 43.1,46.9 41.8,47.4 40.3,47.3 39.1,46.6 38.4,45.4 38.3,44.0 38.8,42.7 39.6,41.7 40.8,41.0 42.0,40.8 43.0,40.8 43.8,40.8 44.5,40.5 45.4,40.0 46.6,39.7 47.7,40.0 48.5,40.8 48.9,41.9 49.1,43.0" fill="#f7f7f7" stroke="#111" stroke-width="2.9" stroke-linejoin="round"/><polygon points="60.3,46.6 60.1,47.1 59.8,47.6 59.4,48.1 58.9,48.5 58.3,48.9 57.6,49.3 56.7,49.4 55.8,49.4 55.0,49.0 54.4,48.6 54.1,48.1 53.8,47.6 53.7,47.1 53.5,46.6 53.4,46.1 53.5,45.5 53.7,44.9 54.2,44.4 54.9,44.1 55.8,43.9 56.7,43.9 57.5,44.1 58.2,44.4 58.8,44.8 59.4,45.1 59.8,45.5 60.2,46.0" fill="#f7f7f7" stroke="#111" stroke-width="2.9" stroke-linejoin="round"/><polygon points="66.3,36.9 66.6,37.9 66.5,38.9 65.8,39.7 64.9,40.1 63.9,40.3 63.2,40.7 62.3,41.4 61.2,41.9 59.9,41.9 59.0,41.0 58.8,39.7 59.0,38.5 59.2,37.6 58.9,36.9 58.3,36.0 58.1,34.9 58.4,33.8 59.3,33.2 60.4,33.0 61.4,32.9 62.3,32.7 63.3,32.4 64.4,32.5 65.3,33.1 65.8,34.1 65.9,35.2 66.0,36.1" fill="#d8d8d8" stroke="#333" stroke-width="1.4" stroke-linejoin="round"/><polygon points="9.1,46.1 8.7,46.9 8.9,47.9 9.3,49.4 9.3,51.3 8.6,53.1 7.3,54.2 5.6,54.4 4.0,53.7 2.8,52.5 1.9,51.3 1.2,50.0 0.5,48.8 0.1,47.5 -0.0,46.1 0.4,44.8 1.1,43.7 2.0,42.9 2.9,42.3 3.6,41.4 4.4,40.2 5.6,38.8 7.3,37.8 9.2,37.8 10.7,39.0 11.3,41.0 11.0,43.2 10.0,45.0" fill="#f7f7f7" stroke="#111" stroke-width="2.9" stroke-linejoin="round"/><polygon points="36.6,55.3 36.5,56.8 36.3,58.3 36.0,59.8 35.4,61.3 34.5,62.4 33.3,62.8 32.2,62.5 31.2,61.6 30.5,60.6 30.0,59.5 29.6,58.4 29.3,57.4 28.9,56.4 28.4,55.3 27.9,53.8 27.5,51.9 27.6,49.8 28.4,48.1 29.7,47.5 31.1,48.1 32.2,49.4 32.9,50.5 33.5,51.2 34.2,51.4 35.1,51.8 36.0,52.6 36.5,53.8" fill="#d8d8d8" stroke="#333" stroke-width="1.4" stroke-linejoin="round"/><polygon points="7.3,62.4 7.1,63.0 7.0,63.6 7.0,64.3 6.7,65.0 6.1,65.4 5.3,65.5 4.6,65.2 4.0,64.9 3.5,64.7 2.9,64.5 2.4,64.1 2.0,63.6 1.8,63.0 1.6,62.4 1.4,61.7 1.4,60.9 1.8,60.2 2.5,59.8 3.4,59.8 4.1,60.1 4.6,60.3 5.1,60.2 5.8,59.9 6.7,59.8 7.4,60.1 7.8,60.9 7.6,61.7" fill="#f7f7f7" stroke="#111" stroke-width="2.9" stroke-linejoin="round"/><polygon points="5.7,29.7 5.2,30.2 5.2,30.7 5.4,31.5 5.4,32.6 4.9,33.4 4.0,33.7 3.1,33.2 2.5,32.5 2.0,31.9 1.5,31.6 0.9,31.5 0.2,31.1 -0.2,30.5 -0.3,29.7 -0.1,29.0 0.2,28.3 0.6,27.7 1.1,27.1 1.7,26.8 2.4,26.7 3.1,26.8 3.7,26.9 4.4,26.9 5.3,27.0 6.1,27.3 6.4,28.1 6.2,29.0" fill="#d8d8d8" stroke="#333" stroke-width="1.4" stroke-linejoin="round"/><polygon points="79.9,8.3 79.9,9.3 79.7,10.3 79.4,11.3 78.7,12.2 77.7,12.7 76.6,12.5 75.6,11.8 75.0,10.9 74.6,10.5 73.8,10.5 72.5,10.7 71.0,10.5 69.7,9.7 69.3,8.3 70.0,7.0 71.3,6.3 72.7,6.0 73.6,5.8 74.3,5.5 74.9,5.0 75.6,4.5 76.5,4.3 77.5,4.4 78.4,4.8 79.1,5.5 79.6,6.4 79.9,7.3" fill="#d8d8d8" stroke="#333" stroke-width="1.4" stroke-linejoin="round"/><polygon points="91.0,6.2 91.3,6.5 92.0,7.1 92.4,7.9 92.2,8.8 91.4,9.4 90.1,9.5 88.9,9.3 88.0,8.8 87.3,8.2 86.8,7.8 86.3,7.5 85.8,7.1 85.3,6.7 85.0,6.2 85.1,5.7 85.4,5.2 86.0,4.8 86.6,4.4 87.2,4.0 87.9,3.6 88.9,3.1 90.1,2.9 91.3,3.2 92.0,3.8 92.1,4.6 91.7,5.4 91.1,5.9" fill="#222" stroke="#111" stroke-width="2.9" stroke-linejoin="round"/><ellipse cx="89.5" cy="6.5" rx="1.8" ry="1.0" fill="#f4f4f4"/><polygon points="100.0,1.1 100.0,1.5 99.8,1.9 99.6,2.3 99.2,2.5 98.8,2.6 98.5,2.7 98.1,2.8 97.7,2.9 97.2,2.9 96.8,2.7 96.5,2.3 96.4,1.9 96.3,1.5 96.3,1.1 96.3,0.7 96.4,0.3 96.6,-0.1 96.9,-0.4 97.3,-0.5 97.7,-0.6 98.1,-0.6 98.5,-0.6 98.9,-0.6 99.3,-0.4 99.6,-0.1 99.8,0.3 100.0,0.7" fill="#f7f7f7" stroke="#111" stroke-width="2.9" stroke-linejoin="round"/><polygon points="118.0,5.7 119.2,6.4 121.2,7.8 122.3,9.8 121.5,11.5 118.9,12.2 115.9,12.0 113.4,11.4 111.3,10.9 109.5,10.4 107.9,9.6 107.1,8.6 107.2,7.4 107.4,6.5 106.7,5.7 105.2,4.6 103.9,3.1 104.1,1.5 106.1,0.5 108.9,0.4 111.4,0.7 113.4,0.8 115.5,0.4 118.1,0.2 120.4,0.7 121.4,2.1 120.5,3.8 118.8,5.0" fill="#f7f7f7" stroke="#111" stroke-width="2.9" stroke-linejoin="round"/><polygon points="137.7,8.8 137.9,10.1 137.5,11.3 136.7,12.3 135.7,13.0 134.5,13.4 133.3,13.3 132.3,12.8 131.5,12.2 130.8,11.8 129.9,11.8 128.6,11.7 127.3,11.2 126.6,10.1 126.8,8.8 127.7,7.8 128.6,7.0 129.2,6.3 129.4,5.2 129.9,3.9 131.0,3.0 132.3,3.0 133.4,4.0 134.0,5.4 134.2,6.4 134.7,6.8 135.7,7.2 136.9,7.8" fill="#f7f7f7" stroke="#111" stroke-width="2.9" stroke-linejoin="round"/><polygon points="103.2,19.5 104.1,21.1 103.6,22.8 102.0,24.0 100.1,24.7 98.3,25.4 96.6,26.3 94.5,27.2 92.1,27.5 89.9,26.6 88.8,24.8 88.9,22.8 89.7,21.2 90.0,20.3 89.3,19.5 87.8,18.4 86.5,16.6 86.1,14.5 87.0,12.5 89.1,11.2 91.8,10.8 94.5,11.5 96.5,12.9 97.7,14.6 98.1,16.1 98.6,17.1 99.7,17.6 101.4,18.3" fill="#f7f7f7" stroke="#111" stroke-width="2.9" stroke-linejoin="round"/><polygon points="132.6,19.0 132.9,20.3 131.6,21.4 129.3,22.2 126.5,22.4 124.1,22.4 122.3,22.4 120.6,22.6 118.6,23.1 115.9,23.4 113.0,23.3 110.6,22.7 109.2,21.5 109.2,20.2 110.3,19.0 111.7,18.1 112.9,17.3 113.7,16.5 114.6,15.6 116.0,14.6 118.1,14.0 120.6,13.8 123.0,14.2 124.8,15.0 126.3,15.8 127.6,16.4 129.3,17.1 131.2,17.9" fill="#f7f7f7" stroke="#111" stroke-width="2.9" stroke-linejoin="round"/><polygon points="141.2,21.6 141.0,22.4 140.3,23.0 139.6,23.3 139.0,23.5 138.5,23.7 138.1,24.2 137.5,24.5 136.8,24.6 136.2,24.3 135.7,23.8 135.4,23.3 135.0,22.8 134.5,22.3 134.1,21.6 134.0,20.8 134.4,20.1 135.0,19.6 135.7,19.4 136.4,19.2 136.9,19.1 137.5,19.1 138.1,19.1 138.6,19.3 139.2,19.5 139.8,19.8 140.4,20.2 141.0,20.8" fill="#f7f7f7" stroke="#111" stroke-width="2.9" stroke-linejoin="round"/><polygon points="89.9,33.8 88.8,35.5 87.8,36.9 87.1,38.3 86.2,39.7 85.0,40.9 83.5,41.6 81.8,41.8 80.2,41.5 78.6,41.0 76.9,40.4 75.0,39.6 73.0,38.3 71.4,36.3 70.8,33.8 71.7,31.3 73.8,29.7 76.4,29.2 78.6,29.5 80.0,29.7 80.8,29.1 81.8,27.6 83.5,25.6 86.1,24.3 88.7,24.5 90.7,26.2 91.5,28.8 91.0,31.5" fill="#f7f7f7" stroke="#111" stroke-width="2.9" stroke-linejoin="round"/><polygon points="106.7,38.4 106.0,39.4 105.1,40.1 104.6,40.9 104.3,42.1 103.8,43.5 102.5,44.6 100.7,44.6 99.3,43.5 98.6,42.0 98.2,40.9 97.6,40.4 96.3,40.1 94.8,39.5 94.1,38.4 94.5,37.2 95.5,36.4 96.5,35.7 97.2,34.9 98.0,33.8 99.2,32.9 100.7,32.8 102.1,33.4 103.0,34.5 103.7,35.3 104.5,35.9 105.6,36.5 106.5,37.3" fill="#f7f7f7" stroke="#111" stroke-width="2.9" stroke-linejoin="round"/><polygon points="121.9,29.7 121.0,30.5 119.8,31.1 118.6,31.5 117.6,31.9 116.8,32.4 115.9,33.0 114.5,33.5 112.9,33.6 111.4,33.3 110.2,32.7 109.3,32.0 108.7,31.3 108.1,30.5 107.8,29.7 107.8,28.9 108.5,28.1 109.5,27.5 110.8,27.1 112.0,26.8 113.2,26.6 114.5,26.4 115.9,26.4 117.3,26.5 118.7,26.7 120.1,27.2 121.3,27.9 122.0,28.7" fill="#f7f7f7" stroke="#111" stroke-width="2.9" stroke-linejoin="round"/><polygon points="122.0,38.9 122.3,40.0 122.4,41.3 122.2,42.6 121.5,43.7 120.6,44.4 119.5,44.4 118.5,43.9 117.7,43.2 117.1,42.6 116.4,42.3 115.5,42.0 114.4,41.4 113.6,40.3 113.3,38.9 113.8,37.5 114.8,36.6 115.8,36.1 116.5,35.8 117.0,35.1 117.6,34.1 118.5,33.2 119.6,32.8 120.7,33.2 121.4,34.3 121.7,35.6 121.8,36.9 121.9,37.9" fill="#f7f7f7" stroke="#111" stroke-width="2.9" stroke-linejoin="round"/><polygon points="77.7,50.2 77.9,51.2 78.0,52.4 77.8,53.5 77.1,54.3 76.2,54.6 75.3,54.4 74.6,54.0 74.0,53.9 73.2,54.0 72.2,54.0 71.2,53.7 70.4,52.8 70.2,51.5 70.5,50.2 71.3,49.2 72.1,48.6 72.6,48.2 73.0,47.5 73.3,46.6 73.8,45.5 74.6,44.7 75.6,44.5 76.5,45.0 77.2,46.0 77.4,47.2 77.5,48.4 77.5,49.3" fill="#f7f7f7" stroke="#111" stroke-width="2.9" stroke-linejoin="round"/><polygon points="96.2,51.2 94.7,52.2 93.4,52.7 92.8,53.1 92.4,53.7 92.1,54.7 91.4,55.8 90.4,56.8 89.0,57.5 87.4,57.5 85.9,56.8 85.2,55.4 85.2,53.7 85.7,52.3 86.2,51.2 86.3,50.3 86.1,49.1 86.2,47.9 87.0,46.9 88.2,46.6 89.4,47.0 90.4,47.4 91.3,47.3 92.6,46.7 94.4,46.2 96.3,46.5 97.5,47.8 97.4,49.6" fill="#f7f7f7" stroke="#111" stroke-width="2.9" stroke-linejoin="round"/><polygon points="121.7,55.8 122.2,57.2 122.1,58.8 121.3,60.2 119.6,61.0 117.6,61.0 115.7,60.2 114.5,59.3 113.6,59.0 112.5,59.2 110.8,59.5 109.0,59.4 107.8,58.4 107.5,57.1 108.0,55.8 108.4,54.7 108.6,53.5 108.8,52.1 109.5,50.7 111.0,49.8 112.9,49.9 114.5,50.8 115.6,51.9 116.4,52.6 117.3,52.9 118.5,53.2 119.8,53.7 120.9,54.6" fill="#f7f7f7" stroke="#111" stroke-width="2.9" stroke-linejoin="round"/><polygon points="135.9,57.3 135.7,58.2 135.5,59.1 135.3,60.1 134.7,61.0 133.9,61.6 132.9,61.9 131.8,61.9 130.8,61.8 129.7,61.6 128.6,61.3 127.7,60.6 127.2,59.5 127.3,58.3 127.8,57.3 128.2,56.5 128.5,55.7 128.6,54.7 128.9,53.7 129.6,52.8 130.7,52.4 131.8,52.3 132.9,52.6 133.9,53.0 134.9,53.5 135.6,54.2 136.1,55.2 136.1,56.3" fill="#f7f7f7" stroke="#111" stroke-width="2.9" stroke-linejoin="round"/><polygon points="77.0,18.5 76.8,19.0 76.7,19.5 76.7,20.2 76.5,20.9 76.0,21.4 75.3,21.4 74.6,20.8 74.2,20.2 73.9,19.9 73.5,19.9 72.6,20.1 71.7,19.9 71.0,19.3 71.0,18.5 71.5,17.8 72.2,17.4 72.9,17.1 73.3,16.9 73.7,16.6 74.1,16.4 74.6,16.2 75.1,16.1 75.7,16.1 76.4,16.2 77.0,16.6 77.4,17.2 77.3,17.9" fill="#d8d8d8" stroke="#333" stroke-width="1.4" stroke-linejoin="round"/><polygon points="6.6,66.7 6.6,67.4 6.2,67.9 5.6,68.3 4.9,68.4 4.4,68.4 4.0,68.6 3.6,68.9 3.1,69.1 2.4,69.1 1.9,68.8 1.7,68.2 1.6,67.6 1.7,67.1 1.6,66.7 1.4,66.2 1.3,65.6 1.3,64.9 1.7,64.3 2.3,64.0 3.0,64.1 3.6,64.5 4.0,64.9 4.3,65.2 4.7,65.4 5.1,65.5 5.7,65.7 6.3,66.1" fill="#f7f7f7" stroke="#111" stroke-width="2.9" stroke-linejoin="round"/><polygon points="26.9,70.2 26.7,71.1 25.6,71.8 23.8,72.3 21.9,72.5 20.1,72.5 18.7,72.5 17.4,72.6 16.0,72.6 14.5,72.6 13.0,72.4 11.5,72.1 10.1,71.6 8.9,71.0 8.1,70.2 8.2,69.3 9.1,68.6 10.9,68.1 12.8,67.9 14.6,67.9 16.1,67.9 17.4,67.9 18.7,67.8 20.2,67.8 21.7,68.0 23.3,68.3 24.8,68.8 26.1,69.4" fill="#f7f7f7" stroke="#111" stroke-width="2.9" stroke-linejoin="round"/><polygon points="59.5,69.7 60.2,70.8 59.7,71.9 58.4,72.7 56.9,73.0 55.5,73.2 54.2,73.2 53.1,73.0 52.2,72.6 51.4,72.2 50.5,72.0 49.2,71.9 47.6,71.5 46.4,70.8 46.2,69.7 47.1,68.7 48.4,68.1 49.6,67.7 50.2,67.1 50.7,66.2 51.6,65.2 53.1,64.8 54.5,65.4 55.2,66.6 55.4,67.7 55.5,68.3 56.4,68.6 58.0,68.9" fill="#d8d8d8" stroke="#333" stroke-width="1.4" stroke-linejoin="round"/><polygon points="32.3,86.6 31.7,89.0 30.1,91.0 27.8,92.2 25.3,92.6 23.1,92.6 21.4,92.6 19.9,93.1 18.0,94.2 15.3,95.0 12.5,94.8 10.5,93.3 9.9,90.9 10.5,88.5 11.3,86.6 11.7,84.9 11.4,83.0 11.5,80.6 12.6,78.5 14.9,77.5 17.6,77.8 19.9,79.1 21.5,80.3 22.9,81.0 24.8,81.1 27.2,81.4 29.7,82.4 31.5,84.2" fill="#f7f7f7" stroke="#111" stroke-width="2.9" stroke-linejoin="round"/><path d="M18.9,80.5 Q25.8,86.6 21.9,91.8" fill="none" stroke="#222" stroke-width="2.5"/><polygon points="42.1,83.5 41.8,85.3 41.3,87.0 40.6,88.4 39.7,89.3 38.7,89.7 37.7,89.6 36.8,89.3 36.0,89.3 35.0,89.7 33.7,89.8 32.3,89.2 31.4,87.6 31.3,85.5 31.7,83.5 32.4,81.9 33.0,80.5 33.4,79.1 34.0,77.8 34.8,76.7 35.8,76.4 36.8,76.6 37.7,77.1 38.6,77.5 39.6,77.8 40.7,78.5 41.6,79.8 42.1,81.5" fill="#f7f7f7" stroke="#111" stroke-width="2.9" stroke-linejoin="round"/><polygon points="55.0,80.5 54.7,81.4 54.6,82.4 54.6,83.7 54.1,84.9 53.0,85.5 51.7,85.4 50.6,84.8 49.8,84.1 49.0,83.7 48.1,83.6 47.0,83.4 46.1,82.7 45.5,81.7 45.5,80.5 45.6,79.4 46.0,78.3 46.5,77.2 47.4,76.5 48.5,76.2 49.7,76.4 50.6,76.7 51.4,76.8 52.4,76.7 53.6,76.7 54.8,77.1 55.4,78.2 55.4,79.4" fill="#f7f7f7" stroke="#111" stroke-width="2.9" stroke-linejoin="round"/><polygon points="66.3,88.1 66.4,89.1 66.7,90.2 66.6,91.6 65.9,92.8 64.7,93.5 63.2,93.7 61.8,93.5 60.6,93.0 59.5,92.4 58.7,91.7 57.9,90.9 57.0,90.2 56.0,89.3 55.2,88.1 54.9,86.7 55.5,85.4 56.9,84.6 58.6,84.4 59.9,84.6 60.9,84.4 61.8,83.7 63.1,82.8 64.9,82.3 66.5,82.8 67.3,84.1 67.2,85.7 66.7,87.1" fill="#222" stroke="#111" stroke-width="2.9" stroke-linejoin="round"/><ellipse cx="62.7" cy="88.6" rx="2.6" ry="2.1" fill="#f4f4f4"/><polygon points="7.5,80.5 7.6,81.4 7.3,82.3 6.8,83.1 6.1,83.6 5.3,84.0 4.4,84.1 3.6,84.2 2.8,84.0 2.1,83.7 1.4,83.2 1.0,82.6 0.7,81.9 0.4,81.2 0.2,80.5 -0.1,79.7 -0.1,78.7 0.2,77.8 0.8,77.0 1.7,76.6 2.7,76.6 3.6,76.9 4.3,77.3 4.9,77.7 5.5,78.1 6.1,78.5 6.7,79.0 7.2,79.7" fill="#d8d8d8" stroke="#333" stroke-width="1.4" stroke-linejoin="round"/><polygon points="19.8,101.4 20.5,101.9 22.2,103.1 23.5,104.9 23.3,106.8 21.4,107.7 18.9,107.4 16.9,106.4 15.5,105.5 14.3,105.1 12.8,104.8 11.4,104.3 10.6,103.4 10.6,102.4 11.0,101.4 11.4,100.6 11.4,99.6 11.6,98.6 12.3,97.5 13.6,96.8 15.2,96.4 16.9,96.1 18.8,95.9 20.8,95.9 22.5,96.7 23.1,98.1 22.2,99.7 20.7,100.8" fill="#f7f7f7" stroke="#111" stroke-width="2.9" stroke-linejoin="round"/><polygon points="37.7,99.9 38.0,101.2 37.8,102.5 37.2,103.5 36.2,104.0 35.2,103.9 34.4,103.7 33.7,103.7 33.0,103.9 32.2,104.0 31.4,103.6 30.9,102.8 30.7,101.8 30.5,100.8 30.3,99.9 30.0,98.8 29.9,97.5 30.2,96.3 30.9,95.4 31.9,95.2 32.9,95.4 33.7,95.8 34.4,96.1 35.0,96.4 35.6,96.8 36.1,97.4 36.6,98.1 37.2,98.9" fill="#f7f7f7" stroke="#111" stroke-width="2.9" stroke-linejoin="round"/><polygon points="55.7,97.3 54.9,98.2 54.0,99.0 53.2,99.6 52.3,100.1 51.2,100.4 50.1,100.4 49.1,100.3 48.1,100.3 46.9,100.4 45.4,100.5 43.9,100.2 42.9,99.4 42.9,98.3 43.5,97.3 44.3,96.5 44.7,95.8 44.9,95.0 45.4,94.1 46.5,93.5 47.9,93.6 49.1,94.0 50.0,94.5 50.9,94.7 52.1,94.7 53.7,94.7 55.2,95.3 55.9,96.2" fill="#d8d8d8" stroke="#333" stroke-width="1.4" stroke-linejoin="round"/><polygon points="14.8,111.1 14.9,112.5 14.1,113.8 12.4,114.4 10.6,114.5 9.2,114.5 8.3,114.9 7.2,115.9 5.6,116.9 3.6,117.1 2.1,116.3 1.5,114.8 1.8,113.2 2.3,112.0 2.3,111.1 1.8,110.1 1.3,108.8 1.5,107.4 2.5,106.3 4.0,105.7 5.7,105.7 7.2,105.9 8.5,106.3 9.7,106.9 10.7,107.5 11.6,108.2 12.7,109.0 13.8,109.9" fill="#f7f7f7" stroke="#111" stroke-width="2.9" stroke-linejoin="round"/><polygon points="52.3,109.0 52.2,109.9 51.1,110.6 49.4,110.9 47.9,111.0 46.9,111.1 46.1,111.6 45.0,112.1 43.6,112.4 42.2,112.2 41.2,111.6 40.6,110.9 39.9,110.3 38.9,109.8 37.8,109.0 37.5,108.1 38.4,107.3 40.1,106.9 41.8,106.8 43.1,106.9 44.0,106.7 45.0,106.2 46.3,105.9 47.7,106.0 48.9,106.4 49.8,106.9 50.7,107.5 51.7,108.2" fill="#d8d8d8" stroke="#333" stroke-width="1.4" stroke-linejoin="round"/><polygon points="33.4,118.3 33.1,119.7 32.7,121.0 32.3,122.3 32.0,123.8 31.4,125.5 30.4,127.1 29.1,128.2 27.6,128.4 26.2,127.5 25.2,125.9 24.5,123.9 24.4,121.8 24.6,119.9 25.0,118.3 25.4,117.0 25.7,115.8 25.9,114.4 26.2,112.7 26.8,110.8 27.7,109.1 29.1,108.1 30.6,108.2 31.9,109.2 32.9,110.9 33.5,112.9 33.7,114.9 33.7,116.7" fill="#f7f7f7" stroke="#111" stroke-width="2.9" stroke-linejoin="round"/><polygon points="54.8,119.3 55.7,120.1 56.5,121.3 56.3,122.6 55.2,123.4 53.5,123.5 51.9,123.2 50.6,122.9 49.5,122.9 48.1,123.0 46.7,122.8 45.6,122.2 45.0,121.2 45.1,120.2 45.4,119.3 45.7,118.5 45.9,117.7 46.3,116.9 47.0,116.1 48.0,115.5 49.2,114.9 50.6,114.5 52.2,114.4 53.6,114.8 54.6,115.7 54.9,116.9 54.6,117.9 54.4,118.7" fill="#f7f7f7" stroke="#111" stroke-width="2.9" stroke-linejoin="round"/><polygon points="16.6,122.9 16.8,123.8 16.6,124.7 16.0,125.5 15.1,125.8 14.2,125.8 13.4,125.5 12.8,125.3 12.2,125.5 11.4,125.8 10.3,126.1 9.1,125.9 8.1,125.2 7.8,124.0 8.2,122.9 9.0,122.0 10.0,121.6 10.8,121.3 11.3,121.0 11.6,120.5 12.1,119.8 12.8,119.1 13.7,118.8 14.7,119.0 15.4,119.6 15.9,120.4 16.2,121.3 16.4,122.1" fill="#d8d8d8" stroke="#333" stroke-width="1.4" stroke-linejoin="round"/><polygon points="8.5,124.4 7.7,125.3 6.4,125.8 5.4,125.8 4.8,125.9 4.5,126.2 4.1,126.7 3.6,127.1 3.0,127.1 2.4,126.8 1.9,126.6 1.2,126.3 0.5,125.9 0.0,125.2 -0.0,124.4 0.4,123.7 0.9,123.1 1.3,122.6 1.7,122.0 2.2,121.5 2.9,121.4 3.6,121.9 4.0,122.6 4.2,123.1 4.7,123.1 5.7,122.8 7.1,122.7 8.2,123.3" fill="#f7f7f7" stroke="#111" stroke-width="2.9" stroke-linejoin="round"/><polygon points="67.1,124.4 66.5,125.2 65.8,125.8 65.1,126.2 64.6,126.6 64.2,127.1 63.6,127.6 62.9,127.9 62.1,127.9 61.4,127.5 60.9,126.9 60.4,126.4 59.7,125.9 59.0,125.3 58.5,124.4 58.5,123.4 59.0,122.5 60.0,122.1 61.0,122.0 61.8,122.1 62.4,122.1 62.9,122.0 63.5,121.7 64.3,121.4 65.3,121.4 66.3,121.7 67.0,122.4 67.3,123.4" fill="#f7f7f7" stroke="#111" stroke-width="2.9" stroke-linejoin="round"/><polygon points="86.6,66.0 86.4,67.1 85.9,68.1 85.2,69.0 84.5,69.7 83.6,70.4 82.7,71.1 81.5,71.5 80.3,71.4 79.1,71.0 78.2,70.2 77.4,69.2 76.9,68.2 76.5,67.1 76.4,66.0 76.6,64.9 77.1,63.9 77.8,63.0 78.5,62.3 79.4,61.6 80.3,60.9 81.5,60.6 82.7,60.6 83.9,61.0 84.8,61.8 85.6,62.8 86.1,63.8 86.5,64.9" fill="#f7f7f7" stroke="#111" stroke-width="2.9" stroke-linejoin="round"/><polygon points="96.4,76.9 96.4,77.5 96.6,78.3 96.5,79.2 96.2,80.1 95.6,80.8 94.9,81.2 94.0,81.5 93.1,81.5 92.2,81.3 91.4,80.6 90.9,79.7 90.7,78.7 90.6,77.8 90.6,76.9 90.7,76.0 91.1,75.3 91.7,74.8 92.3,74.5 92.8,74.1 93.3,73.4 94.0,72.5 95.0,71.7 96.2,71.5 97.2,72.3 97.6,73.6 97.3,75.1 96.8,76.2" fill="#f7f7f7" stroke="#111" stroke-width="2.9" stroke-linejoin="round"/><polygon points="113.5,81.0 113.1,82.2 112.4,83.2 111.8,84.2 111.2,85.4 110.3,86.6 108.9,87.3 107.3,87.1 106.0,86.1 105.2,85.0 104.5,84.1 103.7,83.6 102.5,83.1 101.6,82.2 101.2,81.0 101.6,79.8 102.2,78.8 102.8,77.7 103.4,76.5 104.3,75.4 105.7,74.7 107.3,74.9 108.6,75.9 109.4,77.1 110.0,77.9 110.9,78.4 112.1,78.9 113.1,79.8" fill="#f7f7f7" stroke="#111" stroke-width="2.9" stroke-linejoin="round"/><polygon points="129.4,73.8 127.8,75.1 126.0,75.7 124.9,76.0 124.7,77.1 124.7,79.1 123.8,81.4 122.1,82.4 120.3,81.6 119.3,79.7 119.0,77.7 118.5,76.7 117.3,76.1 115.6,75.3 114.4,73.8 114.6,72.1 116.0,70.9 117.7,70.3 119.0,69.9 119.9,69.3 120.9,68.3 122.1,67.6 123.5,67.6 124.8,68.1 126.1,68.8 127.6,69.4 129.0,70.5 129.9,72.0" fill="#222" stroke="#111" stroke-width="2.9" stroke-linejoin="round"/><ellipse cx="123.0" cy="74.4" rx="2.8" ry="2.5" fill="#f4f4f4"/><polygon points="142.7,86.6 141.7,88.1 139.5,88.9 137.3,89.1 135.9,89.3 135.1,89.9 134.2,90.8 132.9,91.3 131.5,91.1 130.5,90.3 129.8,89.5 128.7,89.0 127.1,88.6 125.4,87.8 124.4,86.6 124.7,85.2 126.1,84.2 127.7,83.6 129.0,83.0 130.2,82.5 131.5,82.1 132.9,82.3 134.0,83.0 134.7,83.9 135.5,84.3 137.0,84.2 139.4,84.3 141.8,85.1" fill="#f7f7f7" stroke="#111" stroke-width="2.9" stroke-linejoin="round"/><polygon points="83.4,85.6 83.5,86.9 82.7,88.0 81.5,88.6 80.5,89.1 79.7,89.9 78.9,90.9 77.7,91.6 76.4,91.5 75.3,90.5 74.9,89.2 74.5,88.2 73.7,87.5 72.4,86.8 71.3,85.6 71.2,84.1 72.3,83.0 73.9,82.6 75.2,82.5 76.0,82.0 76.6,81.0 77.7,79.9 79.1,79.5 80.3,80.2 81.0,81.5 81.4,82.7 81.9,83.6 82.7,84.5" fill="#f7f7f7" stroke="#111" stroke-width="2.9" stroke-linejoin="round"/><polygon points="100.9,91.2 100.8,92.6 100.2,93.9 99.3,95.0 98.2,95.9 96.8,96.4 95.4,96.7 94.0,96.7 92.7,96.4 91.4,96.0 90.3,95.4 89.1,94.7 88.1,93.8 87.4,92.6 87.0,91.2 87.2,89.8 87.8,88.5 88.7,87.4 89.9,86.6 91.2,86.0 92.6,85.7 94.0,85.7 95.3,86.0 96.6,86.4 97.8,86.9 98.9,87.7 99.9,88.6 100.6,89.8" fill="#f7f7f7" stroke="#111" stroke-width="2.9" stroke-linejoin="round"/><polygon points="118.7,95.3 119.1,96.8 118.7,98.3 117.6,99.4 115.9,99.7 114.3,99.2 113.1,98.5 112.4,98.2 111.6,98.7 110.3,99.6 108.7,100.0 107.1,99.5 106.3,98.2 106.5,96.7 107.1,95.3 107.6,94.2 107.9,93.1 108.2,92.0 108.8,90.8 109.9,90.1 111.2,90.1 112.4,90.5 113.4,91.1 114.2,91.5 115.1,91.9 116.0,92.4 117.0,93.1 118.0,94.0" fill="#222" stroke="#111" stroke-width="2.9" stroke-linejoin="round"/><ellipse cx="113.2" cy="95.8" rx="2.4" ry="2.1" fill="#f4f4f4"/><polygon points="74.0,100.0 73.5,100.9 73.2,101.8 72.9,102.7 72.5,103.8 71.7,104.6 70.6,104.9 69.5,104.7 68.5,104.4 67.5,104.2 66.5,103.8 65.7,103.0 65.4,102.0 65.5,100.9 65.8,100.0 65.9,99.2 65.6,98.1 65.5,96.8 65.9,95.5 67.0,94.8 68.3,95.0 69.5,95.7 70.3,96.4 71.1,96.7 72.1,96.7 73.3,97.0 74.2,97.7 74.4,98.9" fill="#f7f7f7" stroke="#111" stroke-width="2.9" stroke-linejoin="round"/><polygon points="97.9,108.5 97.6,109.5 97.0,110.5 96.3,111.3 95.6,112.2 94.7,113.1 93.5,113.8 92.0,113.9 90.6,113.4 89.6,112.5 88.9,111.7 88.1,111.0 87.2,110.4 86.3,109.6 85.8,108.5 86.1,107.4 86.8,106.5 87.7,105.7 88.5,104.9 89.4,104.1 90.6,103.5 92.0,103.3 93.4,103.6 94.5,104.3 95.3,105.1 96.1,105.8 96.9,106.6 97.6,107.5" fill="#f7f7f7" stroke="#111" stroke-width="2.9" stroke-linejoin="round"/><polygon points="111.3,109.0 110.9,110.1 110.2,110.9 109.4,111.4 108.7,111.8 108.1,112.1 107.5,112.5 106.8,112.7 106.1,112.7 105.4,112.5 104.7,112.0 104.1,111.5 103.4,110.9 102.8,110.1 102.4,109.0 102.3,107.8 102.7,106.8 103.6,106.1 104.6,105.9 105.5,106.0 106.2,106.2 106.8,106.2 107.4,106.0 108.1,105.8 109.1,105.7 110.0,106.0 110.8,106.8 111.3,107.8" fill="#f7f7f7" stroke="#111" stroke-width="2.9" stroke-linejoin="round"/><polygon points="133.6,107.0 133.7,108.1 133.1,109.0 131.9,109.6 130.7,109.7 129.9,110.0 129.2,110.7 128.3,111.8 126.9,112.5 125.4,112.4 124.3,111.5 123.7,110.3 123.4,109.1 123.0,108.1 122.7,107.0 122.8,105.9 123.7,105.0 125.0,104.6 126.1,104.5 126.8,104.2 127.3,103.3 128.3,102.0 129.8,101.2 131.3,101.3 132.4,102.4 132.8,103.8 132.9,105.0 133.2,106.0" fill="#f7f7f7" stroke="#111" stroke-width="2.9" stroke-linejoin="round"/><polygon points="75.1,113.0 74.3,113.9 73.5,114.5 73.0,115.0 72.6,115.6 72.2,116.6 71.5,117.5 70.5,118.1 69.3,118.3 68.1,118.0 67.0,117.3 66.2,116.4 65.7,115.3 65.7,114.1 66.1,113.0 66.8,112.1 67.4,111.5 67.9,110.9 68.2,110.2 68.7,109.3 69.5,108.5 70.5,108.0 71.7,108.0 72.8,108.3 73.9,108.8 74.8,109.6 75.4,110.6 75.6,111.8" fill="#f7f7f7" stroke="#111" stroke-width="2.9" stroke-linejoin="round"/><polygon points="126.2,119.3 124.9,120.2 123.9,121.0 123.3,121.8 122.7,122.7 121.6,123.4 120.0,123.5 118.5,122.9 117.5,122.0 116.8,121.5 115.7,121.6 113.7,121.7 111.4,121.5 109.8,120.6 109.4,119.3 110.2,118.1 111.7,117.2 113.2,116.6 114.7,116.2 116.1,116.1 117.4,116.3 118.5,116.6 119.4,116.7 120.6,116.5 122.5,116.1 124.7,116.1 126.5,116.8 127.0,118.1" fill="#f7f7f7" stroke="#111" stroke-width="2.9" stroke-linejoin="round"/><polygon points="138.5,116.2 138.7,116.8 138.7,117.5 138.4,118.2 138.0,118.8 137.4,119.3 136.7,119.6 135.9,119.4 135.3,119.0 134.8,118.4 134.5,118.0 134.0,117.7 133.4,117.4 132.7,116.9 132.4,116.2 132.7,115.5 133.3,114.9 133.9,114.6 134.4,114.3 134.7,113.8 135.2,113.1 135.9,112.6 136.7,112.6 137.4,113.2 137.7,113.9 137.8,114.7 138.0,115.2 138.2,115.7" fill="#f7f7f7" stroke="#111" stroke-width="2.9" stroke-linejoin="round"/><polygon points="101.9,116.2 101.8,116.6 101.2,116.9 100.3,117.1 99.6,117.2 99.0,117.4 98.4,117.6 97.6,117.8 96.7,117.8 95.9,117.6 95.4,117.3 95.1,117.0 94.7,116.8 94.2,116.5 93.7,116.2 93.6,115.8 94.0,115.5 94.6,115.2 95.3,115.0 96.0,114.9 96.8,114.7 97.6,114.6 98.4,114.7 99.1,114.9 99.6,115.2 100.1,115.4 100.7,115.6 101.4,115.8" fill="#d8d8d8" stroke="#333" stroke-width="1.4" stroke-linejoin="round"/><polygon points="78.8,123.4 78.4,123.8 78.6,124.3 79.0,125.2 79.1,126.3 78.6,127.4 77.7,128.0 76.7,128.1 75.7,127.9 74.8,127.4 74.1,126.6 73.8,125.7 73.8,124.8 73.8,124.1 73.7,123.4 73.5,122.7 73.4,121.8 73.7,121.0 74.5,120.6 75.3,120.5 76.0,120.5 76.7,120.1 77.6,119.4 78.9,118.9 80.1,119.1 80.9,120.1 80.7,121.5 79.7,122.7" fill="#d8d8d8" stroke="#333" stroke-width="1.4" stroke-linejoin="round"/><polygon points="74.9,67.2 75.1,67.8 75.2,68.4 74.9,69.1 74.5,69.5 73.9,69.9 73.3,70.3 72.6,70.7 71.8,70.9 70.9,70.7 70.3,70.0 70.2,69.1 70.4,68.3 70.7,67.6 70.9,67.2 70.7,66.8 70.5,66.2 70.4,65.4 70.5,64.6 71.0,63.9 71.7,63.5 72.6,63.3 73.4,63.6 74.1,64.1 74.5,64.9 74.6,65.6 74.6,66.2 74.7,66.7" fill="#222" stroke="#111" stroke-width="2.9" stroke-linejoin="round"/><ellipse cx="73.0" cy="67.5" rx="1.3" ry="1.2" fill="#f4f4f4"/><polygon points="137.3,95.8 137.8,96.5 138.1,97.4 137.9,98.2 137.3,98.8 136.4,98.8 135.6,98.7 134.9,98.5 134.3,98.5 133.6,98.4 133.0,98.2 132.4,97.8 131.9,97.3 131.6,96.6 131.5,95.8 131.6,95.0 132.0,94.4 132.7,94.0 133.3,93.8 133.8,93.5 134.3,93.0 134.9,92.4 135.8,92.0 136.7,92.2 137.2,92.9 137.3,93.9 137.1,94.7 137.0,95.3" fill="#d8d8d8" stroke="#333" stroke-width="1.4" stroke-linejoin="round"/><polygon points="33.5,3.3 33.1,3.6 33.1,4.0 33.3,4.6 33.3,5.4 32.9,5.9 32.2,6.0 31.6,5.7 31.1,5.3 30.6,5.2 30.0,5.3 29.2,5.1 28.6,4.7 28.5,4.0 28.8,3.3 29.2,2.8 29.6,2.4 29.9,2.0 30.3,1.7 30.7,1.5 31.1,1.3 31.6,1.2 32.2,0.9 32.9,0.6 33.8,0.6 34.5,1.0 34.7,1.9 34.2,2.7" fill="#f7f7f7" stroke="#111" stroke-width="2.9" stroke-linejoin="round"/><polygon points="95.9,126.6 96.0,127.2 96.0,127.7 95.7,128.2 95.1,128.4 94.6,128.5 94.2,128.6 93.8,128.9 93.3,129.2 92.6,129.4 92.0,129.1 91.6,128.5 91.5,127.8 91.6,127.2 91.6,126.6 91.7,126.0 91.9,125.5 92.2,125.2 92.7,125.0 93.1,124.9 93.4,124.5 93.8,124.0 94.4,123.6 95.1,123.6 95.7,124.0 95.9,124.8 95.9,125.5 95.8,126.1" fill="#d8d8d8" stroke="#333" stroke-width="1.4" stroke-linejoin="round"/><polygon points="87.7,128.1 87.2,128.4 86.8,128.6 86.7,128.8 86.8,129.3 86.7,130.0 86.4,130.6 85.9,130.7 85.4,130.4 85.1,129.9 85.0,129.4 84.7,129.1 84.5,128.9 84.3,128.5 84.3,128.1 84.5,127.7 84.6,127.4 84.7,127.0 84.8,126.5 85.0,126.1 85.4,125.8 85.9,126.0 86.3,126.3 86.5,126.6 86.8,126.8 87.3,126.8 87.7,127.1 87.9,127.6" fill="#f7f7f7" stroke="#111" stroke-width="2.9" stroke-linejoin="round"/><polygon points="105.0,67.5 105.0,67.9 105.0,68.4 105.0,68.9 104.8,69.5 104.3,70.0 103.6,70.2 102.8,70.1 102.2,69.6 101.9,69.1 101.6,68.8 101.2,68.6 100.7,68.3 100.2,68.0 99.9,67.5 99.9,67.0 100.2,66.5 100.7,66.1 101.2,65.9 101.7,65.6 102.2,65.4 102.8,65.2 103.5,65.2 104.1,65.4 104.6,65.7 104.9,66.2 105.1,66.6 105.1,67.1" fill="#f7f7f7" stroke="#111" stroke-width="2.9" stroke-linejoin="round"/><polygon points="4.8,93.2 4.7,93.6 4.4,94.0 4.2,94.3 4.0,94.6 3.8,95.0 3.4,95.3 2.9,95.2 2.5,94.9 2.3,94.6 2.0,94.3 1.7,94.1 1.4,94.0 1.1,93.6 1.1,93.2 1.3,92.8 1.5,92.5 1.6,92.2 1.7,91.8 2.0,91.3 2.4,91.0 2.9,91.1 3.3,91.5 3.5,92.0 3.7,92.3 3.9,92.4 4.3,92.5 4.7,92.8" fill="#f7f7f7" stroke="#111" stroke-width="2.9" stroke-linejoin="round"/><polygon points="107.2,127.8 107.4,128.8 107.0,129.6 106.1,130.1 105.2,130.3 104.5,130.5 103.8,130.8 103.1,131.2 102.2,131.3 101.5,131.0 100.9,130.4 100.5,129.7 100.1,129.2 99.6,128.6 99.1,127.8 98.9,127.0 99.3,126.2 100.1,125.6 101.0,125.4 101.7,125.1 102.3,124.7 103.1,124.4 104.0,124.4 104.7,124.7 105.2,125.4 105.5,126.0 106.0,126.6 106.6,127.1" fill="#d8d8d8" stroke="#333" stroke-width="1.4" stroke-linejoin="round"/><polygon points="141.3,32.3 141.1,33.2 140.8,34.1 140.5,34.9 140.2,35.8 139.6,36.5 138.8,36.7 137.9,36.4 137.3,35.7 136.9,34.9 136.6,34.3 136.3,33.9 135.9,33.5 135.5,33.0 135.0,32.3 134.7,31.4 134.6,30.3 134.8,29.2 135.3,28.2 136.2,27.8 137.2,28.1 137.9,28.9 138.4,29.8 138.7,30.3 139.2,30.4 139.8,30.4 140.6,30.7 141.1,31.4" fill="#d8d8d8" stroke="#333" stroke-width="1.4" stroke-linejoin="round"/><polygon points="131.3,32.6 131.2,33.3 130.9,33.8 130.5,34.1 130.1,34.2 129.7,34.3 129.5,34.6 129.1,34.8 128.8,34.9 128.4,34.7 128.2,34.3 128.0,33.9 127.7,33.6 127.3,33.2 127.0,32.6 126.8,31.9 127.0,31.3 127.5,30.9 128.1,30.9 128.6,31.1 128.9,31.1 129.1,31.0 129.5,30.8 129.8,30.7 130.2,30.8 130.6,31.1 130.9,31.5 131.2,32.0" fill="#f7f7f7" stroke="#111" stroke-width="2.9" stroke-linejoin="round"/><polygon points="138.9,71.5 139.5,72.4 139.5,73.4 138.9,74.0 137.9,74.1 137.1,73.9 136.5,73.7 136.1,73.8 135.5,74.0 134.9,74.1 134.4,73.9 133.9,73.4 133.5,72.9 133.1,72.2 133.0,71.5 133.1,70.8 133.6,70.2 134.2,69.9 134.7,69.6 135.1,69.2 135.4,68.5 136.1,67.8 136.8,67.7 137.4,68.3 137.6,69.4 137.5,70.2 137.5,70.7 138.0,71.0" fill="#f7f7f7" stroke="#111" stroke-width="2.9" stroke-linejoin="round"/><polygon points="139.5,41.3 139.7,41.7 139.9,42.3 139.7,42.9 139.3,43.2 138.7,43.4 138.2,43.4 137.7,43.5 137.2,43.4 136.7,43.3 136.3,42.9 136.1,42.5 135.8,42.2 135.4,41.8 135.1,41.3 134.9,40.7 135.2,40.1 135.8,39.8 136.5,39.9 137.0,39.9 137.3,39.7 137.7,39.3 138.3,38.8 139.0,38.6 139.5,39.0 139.7,39.7 139.5,40.4 139.4,40.9" fill="#f7f7f7" stroke="#111" stroke-width="2.9" stroke-linejoin="round"/><polygon points="95.5,63.3 95.6,63.6 95.7,64.0 95.6,64.4 95.3,64.7 94.8,64.7 94.4,64.6 94.1,64.5 93.8,64.5 93.4,64.6 93.0,64.6 92.7,64.3 92.6,64.0 92.7,63.6 92.7,63.3 92.5,62.9 92.4,62.5 92.5,62.0 92.9,61.8 93.4,61.9 93.8,62.1 94.1,62.2 94.4,62.1 94.8,61.9 95.3,61.8 95.6,62.1 95.7,62.5 95.6,62.9" fill="#f7f7f7" stroke="#111" stroke-width="2.9" stroke-linejoin="round"/><polygon points="131.1,127.4 131.4,127.8 131.8,128.4 131.9,129.1 131.6,129.7 131.0,130.0 130.2,129.8 129.7,129.3 129.3,129.0 128.9,128.8 128.5,128.7 128.1,128.6 127.8,128.2 127.8,127.8 127.9,127.4 128.0,127.0 127.9,126.6 127.8,126.0 128.0,125.4 128.4,124.9 129.0,124.8 129.7,125.0 130.2,125.3 130.5,125.7 130.8,126.1 131.0,126.4 131.0,126.8 131.0,127.1" fill="#f7f7f7" stroke="#111" stroke-width="2.9" stroke-linejoin="round"/><polygon points="139.1,127.5 139.3,127.9 139.2,128.4 139.0,128.7 138.5,128.8 138.1,128.8 137.8,128.8 137.5,128.9 137.1,129.1 136.6,129.3 136.2,129.2 135.9,128.8 136.0,128.3 136.1,127.8 136.2,127.5 136.1,127.2 136.0,126.8 136.1,126.4 136.3,126.1 136.7,125.9 137.1,125.9 137.5,125.9 137.9,125.9 138.2,126.0 138.6,126.2 138.8,126.5 138.9,126.9 139.0,127.2" fill="#f7f7f7" stroke="#111" stroke-width="2.9" stroke-linejoin="round"/><polygon points="64.3,75.8 64.2,76.5 63.8,77.0 63.2,77.3 62.7,77.5 62.4,77.8 62.0,78.3 61.5,78.9 60.8,79.1 60.1,78.9 59.7,78.2 59.6,77.4 59.7,76.7 59.7,76.2 59.6,75.8 59.3,75.2 59.1,74.5 59.2,73.8 59.6,73.2 60.2,72.9 60.9,72.8 61.5,73.0 62.0,73.3 62.4,73.7 62.8,74.0 63.2,74.3 63.7,74.6 64.1,75.1" fill="#d8d8d8" stroke="#333" stroke-width="1.4" stroke-linejoin="round"/><polygon points="19.0,54.6 18.8,55.3 18.7,56.0 18.5,56.7 18.0,57.2 17.5,57.5 16.9,57.4 16.4,57.1 16.0,56.8 15.6,56.5 15.3,56.3 14.9,56.1 14.4,55.8 13.9,55.3 13.4,54.6 13.2,53.7 13.3,52.8 13.9,52.2 14.7,52.1 15.5,52.4 16.1,52.9 16.4,53.1 16.7,52.9 17.2,52.5 17.9,52.3 18.5,52.5 18.9,53.1 19.0,53.9" fill="#d8d8d8" stroke="#333" stroke-width="1.4" stroke-linejoin="round"/><polygon points="3.7,1.9 3.9,2.4 4.0,2.9 3.8,3.3 3.3,3.6 2.8,3.7 2.3,3.8 1.8,4.0 1.2,4.2 0.5,4.2 -0.0,3.9 -0.3,3.4 -0.3,2.8 -0.3,2.4 -0.5,1.9 -0.6,1.5 -0.5,1.0 -0.1,0.6 0.5,0.5 1.0,0.5 1.4,0.4 1.8,-0.1 2.5,-0.5 3.2,-0.7 3.9,-0.3 4.0,0.4 3.9,1.1 3.6,1.6" fill="#d8d8d8" stroke="#333" stroke-width="1.4" stroke-linejoin="round"/><polygon points="84.8,99.4 85.1,99.6 85.4,99.9 85.5,100.3 85.2,100.7 84.7,100.8 84.2,100.8 83.7,100.6 83.3,100.3 83.1,100.1 82.9,100.0 82.6,100.0 82.2,99.8 81.9,99.6 81.8,99.4 81.9,99.1 82.1,98.9 82.4,98.7 82.6,98.5 82.9,98.3 83.2,98.1 83.7,98.0 84.2,98.0 84.6,98.1 84.8,98.5 84.8,98.8 84.7,99.1 84.7,99.2" fill="#f7f7f7" stroke="#111" stroke-width="2.9" stroke-linejoin="round"/><polygon points="132.3,44.9 132.0,45.4 131.5,45.8 130.9,46.0 130.5,46.1 130.1,46.2 129.8,46.3 129.4,46.4 128.9,46.6 128.4,46.6 127.8,46.5 127.2,46.4 126.7,46.0 126.5,45.5 126.6,44.9 127.0,44.4 127.4,44.1 127.9,43.9 128.3,43.7 128.6,43.5 128.9,43.3 129.4,43.2 129.8,43.2 130.3,43.3 130.8,43.4 131.3,43.6 131.9,43.9 132.2,44.4" fill="#f7f7f7" stroke="#111" stroke-width="2.9" stroke-linejoin="round"/><polygon points="63.6,108.9 63.5,109.9 62.9,110.7 62.2,111.3 61.4,111.7 60.6,111.9 59.8,111.9 59.1,111.8 58.4,111.6 57.8,111.5 56.9,111.5 56.0,111.2 55.3,110.7 55.1,109.8 55.4,108.9 56.0,108.3 56.3,107.7 56.4,106.9 56.6,105.9 57.1,105.0 58.1,104.7 59.1,105.1 59.8,106.0 60.1,106.9 60.4,107.3 61.1,107.4 62.1,107.6 63.0,108.1" fill="#d8d8d8" stroke="#333" stroke-width="1.4" stroke-linejoin="round"/><polygon points="83.4,112.4 82.8,112.7 82.4,112.9 82.2,113.1 82.3,113.5 82.3,114.2 81.9,114.8 81.2,115.0 80.6,114.7 80.2,114.2 79.9,113.8 79.5,113.6 78.9,113.4 78.3,113.0 78.3,112.4 78.8,112.0 79.5,111.8 80.2,111.7 80.4,111.6 80.5,111.3 80.7,110.7 81.2,110.3 81.9,110.1 82.5,110.2 83.1,110.5 83.5,110.9 83.8,111.4 83.8,111.9" fill="#d8d8d8" stroke="#333" stroke-width="1.4" stroke-linejoin="round"/><polygon points="70.9,59.1 70.8,59.6 70.6,60.0 70.3,60.3 70.0,60.7 69.7,61.0 69.3,61.4 68.8,61.6 68.3,61.4 68.0,61.0 67.8,60.5 67.6,60.2 67.3,59.9 66.8,59.6 66.4,59.1 66.4,58.6 66.7,58.1 67.3,57.9 67.8,57.8 68.1,57.7 68.4,57.3 68.8,57.0 69.3,56.8 69.8,57.0 70.1,57.4 70.3,57.9 70.5,58.3 70.7,58.7" fill="#f7f7f7" stroke="#111" stroke-width="2.9" stroke-linejoin="round"/><polygon points="73.2,76.5 73.0,77.0 72.7,77.3 72.4,77.5 72.1,77.6 71.8,77.7 71.6,77.8 71.4,78.0 71.0,78.1 70.6,78.2 70.2,78.1 69.8,77.9 69.6,77.5 69.5,77.0 69.6,76.5 69.8,76.1 70.1,75.8 70.3,75.6 70.6,75.4 70.8,75.3 71.1,75.1 71.4,75.0 71.7,74.9 72.0,74.9 72.4,75.0 72.8,75.2 73.1,75.6 73.3,76.0" fill="#f7f7f7" stroke="#111" stroke-width="2.9" stroke-linejoin="round"/><polygon points="88.2,119.1 87.5,119.4 87.1,119.6 87.2,120.0 87.3,120.7 87.2,121.6 86.8,122.2 86.1,122.3 85.5,121.8 85.2,121.2 84.9,120.7 84.6,120.4 84.2,120.1 83.9,119.6 83.9,119.1 84.1,118.6 84.3,118.2 84.5,117.8 84.8,117.3 85.1,116.9 85.6,116.8 86.1,116.8 86.6,116.9 87.0,117.0 87.6,117.1 88.3,117.3 88.7,117.8 88.7,118.5" fill="#f7f7f7" stroke="#111" stroke-width="2.9" stroke-linejoin="round"/><polygon points="41.9,126.2 41.8,126.5 41.6,126.8 41.3,127.0 41.0,127.0 40.8,127.2 40.6,127.4 40.3,127.7 39.8,128.0 39.4,128.0 38.9,127.8 38.7,127.4 38.6,127.0 38.5,126.6 38.6,126.2 38.7,125.8 39.0,125.6 39.3,125.5 39.6,125.4 39.8,125.2 40.0,124.9 40.3,124.5 40.7,124.3 41.2,124.3 41.6,124.5 41.8,125.0 41.9,125.4 41.9,125.8" fill="#f7f7f7" stroke="#111" stroke-width="2.9" stroke-linejoin="round"/><polygon points="104.2,56.5 103.7,57.0 103.1,57.2 102.8,57.3 102.7,57.7 102.7,58.5 102.4,59.4 101.7,59.9 101.0,59.6 100.5,58.8 100.5,58.0 100.5,57.4 100.3,57.2 99.7,57.0 99.2,56.5 99.1,56.0 99.4,55.5 100.0,55.2 100.5,55.0 100.8,54.8 101.2,54.4 101.7,54.1 102.3,54.1 102.8,54.4 103.2,54.7 103.6,55.1 104.0,55.5 104.3,56.0" fill="#d8d8d8" stroke="#333" stroke-width="1.4" stroke-linejoin="round"/></g></svg><svg x="295.1" y="324.85" width="139.6" height="128.75" viewBox="0 0 139.6 128.75"><defs><filter id="bl3" x="-5%" y="-5%" width="110%" height="110%"><feGaussianBlur stdDeviation="0.6"/></filter></defs><rect width="139.6" height="128.75" fill="#acacac"/><g filter="url(#bl3)"><ellipse cx="40" cy="44" rx="12" ry="10" fill="#c6c6c6" opacity="0.9"/><ellipse cx="113" cy="90" rx="9" ry="9" fill="#989898" opacity="0.6"/><ellipse cx="112" cy="100" rx="8" ry="8" fill="#909090" opacity="0.6"/><ellipse cx="95" cy="90" rx="12" ry="4" fill="#a0a0a0" opacity="0.7"/><circle cx="33.2" cy="70.1" r="1.2" fill="#cccccc" opacity="0.5"/><circle cx="66.2" cy="74.8" r="1.2" fill="#ffffff" opacity="0.5"/><circle cx="65.5" cy="70.9" r="1.3" fill="#eeeeee" opacity="0.5"/><circle cx="65.6" cy="107.7" r="0.8" fill="#808080" opacity="0.5"/><circle cx="120.2" cy="29.9" r="1.2" fill="#eeeeee" opacity="0.5"/><circle cx="73.0" cy="95.4" r="0.5" fill="#ffffff" opacity="0.5"/><circle cx="133.7" cy="5.5" r="1.1" fill="#ffffff" opacity="0.5"/><circle cx="37.6" cy="76.6" r="1.0" fill="#808080" opacity="0.5"/><circle cx="128.6" cy="50.9" r="1.3" fill="#808080" opacity="0.5"/><circle cx="18.7" cy="47.1" r="0.5" fill="#ffffff" opacity="0.5"/><circle cx="30.3" cy="124.3" r="1.1" fill="#808080" opacity="0.5"/><circle cx="119.4" cy="54.2" r="0.9" fill="#808080" opacity="0.5"/><circle cx="74.6" cy="52.5" r="1.2" fill="#eeeeee" opacity="0.5"/><circle cx="95.2" cy="119.6" r="1.3" fill="#cccccc" opacity="0.5"/><circle cx="93.7" cy="21.0" r="1.3" fill="#cccccc" opacity="0.5"/><circle cx="126.3" cy="73.3" r="1.0" fill="#eeeeee" opacity="0.5"/><circle cx="137.9" cy="34.4" r="0.5" fill="#ffffff" opacity="0.5"/><circle cx="119.2" cy="127.4" r="0.7" fill="#ffffff" opacity="0.5"/><circle cx="9.3" cy="115.5" r="0.7" fill="#ffffff" opacity="0.5"/><circle cx="107.3" cy="112.4" r="0.9" fill="#ffffff" opacity="0.5"/><circle cx="106.3" cy="48.6" r="0.9" fill="#cccccc" opacity="0.5"/><circle cx="128.7" cy="35.9" r="1.3" fill="#eeeeee" opacity="0.5"/><circle cx="43.2" cy="9.9" r="1.3" fill="#ffffff" opacity="0.5"/><circle cx="135.6" cy="37.5" r="0.5" fill="#cccccc" opacity="0.5"/><circle cx="5.9" cy="111.7" r="0.7" fill="#cccccc" opacity="0.5"/><circle cx="19.3" cy="110.9" r="0.8" fill="#808080" opacity="0.5"/><circle cx="72.6" cy="82.9" r="1.0" fill="#ffffff" opacity="0.5"/><circle cx="131.3" cy="65.3" r="1.0" fill="#808080" opacity="0.5"/><circle cx="99.9" cy="120.6" r="1.3" fill="#808080" opacity="0.5"/><circle cx="72.7" cy="70.6" r="1.1" fill="#ffffff" opacity="0.5"/><circle cx="137.8" cy="40.5" r="1.0" fill="#808080" opacity="0.5"/><circle cx="88.3" cy="7.7" r="0.8" fill="#cccccc" opacity="0.5"/><circle cx="94.8" cy="45.4" r="1.1" fill="#cccccc" opacity="0.5"/><circle cx="3.1" cy="7.8" r="1.3" fill="#ffffff" opacity="0.5"/><circle cx="35.1" cy="58.8" r="0.6" fill="#cccccc" opacity="0.5"/><circle cx="25.9" cy="97.6" r="0.7" fill="#cccccc" opacity="0.5"/><circle cx="52.7" cy="99.4" r="1.3" fill="#ffffff" opacity="0.5"/><circle cx="95.4" cy="16.9" r="1.0" fill="#eeeeee" opacity="0.5"/><circle cx="37.6" cy="42.2" r="1.0" fill="#808080" opacity="0.5"/><circle cx="13.5" cy="77.3" r="1.0" fill="#cccccc" opacity="0.5"/><circle cx="31.3" cy="104.3" r="0.5" fill="#eeeeee" opacity="0.5"/><circle cx="103.6" cy="28.1" r="0.6" fill="#808080" opacity="0.5"/><circle cx="109.9" cy="4.4" r="0.7" fill="#eeeeee" opacity="0.5"/><circle cx="116.7" cy="74.0" r="0.7" fill="#cccccc" opacity="0.5"/><circle cx="115.6" cy="11.0" r="0.9" fill="#cccccc" opacity="0.5"/><circle cx="58.8" cy="66.7" r="0.8" fill="#cccccc" opacity="0.5"/><circle cx="88.5" cy="37.4" r="0.4" fill="#808080" opacity="0.5"/><circle cx="57.7" cy="25.7" r="1.2" fill="#808080" opacity="0.5"/><circle cx="122.8" cy="127.1" r="0.9" fill="#808080" opacity="0.5"/><circle cx="137.6" cy="92.3" r="1.1" fill="#ffffff" opacity="0.5"/><circle cx="116.8" cy="85.4" r="0.9" fill="#cccccc" opacity="0.5"/><circle cx="124.2" cy="110.9" r="0.5" fill="#cccccc" opacity="0.5"/><circle cx="34.1" cy="4.5" r="1.2" fill="#eeeeee" opacity="0.5"/><circle cx="125.6" cy="74.3" r="0.8" fill="#ffffff" opacity="0.5"/><circle cx="16.9" cy="64.8" r="1.0" fill="#eeeeee" opacity="0.5"/><circle cx="73.3" cy="53.3" r="0.7" fill="#ffffff" opacity="0.5"/><circle cx="35.2" cy="110.9" r="1.1" fill="#808080" opacity="0.5"/><circle cx="8.6" cy="28.4" r="0.9" fill="#ffffff" opacity="0.5"/><circle cx="114.0" cy="22.1" r="1.2" fill="#cccccc" opacity="0.5"/><circle cx="112.5" cy="106.0" r="0.8" fill="#ffffff" opacity="0.5"/><circle cx="79.7" cy="51.5" r="0.6" fill="#cccccc" opacity="0.5"/><circle cx="86.3" cy="66.9" r="0.8" fill="#ffffff" opacity="0.5"/><circle cx="108.4" cy="0.2" r="1.1" fill="#ffffff" opacity="0.5"/><circle cx="6.4" cy="6.4" r="1.3" fill="#808080" opacity="0.5"/><circle cx="119.3" cy="11.1" r="0.7" fill="#808080" opacity="0.5"/><circle cx="43.9" cy="45.2" r="0.9" fill="#808080" opacity="0.5"/><circle cx="50.4" cy="24.6" r="0.8" fill="#cccccc" opacity="0.5"/><circle cx="17.8" cy="0.4" r="1.1" fill="#808080" opacity="0.5"/><circle cx="79.1" cy="5.5" r="0.9" fill="#808080" opacity="0.5"/><circle cx="109.3" cy="49.0" r="1.0" fill="#ffffff" opacity="0.5"/><circle cx="60.3" cy="47.9" r="1.1" fill="#808080" opacity="0.5"/><circle cx="44.0" cy="122.3" r="0.8" fill="#808080" opacity="0.5"/><circle cx="34.2" cy="69.0" r="1.1" fill="#ffffff" opacity="0.5"/><circle cx="31.3" cy="16.8" r="1.2" fill="#ffffff" opacity="0.5"/><circle cx="52.2" cy="115.6" r="0.5" fill="#cccccc" opacity="0.5"/><circle cx="96.4" cy="120.9" r="1.0" fill="#808080" opacity="0.5"/><circle cx="102.4" cy="72.6" r="1.1" fill="#ffffff" opacity="0.5"/><circle cx="100.0" cy="61.0" r="1.1" fill="#eeeeee" opacity="0.5"/><circle cx="6.2" cy="11.8" r="1.0" fill="#ffffff" opacity="0.5"/><circle cx="52.5" cy="105.5" r="1.2" fill="#cccccc" opacity="0.5"/><circle cx="16.9" cy="108.7" r="1.2" fill="#808080" opacity="0.5"/><circle cx="133.0" cy="74.6" r="0.4" fill="#ffffff" opacity="0.5"/><circle cx="107.1" cy="65.8" r="0.5" fill="#eeeeee" opacity="0.5"/><circle cx="104.6" cy="120.3" r="0.9" fill="#ffffff" opacity="0.5"/><circle cx="121.4" cy="23.2" r="0.6" fill="#ffffff" opacity="0.5"/><circle cx="25.1" cy="32.2" r="0.6" fill="#808080" opacity="0.5"/><circle cx="83.7" cy="120.9" r="1.3" fill="#808080" opacity="0.5"/><circle cx="52.4" cy="30.3" r="1.2" fill="#808080" opacity="0.5"/><circle cx="135.0" cy="53.5" r="0.5" fill="#808080" opacity="0.5"/><circle cx="56.0" cy="114.3" r="0.5" fill="#eeeeee" opacity="0.5"/><circle cx="104.4" cy="118.0" r="0.9" fill="#808080" opacity="0.5"/><circle cx="119.8" cy="17.5" r="0.5" fill="#eeeeee" opacity="0.5"/><circle cx="72.0" cy="120.4" r="1.0" fill="#cccccc" opacity="0.5"/><circle cx="119.4" cy="76.6" r="1.2" fill="#cccccc" opacity="0.5"/><circle cx="42.9" cy="34.5" r="0.6" fill="#808080" opacity="0.5"/><circle cx="79.6" cy="30.7" r="1.1" fill="#808080" opacity="0.5"/><circle cx="20.0" cy="127.6" r="1.0" fill="#808080" opacity="0.5"/><circle cx="28.7" cy="74.7" r="0.8" fill="#ffffff" opacity="0.5"/><circle cx="100.6" cy="110.3" r="1.1" fill="#808080" opacity="0.5"/><circle cx="123.1" cy="5.9" r="1.2" fill="#eeeeee" opacity="0.5"/><circle cx="90.5" cy="100.1" r="1.3" fill="#ffffff" opacity="0.5"/><circle cx="119.2" cy="31.2" r="1.1" fill="#eeeeee" opacity="0.5"/><circle cx="19.2" cy="80.1" r="1.2" fill="#ffffff" opacity="0.5"/><circle cx="35.6" cy="111.4" r="0.6" fill="#cccccc" opacity="0.5"/><circle cx="12.7" cy="102.9" r="0.5" fill="#ffffff" opacity="0.5"/><circle cx="116.4" cy="37.6" r="0.8" fill="#cccccc" opacity="0.5"/><circle cx="102.5" cy="43.3" r="0.7" fill="#ffffff" opacity="0.5"/><circle cx="60.9" cy="62.6" r="1.0" fill="#eeeeee" opacity="0.5"/><circle cx="103.6" cy="63.1" r="0.9" fill="#eeeeee" opacity="0.5"/><circle cx="16.6" cy="35.4" r="0.5" fill="#808080" opacity="0.5"/><circle cx="123.9" cy="117.0" r="0.9" fill="#ffffff" opacity="0.5"/><circle cx="97.8" cy="87.3" r="1.1" fill="#cccccc" opacity="0.5"/><circle cx="41.3" cy="87.0" r="0.5" fill="#cccccc" opacity="0.5"/><circle cx="131.8" cy="43.6" r="1.0" fill="#ffffff" opacity="0.5"/><circle cx="71.0" cy="7.7" r="1.0" fill="#cccccc" opacity="0.5"/><circle cx="79.1" cy="23.4" r="0.6" fill="#eeeeee" opacity="0.5"/><circle cx="124.2" cy="84.4" r="0.5" fill="#ffffff" opacity="0.5"/><circle cx="78.1" cy="118.6" r="0.9" fill="#808080" opacity="0.5"/><circle cx="90.4" cy="58.9" r="1.1" fill="#cccccc" opacity="0.5"/><circle cx="98.5" cy="13.8" r="1.1" fill="#eeeeee" opacity="0.5"/><circle cx="75.8" cy="95.2" r="0.5" fill="#cccccc" opacity="0.5"/><circle cx="37.8" cy="6.9" r="0.4" fill="#eeeeee" opacity="0.5"/><circle cx="70.5" cy="31.8" r="1.2" fill="#cccccc" opacity="0.5"/><circle cx="131.9" cy="57.7" r="0.7" fill="#ffffff" opacity="0.5"/><circle cx="118.2" cy="14.4" r="0.9" fill="#cccccc" opacity="0.5"/><circle cx="95.1" cy="72.7" r="0.6" fill="#ffffff" opacity="0.5"/><circle cx="26.4" cy="53.6" r="1.1" fill="#808080" opacity="0.5"/><circle cx="104.5" cy="76.2" r="1.2" fill="#eeeeee" opacity="0.5"/><circle cx="111.4" cy="70.1" r="0.9" fill="#eeeeee" opacity="0.5"/><circle cx="28.2" cy="32.2" r="0.4" fill="#cccccc" opacity="0.5"/><circle cx="112.1" cy="114.7" r="0.7" fill="#808080" opacity="0.5"/><circle cx="126.5" cy="39.9" r="1.3" fill="#808080" opacity="0.5"/><circle cx="95.9" cy="38.5" r="0.4" fill="#808080" opacity="0.5"/><circle cx="26.6" cy="81.6" r="1.1" fill="#ffffff" opacity="0.5"/><circle cx="92.4" cy="63.3" r="0.6" fill="#808080" opacity="0.5"/><circle cx="109.2" cy="27.3" r="0.5" fill="#808080" opacity="0.5"/><circle cx="39.5" cy="84.7" r="0.5" fill="#eeeeee" opacity="0.5"/><circle cx="110.6" cy="80.2" r="0.4" fill="#ffffff" opacity="0.5"/><circle cx="86.3" cy="65.1" r="0.9" fill="#808080" opacity="0.5"/><circle cx="129.8" cy="41.6" r="1.0" fill="#cccccc" opacity="0.5"/><circle cx="18.8" cy="110.5" r="1.0" fill="#ffffff" opacity="0.5"/><circle cx="103.3" cy="44.2" r="1.2" fill="#eeeeee" opacity="0.5"/><circle cx="120.3" cy="56.3" r="0.8" fill="#eeeeee" opacity="0.5"/><circle cx="15.2" cy="5.5" r="1.2" fill="#ffffff" opacity="0.5"/><circle cx="98.5" cy="50.4" r="1.0" fill="#808080" opacity="0.5"/><circle cx="75.0" cy="54.3" r="0.7" fill="#808080" opacity="0.5"/><circle cx="64.8" cy="97.5" r="0.8" fill="#808080" opacity="0.5"/><circle cx="63.6" cy="4.8" r="0.7" fill="#cccccc" opacity="0.5"/><circle cx="51.8" cy="68.2" r="0.6" fill="#808080" opacity="0.5"/><circle cx="0.4" cy="26.9" r="0.5" fill="#cccccc" opacity="0.5"/><circle cx="64.2" cy="25.1" r="0.4" fill="#eeeeee" opacity="0.5"/><circle cx="81.6" cy="64.8" r="0.5" fill="#ffffff" opacity="0.5"/><circle cx="85.0" cy="57.0" r="0.5" fill="#eeeeee" opacity="0.5"/><circle cx="3.1" cy="57.7" r="0.4" fill="#808080" opacity="0.5"/><circle cx="99.7" cy="30.8" r="0.8" fill="#ffffff" opacity="0.5"/><circle cx="3.7" cy="124.3" r="0.6" fill="#eeeeee" opacity="0.5"/><circle cx="54.3" cy="24.5" r="1.0" fill="#cccccc" opacity="0.5"/><circle cx="48.4" cy="16.0" r="1.1" fill="#ffffff" opacity="0.5"/><circle cx="40.6" cy="126.3" r="1.1" fill="#808080" opacity="0.5"/><circle cx="134.2" cy="62.9" r="0.4" fill="#cccccc" opacity="0.5"/><circle cx="47.0" cy="127.8" r="0.5" fill="#cccccc" opacity="0.5"/><circle cx="95.3" cy="124.8" r="0.5" fill="#ffffff" opacity="0.5"/><circle cx="95.0" cy="2.5" r="0.8" fill="#ffffff" opacity="0.5"/><circle cx="26.4" cy="65.6" r="0.6" fill="#cccccc" opacity="0.5"/><circle cx="135.9" cy="61.4" r="1.2" fill="#808080" opacity="0.5"/><circle cx="131.2" cy="4.4" r="1.1" fill="#cccccc" opacity="0.5"/><circle cx="88.2" cy="50.8" r="0.6" fill="#cccccc" opacity="0.5"/><circle cx="57.7" cy="65.3" r="0.9" fill="#cccccc" opacity="0.5"/><circle cx="108.7" cy="51.9" r="1.2" fill="#808080" opacity="0.5"/><circle cx="77.2" cy="118.9" r="1.1" fill="#cccccc" opacity="0.5"/><circle cx="61.2" cy="57.2" r="0.7" fill="#808080" opacity="0.5"/><circle cx="114.6" cy="65.3" r="1.3" fill="#808080" opacity="0.5"/><circle cx="6.0" cy="22.1" r="1.1" fill="#ffffff" opacity="0.5"/><circle cx="12.8" cy="89.1" r="0.7" fill="#ffffff" opacity="0.5"/><circle cx="83.9" cy="103.2" r="1.2" fill="#ffffff" opacity="0.5"/><circle cx="121.8" cy="57.9" r="1.3" fill="#cccccc" opacity="0.5"/><circle cx="0.2" cy="25.1" r="0.7" fill="#ffffff" opacity="0.5"/><circle cx="43.5" cy="58.0" r="0.6" fill="#eeeeee" opacity="0.5"/><circle cx="6.8" cy="19.7" r="0.9" fill="#eeeeee" opacity="0.5"/><circle cx="1.6" cy="29.6" r="0.6" fill="#eeeeee" opacity="0.5"/><circle cx="78.5" cy="54.0" r="1.1" fill="#cccccc" opacity="0.5"/><circle cx="74.7" cy="24.2" r="1.0" fill="#eeeeee" opacity="0.5"/><circle cx="5.8" cy="103.8" r="1.2" fill="#ffffff" opacity="0.5"/><circle cx="14.2" cy="121.4" r="0.5" fill="#cccccc" opacity="0.5"/><circle cx="64.9" cy="28.7" r="1.0" fill="#ffffff" opacity="0.5"/><circle cx="106.3" cy="112.2" r="0.8" fill="#cccccc" opacity="0.5"/><circle cx="92.3" cy="100.1" r="1.2" fill="#cccccc" opacity="0.5"/><circle cx="83.0" cy="104.9" r="0.5" fill="#eeeeee" opacity="0.5"/><circle cx="1.1" cy="38.5" r="0.7" fill="#ffffff" opacity="0.5"/><circle cx="26.8" cy="97.0" r="0.8" fill="#cccccc" opacity="0.5"/><circle cx="90.5" cy="78.0" r="0.6" fill="#eeeeee" opacity="0.5"/><circle cx="117.0" cy="8.0" r="0.8" fill="#eeeeee" opacity="0.5"/><circle cx="11.8" cy="28.1" r="1.1" fill="#eeeeee" opacity="0.5"/><circle cx="28.9" cy="28.2" r="1.2" fill="#808080" opacity="0.5"/><circle cx="74.8" cy="53.9" r="1.2" fill="#eeeeee" opacity="0.5"/><circle cx="132.6" cy="62.3" r="0.8" fill="#808080" opacity="0.5"/><circle cx="82.0" cy="4.5" r="0.6" fill="#ffffff" opacity="0.5"/><circle cx="13.4" cy="93.0" r="0.9" fill="#cccccc" opacity="0.5"/><circle cx="8.6" cy="60.8" r="1.1" fill="#eeeeee" opacity="0.5"/><circle cx="38.5" cy="55.7" r="0.8" fill="#cccccc" opacity="0.5"/><circle cx="27.5" cy="100.7" r="0.5" fill="#eeeeee" opacity="0.5"/><circle cx="41.8" cy="52.9" r="0.6" fill="#ffffff" opacity="0.5"/><circle cx="68.0" cy="104.3" r="1.3" fill="#cccccc" opacity="0.5"/><circle cx="136.8" cy="112.8" r="1.2" fill="#cccccc" opacity="0.5"/><circle cx="60.2" cy="121.0" r="0.9" fill="#808080" opacity="0.5"/><circle cx="75.7" cy="46.3" r="0.7" fill="#cccccc" opacity="0.5"/><circle cx="64.7" cy="114.2" r="1.1" fill="#cccccc" opacity="0.5"/><circle cx="129.8" cy="66.9" r="0.5" fill="#ffffff" opacity="0.5"/><circle cx="74.1" cy="69.0" r="1.3" fill="#eeeeee" opacity="0.5"/><circle cx="0.3" cy="126.6" r="0.7" fill="#808080" opacity="0.5"/><circle cx="134.8" cy="46.7" r="0.8" fill="#ffffff" opacity="0.5"/><circle cx="33.3" cy="35.6" r="1.2" fill="#cccccc" opacity="0.5"/><circle cx="84.2" cy="104.4" r="0.7" fill="#808080" opacity="0.5"/><circle cx="34.5" cy="103.3" r="1.1" fill="#808080" opacity="0.5"/><circle cx="47.4" cy="3.8" r="1.0" fill="#ffffff" opacity="0.5"/><circle cx="94.3" cy="117.5" r="1.3" fill="#eeeeee" opacity="0.5"/><circle cx="103.8" cy="108.3" r="0.9" fill="#808080" opacity="0.5"/><circle cx="116.0" cy="71.1" r="0.4" fill="#cccccc" opacity="0.5"/><circle cx="6.3" cy="62.5" r="1.2" fill="#ffffff" opacity="0.5"/><circle cx="126.5" cy="60.2" r="0.7" fill="#808080" opacity="0.5"/><circle cx="88.2" cy="37.8" r="1.0" fill="#ffffff" opacity="0.5"/><circle cx="138.5" cy="70.4" r="1.1" fill="#808080" opacity="0.5"/><circle cx="62.0" cy="35.8" r="0.8" fill="#cccccc" opacity="0.5"/><circle cx="133.9" cy="20.0" r="0.5" fill="#cccccc" opacity="0.5"/><circle cx="5.3" cy="62.5" r="1.1" fill="#eeeeee" opacity="0.5"/><circle cx="130.0" cy="78.9" r="0.7" fill="#ffffff" opacity="0.5"/><circle cx="83.4" cy="14.9" r="0.7" fill="#eeeeee" opacity="0.5"/><circle cx="99.0" cy="117.4" r="0.8" fill="#ffffff" opacity="0.5"/><circle cx="10.6" cy="4.3" r="1.2" fill="#808080" opacity="0.5"/><circle cx="134.1" cy="82.9" r="0.7" fill="#eeeeee" opacity="0.5"/><circle cx="48.3" cy="84.2" r="0.7" fill="#808080" opacity="0.5"/><circle cx="37.8" cy="122.3" r="0.7" fill="#cccccc" opacity="0.5"/><circle cx="54.8" cy="36.3" r="0.8" fill="#eeeeee" opacity="0.5"/><circle cx="57.7" cy="115.8" r="0.6" fill="#808080" opacity="0.5"/><circle cx="27.9" cy="10.2" r="1.1" fill="#ffffff" opacity="0.5"/><circle cx="117.0" cy="81.3" r="1.2" fill="#ffffff" opacity="0.5"/><circle cx="136.0" cy="89.1" r="0.6" fill="#808080" opacity="0.5"/><circle cx="67.4" cy="34.5" r="0.6" fill="#ffffff" opacity="0.5"/><circle cx="67.9" cy="21.6" r="1.2" fill="#eeeeee" opacity="0.5"/><circle cx="24.8" cy="127.8" r="1.0" fill="#808080" opacity="0.5"/><circle cx="19.9" cy="7.0" r="0.7" fill="#eeeeee" opacity="0.5"/><circle cx="90.6" cy="16.8" r="0.4" fill="#eeeeee" opacity="0.5"/><circle cx="134.1" cy="68.8" r="1.1" fill="#808080" opacity="0.5"/><circle cx="60.5" cy="23.4" r="0.7" fill="#ffffff" opacity="0.5"/><circle cx="18.3" cy="18.7" r="0.7" fill="#eeeeee" opacity="0.5"/><circle cx="130.9" cy="77.7" r="0.4" fill="#eeeeee" opacity="0.5"/><circle cx="51.8" cy="18.3" r="0.6" fill="#808080" opacity="0.5"/><circle cx="49.5" cy="122.4" r="0.5" fill="#808080" opacity="0.5"/><circle cx="118.2" cy="60.9" r="0.9" fill="#cccccc" opacity="0.5"/><circle cx="119.2" cy="57.0" r="0.8" fill="#808080" opacity="0.5"/><circle cx="75.1" cy="56.9" r="1.1" fill="#808080" opacity="0.5"/><circle cx="28.0" cy="76.5" r="0.7" fill="#eeeeee" opacity="0.5"/><circle cx="119.9" cy="123.5" r="0.6" fill="#cccccc" opacity="0.5"/><circle cx="28.2" cy="6.8" r="0.8" fill="#ffffff" opacity="0.5"/><circle cx="121.8" cy="14.8" r="0.5" fill="#ffffff" opacity="0.5"/><circle cx="17.1" cy="51.9" r="0.9" fill="#cccccc" opacity="0.5"/><circle cx="106.9" cy="11.9" r="0.7" fill="#808080" opacity="0.5"/><circle cx="82.4" cy="28.1" r="0.9" fill="#808080" opacity="0.5"/><circle cx="52.1" cy="41.0" r="1.0" fill="#cccccc" opacity="0.5"/><circle cx="107.6" cy="93.1" r="1.2" fill="#cccccc" opacity="0.5"/><circle cx="116.6" cy="36.9" r="0.6" fill="#cccccc" opacity="0.5"/><circle cx="17.2" cy="64.5" r="1.1" fill="#cccccc" opacity="0.5"/><circle cx="34.7" cy="56.0" r="0.8" fill="#cccccc" opacity="0.5"/><circle cx="66.7" cy="68.4" r="1.3" fill="#eeeeee" opacity="0.5"/><circle cx="73.8" cy="56.9" r="0.5" fill="#ffffff" opacity="0.5"/><circle cx="59.4" cy="109.1" r="0.5" fill="#cccccc" opacity="0.5"/><circle cx="119.3" cy="49.4" r="0.7" fill="#ffffff" opacity="0.5"/><circle cx="30.0" cy="70.6" r="0.8" fill="#ffffff" opacity="0.5"/><circle cx="121.1" cy="91.6" r="0.4" fill="#cccccc" opacity="0.5"/><circle cx="51.9" cy="47.8" r="0.7" fill="#808080" opacity="0.5"/><circle cx="91.0" cy="112.7" r="0.5" fill="#808080" opacity="0.5"/><circle cx="30.7" cy="47.8" r="0.5" fill="#ffffff" opacity="0.5"/><circle cx="11.4" cy="41.3" r="0.6" fill="#cccccc" opacity="0.5"/><circle cx="4.0" cy="94.4" r="0.9" fill="#cccccc" opacity="0.5"/><circle cx="102.9" cy="106.7" r="0.8" fill="#eeeeee" opacity="0.5"/><circle cx="95.3" cy="15.5" r="0.6" fill="#808080" opacity="0.5"/><circle cx="19.4" cy="39.5" r="0.5" fill="#eeeeee" opacity="0.5"/><circle cx="24.2" cy="113.6" r="0.4" fill="#808080" opacity="0.5"/><circle cx="49.0" cy="1.0" r="0.8" fill="#eeeeee" opacity="0.5"/><circle cx="19.5" cy="26.2" r="0.9" fill="#808080" opacity="0.5"/><circle cx="132.6" cy="38.4" r="0.5" fill="#cccccc" opacity="0.5"/><circle cx="136.7" cy="89.0" r="0.5" fill="#ffffff" opacity="0.5"/><circle cx="122.5" cy="96.1" r="0.5" fill="#cccccc" opacity="0.5"/><circle cx="1.3" cy="61.8" r="1.0" fill="#808080" opacity="0.5"/><circle cx="13.1" cy="85.0" r="1.2" fill="#808080" opacity="0.5"/><circle cx="31.6" cy="41.5" r="1.3" fill="#808080" opacity="0.5"/><circle cx="7.2" cy="66.7" r="0.9" fill="#eeeeee" opacity="0.5"/><circle cx="11.9" cy="29.9" r="1.1" fill="#808080" opacity="0.5"/><circle cx="128.2" cy="51.0" r="1.3" fill="#cccccc" opacity="0.5"/><circle cx="92.3" cy="68.0" r="0.9" fill="#eeeeee" opacity="0.5"/><circle cx="47.8" cy="75.7" r="1.0" fill="#cccccc" opacity="0.5"/><circle cx="49.5" cy="99.0" r="0.8" fill="#eeeeee" opacity="0.5"/><circle cx="100.7" cy="110.4" r="0.8" fill="#eeeeee" opacity="0.5"/><circle cx="119.2" cy="23.7" r="1.2" fill="#ffffff" opacity="0.5"/><circle cx="16.7" cy="117.6" r="1.2" fill="#808080" opacity="0.5"/><circle cx="44.0" cy="97.2" r="0.8" fill="#cccccc" opacity="0.5"/><circle cx="53.7" cy="109.6" r="0.6" fill="#ffffff" opacity="0.5"/><circle cx="51.2" cy="28.8" r="0.6" fill="#cccccc" opacity="0.5"/><circle cx="36.8" cy="89.4" r="1.1" fill="#cccccc" opacity="0.5"/><circle cx="29.0" cy="39.1" r="0.9" fill="#eeeeee" opacity="0.5"/><path d="M34.3,90.1 Q36.4,95.0 37.3,103.8" fill="none" stroke="#f4f4f4" stroke-width="1.4" opacity="0.75"/><path d="M55.0,69.5 Q49.2,62.9 44.0,61.7" fill="none" stroke="#f4f4f4" stroke-width="1.4" opacity="0.75"/><path d="M120.0,63.1 Q118.3,62.0 111.9,58.7" fill="none" stroke="#f4f4f4" stroke-width="1.0" opacity="0.75"/><path d="M114.1,127.0 Q108.9,132.4 103.9,141.7" fill="none" stroke="#f4f4f4" stroke-width="1.4" opacity="0.75"/><path d="M47.3,94.3 Q44.3,94.6 41.0,90.6" fill="none" stroke="#f4f4f4" stroke-width="1.2" opacity="0.75"/><path d="M75.3,111.1 Q70.2,115.0 64.0,115.0" fill="none" stroke="#f4f4f4" stroke-width="1.0" opacity="0.75"/><path d="M13.1,98.0 Q10.9,98.7 3.9,94.9" fill="none" stroke="#f4f4f4" stroke-width="1.2" opacity="0.75"/><path d="M138.0,107.6 Q135.0,104.0 137.9,98.1" fill="none" stroke="#f4f4f4" stroke-width="1.4" opacity="0.75"/><path d="M49.0,61.6 Q46.0,60.2 40.7,58.0" fill="none" stroke="#f4f4f4" stroke-width="1.1" opacity="0.75"/><path d="M15.3,71.3 Q10.2,77.3 9.1,84.6" fill="none" stroke="#f4f4f4" stroke-width="1.0" opacity="0.75"/><path d="M57.0,74.2 Q59.5,74.5 62.2,78.4" fill="none" stroke="#f4f4f4" stroke-width="1.2" opacity="0.75"/><path d="M23.3,13.0 Q17.2,11.1 6.7,9.0" fill="none" stroke="#f4f4f4" stroke-width="1.1" opacity="0.75"/><path d="M9.2,35.6 Q3.5,46.2 2.4,51.5" fill="none" stroke="#f4f4f4" stroke-width="1.2" opacity="0.75"/><path d="M60.6,33.8 Q65.0,32.9 68.6,31.8" fill="none" stroke="#f4f4f4" stroke-width="1.0" opacity="0.75"/><path d="M31.1,126.9 Q35.4,117.3 34.9,112.6" fill="none" stroke="#f4f4f4" stroke-width="1.4" opacity="0.75"/><path d="M104.8,29.0 Q95.2,32.9 87.7,33.7" fill="none" stroke="#f4f4f4" stroke-width="0.9" opacity="0.75"/><path d="M93.1,34.7 Q90.1,35.9 82.7,34.1" fill="none" stroke="#f4f4f4" stroke-width="1.2" opacity="0.75"/><path d="M95.9,55.1 Q97.7,51.3 99.0,46.5" fill="none" stroke="#f4f4f4" stroke-width="1.1" opacity="0.75"/><path d="M6.5,21.9 Q5.3,18.6 1.1,15.3" fill="none" stroke="#f4f4f4" stroke-width="1.6" opacity="0.75"/><path d="M118.4,93.6 Q116.4,97.5 113.8,98.3" fill="none" stroke="#f4f4f4" stroke-width="1.5" opacity="0.75"/><path d="M28.3,20.4 Q35.6,20.9 43.1,18.6" fill="none" stroke="#f4f4f4" stroke-width="0.9" opacity="0.75"/><path d="M75.9,86.1 Q70.6,84.4 69.6,81.3" fill="none" stroke="#f4f4f4" stroke-width="1.5" opacity="0.75"/><path d="M19.3,0.9 Q25.3,4.5 32.7,8.6" fill="none" stroke="#f4f4f4" stroke-width="1.6" opacity="0.75"/><path d="M85.3,33.9 Q83.1,32.2 83.5,28.2" fill="none" stroke="#f4f4f4" stroke-width="0.9" opacity="0.75"/><path d="M4.6,66.7 Q-2.0,76.3 -3.7,82.3" fill="none" stroke="#f4f4f4" stroke-width="1.1" opacity="0.75"/><path d="M112.4,57.3 Q108.3,52.7 107.5,48.7" fill="none" stroke="#f4f4f4" stroke-width="1.4" opacity="0.75"/><path d="M48.2,29.6 Q44.0,31.8 42.0,33.2" fill="none" stroke="#f4f4f4" stroke-width="1.2" opacity="0.75"/><path d="M83.4,37.3 Q85.6,36.0 89.6,38.3" fill="none" stroke="#f4f4f4" stroke-width="1.3" opacity="0.75"/><path d="M37.0,98.1 Q32.9,94.1 25.8,89.8" fill="none" stroke="#f4f4f4" stroke-width="1.1" opacity="0.75"/><path d="M43.1,8.1 Q42.3,4.9 46.4,-3.4" fill="none" stroke="#f4f4f4" stroke-width="1.3" opacity="0.75"/><path d="M87.0,56.5 Q91.4,62.1 99.7,69.3" fill="none" stroke="#f4f4f4" stroke-width="1.6" opacity="0.75"/><path d="M17.0,64.3 Q15.1,64.4 8.1,65.5" fill="none" stroke="#f4f4f4" stroke-width="0.8" opacity="0.75"/><path d="M66.1,0.6 Q66.4,-10.0 61.9,-15.3" fill="none" stroke="#f4f4f4" stroke-width="1.3" opacity="0.75"/><path d="M42.5,60.9 Q38.8,66.2 39.5,70.0" fill="none" stroke="#f4f4f4" stroke-width="0.9" opacity="0.75"/><path d="M134.6,5.6 Q136.1,6.2 142.7,3.8" fill="none" stroke="#f4f4f4" stroke-width="1.2" opacity="0.75"/><path d="M107.3,65.5 Q106.0,63.0 102.6,60.4" fill="none" stroke="#f4f4f4" stroke-width="1.6" opacity="0.75"/><path d="M0.9,8.8 Q-3.4,2.4 -6.8,-6.5" fill="none" stroke="#f4f4f4" stroke-width="1.2" opacity="0.75"/><path d="M54.6,59.9 Q50.9,59.5 49.5,56.1" fill="none" stroke="#f4f4f4" stroke-width="1.0" opacity="0.75"/><path d="M66.1,33.1 Q63.2,41.2 57.4,43.8" fill="none" stroke="#f4f4f4" stroke-width="1.2" opacity="0.75"/><path d="M28.3,43.4 Q33.0,45.6 36.6,46.6" fill="none" stroke="#f4f4f4" stroke-width="1.0" opacity="0.75"/><path d="M25.4,12.6 Q26.5,20.3 30.6,23.5" fill="none" stroke="#f4f4f4" stroke-width="1.3" opacity="0.75"/><path d="M47.5,55.5 Q56.2,56.5 61.8,59.2" fill="none" stroke="#f4f4f4" stroke-width="1.4" opacity="0.75"/><path d="M38.0,28.3 Q39.2,33.3 39.2,36.5" fill="none" stroke="#f4f4f4" stroke-width="1.4" opacity="0.75"/><path d="M14.5,98.7 Q9.3,99.0 4.0,100.1" fill="none" stroke="#f4f4f4" stroke-width="1.0" opacity="0.75"/><path d="M55.1,83.2 Q51.5,77.2 51.5,66.6" fill="none" stroke="#f4f4f4" stroke-width="1.4" opacity="0.75"/><path d="M99.5,126.1 Q106.9,129.7 109.5,137.8" fill="none" stroke="#f4f4f4" stroke-width="1.3" opacity="0.75"/><path d="M132.2,37.7 Q137.0,28.9 142.6,24.4" fill="none" stroke="#f4f4f4" stroke-width="1.0" opacity="0.75"/><path d="M115.8,54.4 Q116.1,58.1 111.3,64.7" fill="none" stroke="#f4f4f4" stroke-width="0.8" opacity="0.75"/><path d="M132.5,40.8 Q124.5,44.2 119.2,52.5" fill="none" stroke="#f4f4f4" stroke-width="1.5" opacity="0.75"/><path d="M34.0,28.5 Q40.5,25.9 42.1,25.2" fill="none" stroke="#f4f4f4" stroke-width="1.0" opacity="0.75"/><path d="M30.1,69.8 Q25.2,66.6 20.1,65.8" fill="none" stroke="#f4f4f4" stroke-width="1.5" opacity="0.75"/><path d="M130.4,97.0 Q130.3,92.1 133.3,90.8" fill="none" stroke="#f4f4f4" stroke-width="0.9" opacity="0.75"/><path d="M135.2,116.6 Q138.3,112.9 146.1,110.0" fill="none" stroke="#f4f4f4" stroke-width="0.8" opacity="0.75"/><path d="M126.3,34.2 Q122.4,45.1 122.2,51.0" fill="none" stroke="#f4f4f4" stroke-width="1.0" opacity="0.75"/><path d="M92.8,13.7 Q96.2,11.4 101.5,7.3" fill="none" stroke="#f4f4f4" stroke-width="1.3" opacity="0.75"/><path d="M35.0,16.0 Q34.5,13.6 29.4,13.1" fill="none" stroke="#f4f4f4" stroke-width="0.9" opacity="0.75"/><path d="M45.8,14.7 Q42.7,19.4 40.7,26.1" fill="none" stroke="#f4f4f4" stroke-width="1.0" opacity="0.75"/><path d="M67.9,100.3 Q60.8,100.9 53.9,106.1" fill="none" stroke="#f4f4f4" stroke-width="0.9" opacity="0.75"/><path d="M118.3,61.7 Q115.9,65.1 109.3,69.9" fill="none" stroke="#f4f4f4" stroke-width="1.1" opacity="0.75"/><path d="M51.1,1.4 Q45.4,-0.5 39.8,-1.9" fill="none" stroke="#f4f4f4" stroke-width="1.2" opacity="0.75"/><path d="M99.9,24.0 Q105.7,21.6 107.2,23.1" fill="none" stroke="#f4f4f4" stroke-width="1.4" opacity="0.75"/><path d="M36.4,10.1 Q30.7,10.3 20.8,6.0" fill="none" stroke="#f4f4f4" stroke-width="1.6" opacity="0.75"/><path d="M7.4,48.8 Q13.0,55.0 19.2,58.2" fill="none" stroke="#f4f4f4" stroke-width="1.4" opacity="0.75"/><path d="M139.5,87.1 Q141.4,85.0 148.4,78.3" fill="none" stroke="#f4f4f4" stroke-width="0.9" opacity="0.75"/><path d="M12.0,106.9 Q7.8,112.0 9.3,120.6" fill="none" stroke="#f4f4f4" stroke-width="1.4" opacity="0.75"/><path d="M5.3,65.7 Q10.4,65.6 13.2,62.5" fill="none" stroke="#f4f4f4" stroke-width="1.3" opacity="0.75"/><path d="M107.0,89.9 Q111.3,93.1 115.2,90.6" fill="none" stroke="#f4f4f4" stroke-width="1.0" opacity="0.75"/><path d="M81.9,16.5 Q85.3,12.9 88.4,7.2" fill="none" stroke="#f4f4f4" stroke-width="0.9" opacity="0.75"/><path d="M101.7,103.0 Q103.1,97.4 107.7,95.7" fill="none" stroke="#f4f4f4" stroke-width="1.5" opacity="0.75"/><path d="M61.1,50.2 Q52.9,48.3 46.9,48.3" fill="none" stroke="#f4f4f4" stroke-width="1.4" opacity="0.75"/><polygon points="4.4,4.2 4.3,4.9 4.1,5.6 3.8,6.4 3.4,7.1 2.7,7.6 1.9,7.8 1.1,7.7 0.4,7.3 -0.1,6.8 -0.6,6.4 -1.2,6.0 -1.8,5.6 -2.4,5.0 -2.8,4.2 -2.7,3.3 -2.3,2.6 -1.7,2.0 -1.0,1.6 -0.3,1.4 0.4,1.2 1.1,1.1 1.8,1.1 2.5,1.2 3.2,1.5 3.8,2.0 4.2,2.7 4.4,3.4" fill="#e4e4e4" stroke="#111" stroke-width="2.2" stroke-linejoin="round"/><polygon points="17.3,6.2 17.4,7.0 17.5,8.1 17.4,9.1 16.9,9.7 16.4,9.8 15.8,9.7 15.4,9.7 14.9,10.0 14.3,10.1 13.8,9.8 13.4,9.1 13.3,8.0 13.3,7.0 13.4,6.2 13.3,5.4 13.4,4.4 13.6,3.6 14.0,3.0 14.5,2.8 15.0,2.7 15.4,2.4 15.9,2.0 16.5,2.0 17.1,2.4 17.3,3.4 17.3,4.5 17.2,5.4" fill="#9a9a9a" stroke="#111" stroke-width="2.2" stroke-linejoin="round"/><polygon points="45.5,3.7 45.3,4.6 45.2,5.5 45.0,6.5 44.2,7.4 43.0,7.7 41.6,7.5 40.5,6.9 39.7,6.5 38.8,6.4 37.6,6.6 36.0,6.5 34.8,5.9 34.2,4.8 34.4,3.7 35.0,2.7 35.8,1.9 36.6,1.2 37.4,0.7 38.5,0.4 39.5,0.3 40.5,0.3 41.5,0.3 42.7,0.2 44.0,0.3 45.2,0.8 45.8,1.7 45.8,2.8" fill="#4a4a4a" stroke="#111" stroke-width="2.2" stroke-linejoin="round"/><ellipse cx="41.3" cy="4.1" rx="2.3" ry="1.6" fill="#f4f4f4"/><polygon points="62.6,2.1 62.7,2.7 62.6,3.3 62.2,3.8 61.6,4.4 60.8,5.0 59.7,5.6 58.3,5.8 56.9,5.5 56.0,4.8 55.5,4.1 55.2,3.5 54.6,3.1 53.7,2.7 52.8,2.1 52.7,1.4 53.4,0.8 54.5,0.4 55.5,0.1 56.3,-0.2 57.2,-0.7 58.3,-1.3 59.7,-1.5 61.1,-1.1 61.9,-0.4 62.2,0.4 62.2,1.0 62.4,1.6" fill="#e4e4e4" stroke="#111" stroke-width="2.2" stroke-linejoin="round"/><polygon points="10.4,15.4 10.4,16.2 10.1,17.1 9.6,17.8 9.1,18.6 8.4,19.4 7.4,20.1 6.2,20.3 5.0,19.9 4.2,19.0 3.8,18.1 3.3,17.5 2.5,17.0 1.6,16.3 1.0,15.4 1.3,14.4 2.2,13.7 3.2,13.3 3.9,12.9 4.4,12.2 5.1,11.2 6.2,10.4 7.5,10.3 8.6,11.0 9.2,12.1 9.4,13.2 9.6,14.0 10.0,14.6" fill="#e4e4e4" stroke="#111" stroke-width="2.2" stroke-linejoin="round"/><polygon points="25.9,22.6 25.8,23.8 25.0,24.9 23.9,25.8 22.8,26.7 21.5,27.6 19.9,28.2 18.0,28.3 16.3,27.8 15.0,26.9 14.0,26.1 13.0,25.3 11.9,24.6 10.8,23.7 10.3,22.6 10.5,21.4 11.2,20.3 12.1,19.4 13.1,18.4 14.4,17.5 16.1,16.8 18.0,16.8 19.7,17.4 21.0,18.4 21.9,19.3 22.8,19.9 24.1,20.6 25.3,21.5" fill="#e4e4e4" stroke="#111" stroke-width="2.2" stroke-linejoin="round"/><polygon points="43.8,15.4 43.8,16.5 43.7,17.7 43.3,18.9 42.2,20.0 40.6,20.6 38.6,20.6 36.9,20.2 35.5,19.6 34.2,19.3 32.5,19.2 30.7,18.8 29.1,18.0 28.4,16.7 28.7,15.4 29.7,14.3 30.9,13.4 31.8,12.6 32.6,11.7 33.7,10.8 35.1,10.1 36.9,9.8 38.7,10.0 40.3,10.5 41.7,11.3 42.7,12.2 43.3,13.3 43.7,14.3" fill="#e4e4e4" stroke="#111" stroke-width="2.2" stroke-linejoin="round"/><polygon points="53.8,10.8 53.6,11.6 53.1,12.2 52.5,12.7 52.0,13.0 51.4,13.3 50.8,13.6 50.2,13.8 49.5,13.7 48.9,13.5 48.3,13.1 47.9,12.6 47.5,12.1 47.3,11.5 47.1,10.8 47.1,10.1 47.2,9.4 47.6,8.7 48.1,8.1 48.8,7.8 49.5,7.8 50.2,8.0 50.8,8.3 51.2,8.6 51.8,8.8 52.4,9.0 53.1,9.4 53.7,10.0" fill="#d8d8d8" stroke="#333" stroke-width="1.3" stroke-linejoin="round"/><polygon points="69.6,10.3 69.6,11.2 69.4,12.2 69.0,13.1 68.4,14.0 67.4,14.7 66.2,14.8 65.0,14.4 64.1,13.6 63.6,12.8 63.1,12.4 62.3,12.2 61.1,11.9 59.9,11.3 59.2,10.3 59.2,9.1 59.9,8.1 61.0,7.5 62.1,7.1 63.2,7.0 64.1,6.8 65.0,6.7 65.9,6.8 66.8,6.9 67.7,7.3 68.5,7.9 69.1,8.6 69.5,9.4" fill="#e4e4e4" stroke="#111" stroke-width="2.2" stroke-linejoin="round"/><polygon points="4.7,25.6 4.7,26.1 4.4,26.4 4.1,26.7 3.8,27.0 3.5,27.3 3.2,27.7 2.7,27.9 2.2,27.9 1.7,27.6 1.5,27.2 1.3,26.7 1.1,26.4 0.8,26.0 0.5,25.6 0.5,25.1 0.7,24.7 1.2,24.4 1.6,24.2 1.9,24.0 2.3,23.8 2.7,23.5 3.2,23.4 3.7,23.5 4.1,23.9 4.3,24.3 4.5,24.7 4.6,25.2" fill="#e4e4e4" stroke="#111" stroke-width="2.2" stroke-linejoin="round"/><polygon points="31.5,35.4 30.9,36.7 30.0,37.8 29.3,38.7 28.6,39.8 27.8,41.0 26.6,41.8 25.1,41.7 23.8,40.9 23.0,39.8 22.2,39.0 21.3,38.4 20.2,37.8 19.1,36.8 18.7,35.4 18.9,34.0 19.7,32.8 20.6,31.8 21.5,30.8 22.5,30.0 23.7,29.5 25.1,29.6 26.3,30.2 27.2,31.0 28.1,31.6 29.3,32.1 30.5,32.8 31.4,34.0" fill="#e4e4e4" stroke="#111" stroke-width="2.2" stroke-linejoin="round"/><polygon points="45.8,29.7 45.7,30.6 45.2,31.5 44.4,32.1 43.7,32.7 43.0,33.3 42.1,33.9 41.0,34.2 39.9,34.0 39.0,33.3 38.5,32.5 38.0,31.8 37.2,31.3 36.3,30.6 35.7,29.7 35.7,28.6 36.4,27.8 37.5,27.2 38.5,27.0 39.3,26.6 40.1,26.1 41.0,25.6 42.1,25.4 43.2,25.7 44.0,26.4 44.5,27.3 45.0,28.0 45.4,28.8" fill="#e4e4e4" stroke="#111" stroke-width="2.2" stroke-linejoin="round"/><polygon points="62.0,30.2 62.0,31.4 61.8,32.6 61.2,33.7 60.3,34.7 58.9,35.2 57.6,35.2 56.3,35.0 55.2,34.7 54.0,34.5 52.8,34.1 51.8,33.5 51.1,32.5 50.8,31.3 50.7,30.2 50.8,29.1 51.0,27.9 51.4,26.7 52.3,25.7 53.6,25.1 55.0,25.0 56.3,25.3 57.4,25.7 58.5,26.0 59.6,26.4 60.7,27.1 61.4,28.0 61.9,29.0" fill="#e4e4e4" stroke="#111" stroke-width="2.2" stroke-linejoin="round"/><polygon points="70.2,26.2 69.9,26.9 69.4,27.4 68.9,27.7 68.5,28.1 68.2,28.6 67.7,29.1 67.0,29.4 66.3,29.3 65.7,28.8 65.3,28.3 65.0,27.8 64.6,27.3 64.3,26.8 64.1,26.2 64.1,25.5 64.4,25.0 64.8,24.5 65.3,24.0 65.8,23.6 66.3,23.3 67.0,23.3 67.6,23.5 68.1,23.8 68.6,24.2 69.1,24.5 69.6,24.9 70.1,25.5" fill="#e4e4e4" stroke="#111" stroke-width="2.2" stroke-linejoin="round"/><polygon points="13.1,37.9 13.6,38.9 14.0,40.1 13.8,41.4 12.7,42.4 11.1,42.6 9.5,42.2 8.3,41.8 7.3,41.6 6.1,41.6 4.7,41.5 3.5,41.0 2.8,40.0 2.6,38.9 2.8,37.9 2.9,36.9 3.1,35.9 3.6,34.9 4.5,34.1 5.8,33.6 7.1,33.5 8.3,33.5 9.6,33.4 10.9,33.6 12.1,34.1 12.8,35.0 13.0,36.1 12.9,37.0" fill="#e4e4e4" stroke="#111" stroke-width="2.2" stroke-linejoin="round"/><polygon points="54.6,46.6 54.4,47.3 54.1,48.0 53.8,48.6 53.4,49.2 52.9,49.6 52.3,49.8 51.7,49.7 51.1,49.6 50.5,49.5 49.8,49.4 49.1,49.1 48.5,48.5 48.1,47.6 48.2,46.6 48.6,45.8 49.3,45.2 49.8,44.8 50.3,44.5 50.7,44.2 51.2,43.8 51.7,43.3 52.4,43.1 53.1,43.0 53.9,43.4 54.4,44.0 54.7,44.9 54.8,45.8" fill="#e4e4e4" stroke="#111" stroke-width="2.2" stroke-linejoin="round"/><polygon points="64.9,44.5 65.4,45.2 65.8,46.1 65.7,47.1 65.1,47.8 64.2,48.2 63.2,48.2 62.4,48.0 61.6,47.9 61.0,47.5 60.5,46.9 60.2,46.3 60.1,45.6 59.8,45.1 59.4,44.5 59.0,43.7 58.9,42.8 59.3,42.0 60.0,41.5 60.9,41.3 61.6,41.2 62.4,41.0 63.2,40.8 64.1,41.0 64.6,41.7 64.8,42.6 64.6,43.4 64.6,44.0" fill="#4a4a4a" stroke="#111" stroke-width="2.2" stroke-linejoin="round"/><ellipse cx="62.9" cy="44.8" rx="1.5" ry="1.4" fill="#f4f4f4"/><polygon points="6.6,48.1 6.9,48.7 6.9,49.4 6.4,49.9 5.7,50.0 5.1,49.9 4.6,49.9 4.2,50.0 3.7,50.2 3.1,50.3 2.5,50.2 2.1,49.8 1.9,49.2 1.9,48.6 1.9,48.1 1.9,47.6 2.1,47.1 2.4,46.6 2.8,46.3 3.2,46.0 3.7,45.8 4.2,45.6 4.8,45.6 5.3,45.8 5.6,46.3 5.8,46.8 6.0,47.3 6.2,47.6" fill="#e4e4e4" stroke="#111" stroke-width="2.2" stroke-linejoin="round"/><polygon points="28.4,50.2 28.2,50.7 28.0,51.1 27.8,51.5 27.6,51.9 27.1,52.1 26.7,52.2 26.2,52.2 25.7,52.2 25.3,52.1 24.8,52.0 24.4,51.6 24.3,51.1 24.3,50.6 24.2,50.2 24.1,49.7 24.1,49.2 24.2,48.6 24.6,48.2 25.2,48.1 25.8,48.3 26.2,48.6 26.6,48.7 27.0,48.5 27.6,48.5 28.2,48.6 28.5,49.1 28.6,49.7" fill="#d8d8d8" stroke="#333" stroke-width="1.3" stroke-linejoin="round"/><polygon points="33.2,55.8 33.2,56.1 33.1,56.4 33.0,56.7 32.8,57.0 32.5,57.2 32.1,57.3 31.8,57.3 31.5,57.2 31.2,57.1 30.9,56.9 30.7,56.7 30.5,56.4 30.3,56.1 30.3,55.8 30.3,55.5 30.4,55.1 30.6,54.9 30.9,54.7 31.2,54.5 31.5,54.4 31.8,54.4 32.1,54.4 32.5,54.4 32.8,54.6 33.0,54.8 33.1,55.2 33.2,55.5" fill="#4a4a4a" stroke="#111" stroke-width="2.2" stroke-linejoin="round"/><ellipse cx="32.0" cy="55.9" rx="0.7" ry="0.6" fill="#f4f4f4"/><polygon points="13.8,58.9 14.0,59.8 13.7,60.7 13.1,61.5 12.0,61.9 10.8,62.0 9.7,61.8 8.8,61.6 8.0,61.7 6.9,61.9 5.7,61.9 4.7,61.4 4.3,60.6 4.4,59.7 4.8,58.9 5.0,58.2 4.9,57.5 4.8,56.5 5.3,55.5 6.3,55.0 7.6,55.0 8.8,55.5 9.7,56.0 10.4,56.5 11.1,56.7 11.9,57.0 12.7,57.5 13.4,58.1" fill="#e4e4e4" stroke="#111" stroke-width="2.2" stroke-linejoin="round"/><polygon points="23.9,61.4 23.7,62.1 23.5,62.8 23.1,63.4 22.5,63.9 21.9,64.2 21.2,64.4 20.5,64.7 19.7,64.9 18.8,65.0 17.8,64.8 17.1,64.1 16.7,63.2 16.6,62.3 16.8,61.4 17.1,60.6 17.6,60.0 18.1,59.5 18.7,59.2 19.3,58.8 19.8,58.4 20.5,58.0 21.4,57.6 22.4,57.5 23.3,57.9 23.9,58.7 24.1,59.6 24.1,60.6" fill="#e4e4e4" stroke="#111" stroke-width="2.2" stroke-linejoin="round"/><polygon points="45.3,59.4 45.2,60.4 44.9,61.3 44.3,62.0 43.5,62.6 42.8,63.1 41.9,63.5 41.0,63.7 40.0,63.7 39.1,63.4 38.3,62.8 37.7,62.1 37.2,61.2 36.8,60.3 36.7,59.4 36.7,58.4 37.1,57.5 37.7,56.8 38.5,56.2 39.2,55.7 40.1,55.3 41.0,55.1 42.0,55.1 42.9,55.4 43.7,56.0 44.3,56.7 44.8,57.6 45.1,58.5" fill="#e4e4e4" stroke="#111" stroke-width="2.2" stroke-linejoin="round"/><polygon points="55.2,57.8 55.0,58.6 54.8,59.3 54.5,60.0 53.9,60.6 53.2,61.0 52.5,61.2 51.7,61.4 50.8,61.6 49.9,61.6 49.1,61.1 48.6,60.3 48.5,59.3 48.6,58.5 48.5,57.8 48.2,57.0 48.0,56.0 48.3,55.1 49.1,54.6 50.1,54.6 51.0,54.8 51.7,54.9 52.4,54.7 53.3,54.4 54.4,54.4 55.2,55.0 55.6,55.9 55.5,56.9" fill="#e4e4e4" stroke="#111" stroke-width="2.2" stroke-linejoin="round"/><polygon points="66.3,56.8 66.1,57.6 66.0,58.6 65.9,59.6 65.4,60.6 64.6,61.3 63.5,61.7 62.4,61.7 61.4,61.4 60.5,60.8 59.8,60.1 59.3,59.2 59.0,58.4 58.6,57.7 58.0,56.8 57.5,55.7 57.5,54.4 58.2,53.4 59.3,52.9 60.6,53.0 61.6,53.2 62.4,53.2 63.3,52.9 64.4,52.6 65.7,52.7 66.5,53.5 66.8,54.7 66.6,55.8" fill="#4a4a4a" stroke="#111" stroke-width="2.2" stroke-linejoin="round"/><ellipse cx="63.1" cy="57.2" rx="2.0" ry="1.8" fill="#f4f4f4"/><polygon points="72.3,35.9 72.1,36.7 71.9,37.5 71.5,38.2 70.9,38.8 70.0,38.9 69.2,38.6 68.6,38.4 68.1,38.3 67.4,38.4 66.5,38.5 65.6,38.3 65.0,37.6 64.8,36.8 64.9,35.9 65.0,35.1 65.2,34.3 65.6,33.5 66.3,33.1 67.2,33.0 68.0,33.2 68.6,33.5 69.1,33.5 69.8,33.3 70.7,33.2 71.6,33.5 72.2,34.2 72.4,35.0" fill="#e4e4e4" stroke="#111" stroke-width="2.2" stroke-linejoin="round"/><polygon points="18.8,50.2 18.8,50.6 18.9,51.1 18.9,51.7 18.7,52.3 18.2,52.6 17.6,52.6 17.0,52.5 16.5,52.3 16.0,52.2 15.5,52.0 15.1,51.7 15.0,51.2 15.0,50.7 15.2,50.2 15.2,49.8 15.1,49.3 15.1,48.7 15.3,48.1 15.8,47.8 16.4,47.8 17.0,47.9 17.5,48.1 18.0,48.2 18.5,48.4 18.9,48.7 19.0,49.2 19.0,49.7" fill="#9a9a9a" stroke="#111" stroke-width="2.2" stroke-linejoin="round"/><polygon points="88.6,6.2 88.7,7.3 88.4,8.4 87.6,9.2 86.6,9.8 85.6,10.2 84.5,10.5 83.4,10.8 82.2,11.0 80.9,10.8 79.8,10.2 79.1,9.2 78.9,8.1 79.0,7.1 79.2,6.2 79.2,5.4 79.2,4.4 79.4,3.3 79.8,2.2 80.8,1.3 82.0,0.8 83.4,0.9 84.6,1.4 85.6,2.2 86.3,3.0 86.8,3.8 87.4,4.5 88.1,5.2" fill="#e4e4e4" stroke="#111" stroke-width="2.2" stroke-linejoin="round"/><polygon points="101.4,7.8 101.4,8.6 101.3,9.5 101.0,10.4 100.4,11.2 99.6,11.8 98.7,12.1 97.7,12.0 96.8,11.7 96.1,11.1 95.5,10.6 94.9,10.0 94.2,9.5 93.5,8.8 93.0,7.8 93.1,6.8 93.8,5.9 94.7,5.4 95.5,5.1 96.2,4.8 96.9,4.3 97.7,3.7 98.7,3.4 99.7,3.6 100.5,4.3 101.0,5.2 101.1,6.1 101.3,7.0" fill="#e4e4e4" stroke="#111" stroke-width="2.2" stroke-linejoin="round"/><polygon points="117.0,7.3 116.9,8.4 116.8,9.6 116.4,10.8 115.5,11.7 114.3,12.1 113.1,12.0 112.0,11.7 111.0,11.5 110.1,11.3 109.1,10.9 108.2,10.3 107.6,9.4 107.1,8.4 106.6,7.3 106.3,6.0 106.4,4.6 107.1,3.4 108.4,2.8 109.9,2.9 111.1,3.4 112.0,3.7 112.9,3.6 114.0,3.2 115.3,3.2 116.5,3.7 117.1,4.9 117.2,6.1" fill="#4a4a4a" stroke="#111" stroke-width="2.2" stroke-linejoin="round"/><ellipse cx="112.8" cy="7.8" rx="2.3" ry="2.0" fill="#f4f4f4"/><polygon points="130.9,6.7 131.2,7.7 131.3,8.8 130.8,9.9 130.0,10.7 128.9,11.0 127.8,10.9 126.8,10.7 125.9,10.4 125.1,10.3 124.1,10.1 123.1,9.7 122.2,8.9 121.8,7.8 121.9,6.7 122.4,5.7 123.1,4.9 123.8,4.3 124.4,3.7 125.0,2.9 125.8,2.2 126.8,1.7 128.0,1.6 129.0,2.2 129.7,3.1 130.1,4.1 130.3,5.0 130.5,5.8" fill="#4a4a4a" stroke="#111" stroke-width="2.2" stroke-linejoin="round"/><ellipse cx="127.5" cy="7.2" rx="2.0" ry="1.8" fill="#f4f4f4"/><polygon points="142.2,11.3 141.8,12.3 141.1,13.0 140.2,13.5 139.4,13.7 138.8,14.1 138.2,14.6 137.5,15.2 136.6,15.5 135.6,15.2 134.9,14.6 134.5,13.7 134.2,12.9 133.9,12.1 133.3,11.3 133.0,10.3 133.1,9.2 133.8,8.4 135.0,8.1 136.0,8.3 136.9,8.5 137.5,8.5 138.2,8.3 139.1,8.1 140.1,8.1 141.1,8.5 141.8,9.2 142.2,10.2" fill="#e4e4e4" stroke="#111" stroke-width="2.2" stroke-linejoin="round"/><polygon points="74.9,14.4 75.0,14.9 74.8,15.4 74.4,15.7 73.9,16.0 73.6,16.2 73.2,16.6 72.7,16.9 72.1,16.9 71.6,16.6 71.3,16.2 71.0,15.8 70.7,15.4 70.4,14.9 70.2,14.4 70.4,13.9 70.8,13.5 71.3,13.3 71.6,13.1 71.9,12.7 72.2,12.2 72.7,11.7 73.3,11.6 73.9,11.9 74.2,12.5 74.3,13.1 74.5,13.6 74.7,13.9" fill="#e4e4e4" stroke="#111" stroke-width="2.2" stroke-linejoin="round"/><polygon points="92.6,20.0 92.6,20.9 92.2,21.7 91.5,22.4 90.7,22.9 89.9,23.4 89.0,23.8 88.0,23.8 87.1,23.4 86.6,22.6 86.3,21.8 86.0,21.4 85.2,21.2 84.0,20.8 83.1,20.0 82.8,19.0 83.3,18.1 84.3,17.5 85.4,17.2 86.3,17.0 87.1,16.7 88.0,16.6 88.9,16.8 89.5,17.2 90.0,17.8 90.5,18.3 91.2,18.7 92.0,19.2" fill="#e4e4e4" stroke="#111" stroke-width="2.2" stroke-linejoin="round"/><polygon points="109.4,23.1 109.4,24.4 108.8,25.5 107.9,26.3 107.0,26.9 106.2,27.5 105.3,28.1 104.3,28.6 103.2,28.5 102.2,27.9 101.6,26.9 101.1,26.0 100.6,25.1 100.1,24.2 99.6,23.1 99.5,21.9 99.8,20.7 100.4,19.7 101.3,18.9 102.2,18.3 103.2,17.9 104.3,17.8 105.3,18.2 106.1,18.8 106.8,19.6 107.5,20.3 108.2,21.0 109.0,21.9" fill="#e4e4e4" stroke="#111" stroke-width="2.2" stroke-linejoin="round"/><polygon points="125.0,21.6 125.4,22.7 125.0,23.8 123.9,24.6 122.4,25.0 121.0,25.1 119.7,25.1 118.6,25.1 117.5,25.1 116.3,25.0 115.2,24.7 114.1,24.1 113.3,23.4 112.7,22.5 112.7,21.6 113.0,20.7 113.5,19.9 114.2,19.1 114.9,18.3 115.9,17.6 117.2,17.1 118.6,17.1 119.9,17.5 120.8,18.3 121.4,19.1 121.9,19.7 122.8,20.2 123.9,20.7" fill="#e4e4e4" stroke="#111" stroke-width="2.2" stroke-linejoin="round"/><polygon points="133.2,18.0 133.3,18.7 133.0,19.3 132.5,19.7 132.0,20.0 131.5,20.2 131.0,20.6 130.4,20.9 129.7,21.0 129.1,20.7 128.7,20.1 128.5,19.5 128.3,19.0 127.9,18.6 127.6,18.0 127.5,17.3 127.7,16.7 128.3,16.3 128.9,16.1 129.4,15.8 129.8,15.5 130.4,15.1 131.1,15.0 131.7,15.3 132.1,15.8 132.4,16.4 132.6,17.0 132.8,17.4" fill="#d8d8d8" stroke="#333" stroke-width="1.3" stroke-linejoin="round"/><polygon points="82.2,25.6 82.1,26.1 81.9,26.5 81.7,26.9 81.5,27.3 81.2,27.8 80.7,28.3 80.1,28.5 79.5,28.4 79.0,27.9 78.8,27.3 78.7,26.7 78.7,26.3 78.5,26.0 78.2,25.6 78.0,25.1 78.0,24.6 78.2,24.1 78.5,23.6 79.0,23.3 79.5,23.0 80.1,23.0 80.7,23.1 81.1,23.5 81.4,24.0 81.6,24.4 81.9,24.8 82.0,25.2" fill="#e4e4e4" stroke="#111" stroke-width="2.2" stroke-linejoin="round"/><polygon points="100.1,31.8 100.2,33.1 99.6,34.3 98.5,35.3 97.0,35.9 95.6,36.4 94.1,36.6 92.6,36.7 91.2,36.5 89.8,36.2 88.5,35.7 87.3,35.0 86.2,34.1 85.5,33.0 85.3,31.8 85.5,30.6 86.2,29.5 87.1,28.5 88.2,27.7 89.5,27.0 91.0,26.5 92.6,26.5 94.1,26.8 95.4,27.5 96.4,28.2 97.4,28.9 98.5,29.7 99.4,30.6" fill="#e4e4e4" stroke="#111" stroke-width="2.2" stroke-linejoin="round"/><polygon points="114.8,33.8 114.8,34.8 114.8,35.9 114.6,37.0 114.0,37.8 113.3,38.0 112.6,37.8 112.0,37.6 111.5,37.6 110.8,37.8 110.0,37.8 109.3,37.2 108.9,36.1 109.0,34.9 109.3,33.8 109.5,32.9 109.7,32.0 109.8,31.0 110.1,30.0 110.6,29.3 111.3,29.1 112.0,29.2 112.6,29.5 113.2,29.8 113.8,30.2 114.3,30.9 114.7,31.8 114.8,32.8" fill="#e4e4e4" stroke="#111" stroke-width="2.2" stroke-linejoin="round"/><polygon points="138.6,29.7 138.1,30.4 137.6,31.0 137.1,31.4 136.7,31.9 136.3,32.4 135.7,32.9 135.0,33.2 134.2,33.2 133.4,32.9 132.8,32.5 132.2,32.0 131.7,31.3 131.4,30.5 131.3,29.7 131.6,28.9 132.1,28.3 132.7,27.8 133.2,27.5 133.8,27.1 134.3,26.8 135.0,26.5 135.8,26.4 136.6,26.4 137.4,26.7 138.1,27.2 138.6,28.0 138.8,28.8" fill="#e4e4e4" stroke="#111" stroke-width="2.2" stroke-linejoin="round"/><polygon points="76.6,37.4 76.3,38.0 76.2,38.6 76.2,39.4 76.0,40.3 75.4,41.0 74.6,41.2 73.7,41.1 73.0,40.7 72.3,40.2 71.8,39.8 71.2,39.4 70.7,38.8 70.5,38.1 70.4,37.4 70.5,36.7 70.6,35.9 70.9,35.2 71.4,34.6 72.2,34.2 73.0,34.2 73.7,34.3 74.4,34.4 75.1,34.4 76.0,34.5 76.7,35.0 77.1,35.8 77.0,36.6" fill="#e4e4e4" stroke="#111" stroke-width="2.2" stroke-linejoin="round"/><polygon points="92.5,46.6 92.7,47.9 92.0,49.1 90.4,49.8 88.5,49.9 86.9,49.7 85.8,49.6 84.9,49.9 83.7,50.6 82.0,51.0 80.3,50.8 79.1,50.0 78.6,48.8 78.5,47.7 78.5,46.6 78.6,45.5 78.9,44.5 79.6,43.5 80.9,42.9 82.3,42.6 83.7,42.6 84.9,42.6 86.1,42.7 87.4,42.9 88.5,43.2 89.6,43.8 90.7,44.6 91.7,45.5" fill="#e4e4e4" stroke="#111" stroke-width="2.2" stroke-linejoin="round"/><polygon points="107.6,46.6 107.3,47.5 106.9,48.3 106.2,49.1 105.1,49.5 103.8,49.6 102.8,49.6 101.8,49.8 100.6,50.2 99.1,50.5 97.5,50.4 96.2,49.7 95.6,48.7 95.6,47.6 95.8,46.6 96.1,45.7 96.6,44.8 97.5,44.2 98.6,43.8 99.8,43.7 100.9,43.7 101.8,43.4 103.0,42.9 104.5,42.6 106.2,42.7 107.4,43.4 107.9,44.5 107.9,45.6" fill="#e4e4e4" stroke="#111" stroke-width="2.2" stroke-linejoin="round"/><polygon points="122.6,45.6 122.6,46.8 122.2,48.0 121.5,49.1 120.5,49.9 119.5,50.5 118.4,51.1 117.1,51.5 115.7,51.7 114.3,51.4 113.0,50.7 112.2,49.5 111.9,48.1 112.0,46.8 112.2,45.6 112.4,44.5 112.6,43.5 112.9,42.3 113.5,41.1 114.4,40.0 115.7,39.3 117.1,39.1 118.5,39.4 119.7,40.1 120.7,41.1 121.4,42.2 121.9,43.3 122.3,44.4" fill="#e4e4e4" stroke="#111" stroke-width="2.2" stroke-linejoin="round"/><polygon points="133.9,46.6 134.0,47.2 133.8,47.7 133.4,48.2 132.6,48.5 131.9,48.7 131.1,48.7 130.4,48.8 129.6,48.8 128.9,48.8 128.1,48.5 127.6,48.1 127.2,47.6 127.1,47.1 127.0,46.6 127.0,46.1 127.2,45.6 127.6,45.1 128.2,44.7 128.9,44.5 129.6,44.3 130.4,44.2 131.2,44.3 131.9,44.4 132.6,44.8 133.0,45.2 133.3,45.6 133.6,46.1" fill="#e4e4e4" stroke="#111" stroke-width="2.2" stroke-linejoin="round"/><polygon points="140.9,46.6 140.7,47.2 140.6,47.8 140.3,48.5 139.9,49.0 139.3,49.4 138.6,49.4 138.0,49.1 137.5,48.8 137.0,48.6 136.5,48.5 135.8,48.4 135.1,48.0 134.7,47.3 134.7,46.6 135.0,45.9 135.4,45.3 135.8,44.9 136.3,44.5 136.8,44.2 137.4,44.0 138.0,44.0 138.6,44.1 139.1,44.2 139.7,44.4 140.3,44.8 140.7,45.3 140.9,45.9" fill="#4a4a4a" stroke="#111" stroke-width="2.2" stroke-linejoin="round"/><ellipse cx="138.4" cy="46.9" rx="1.3" ry="1.1" fill="#f4f4f4"/><polygon points="75.5,57.3 75.2,57.9 74.8,58.3 74.4,58.6 74.0,59.0 73.8,59.5 73.4,60.2 72.7,60.7 71.9,60.8 71.2,60.4 70.7,59.8 70.5,59.1 70.2,58.5 70.1,57.9 70.0,57.3 70.1,56.7 70.5,56.2 70.9,55.9 71.3,55.6 71.6,55.1 72.1,54.5 72.7,54.0 73.5,53.9 74.2,54.2 74.7,54.8 75.0,55.4 75.3,56.1 75.5,56.7" fill="#e4e4e4" stroke="#111" stroke-width="2.2" stroke-linejoin="round"/><polygon points="91.5,58.3 91.3,58.9 90.9,59.5 90.5,59.9 90.1,60.4 89.6,60.7 89.1,60.8 88.5,60.6 88.0,60.4 87.6,60.2 87.0,60.2 86.4,60.0 85.8,59.6 85.5,59.0 85.6,58.3 85.9,57.7 86.2,57.2 86.5,56.7 86.8,56.2 87.3,55.8 87.9,55.7 88.5,55.9 89.0,56.2 89.4,56.5 89.9,56.6 90.5,56.7 91.1,57.0 91.5,57.6" fill="#e4e4e4" stroke="#111" stroke-width="2.2" stroke-linejoin="round"/><polygon points="100.5,59.4 100.1,60.1 99.9,60.7 99.8,61.5 99.6,62.4 99.0,63.0 98.1,63.3 97.2,63.0 96.5,62.5 95.9,62.1 95.2,61.9 94.5,61.6 93.8,61.1 93.4,60.3 93.5,59.4 93.9,58.6 94.3,58.0 94.7,57.4 95.1,56.8 95.6,56.2 96.4,55.8 97.2,55.8 98.0,56.0 98.7,56.3 99.4,56.6 100.1,57.1 100.6,57.8 100.7,58.6" fill="#e4e4e4" stroke="#111" stroke-width="2.2" stroke-linejoin="round"/><polygon points="111.7,58.4 111.3,59.2 111.1,59.9 110.8,60.7 110.5,61.6 109.8,62.4 108.9,62.7 107.9,62.5 107.0,62.2 106.2,61.9 105.4,61.6 104.5,61.1 103.9,60.3 103.7,59.4 103.9,58.4 104.3,57.6 104.6,56.8 105.0,56.1 105.4,55.3 106.1,54.6 107.0,54.3 107.9,54.3 108.8,54.5 109.7,54.8 110.6,55.1 111.4,55.6 111.9,56.5 112.0,57.5" fill="#e4e4e4" stroke="#111" stroke-width="2.2" stroke-linejoin="round"/><polygon points="125.5,58.9 125.2,59.8 124.9,60.7 124.5,61.5 124.0,62.4 123.2,63.1 122.2,63.4 121.2,63.2 120.3,62.8 119.5,62.4 118.7,62.0 117.8,61.6 117.1,60.9 116.8,59.9 116.9,58.9 117.3,58.0 117.6,57.2 117.9,56.3 118.4,55.4 119.1,54.6 120.2,54.3 121.2,54.5 122.1,55.0 122.9,55.5 123.6,55.8 124.5,56.3 125.2,57.0 125.6,57.9" fill="#e4e4e4" stroke="#111" stroke-width="2.2" stroke-linejoin="round"/><polygon points="138.3,56.8 138.5,57.7 138.3,58.6 137.8,59.4 137.0,59.9 136.1,60.1 135.3,60.4 134.5,60.6 133.6,60.8 132.7,60.6 131.9,60.0 131.4,59.2 131.1,58.4 130.9,57.6 130.7,56.8 130.5,55.9 130.7,55.0 131.3,54.2 132.1,53.7 132.9,53.4 133.7,53.2 134.5,53.0 135.4,52.8 136.3,53.0 137.1,53.6 137.6,54.4 137.8,55.2 138.1,56.0" fill="#4a4a4a" stroke="#111" stroke-width="2.2" stroke-linejoin="round"/><ellipse cx="135.1" cy="57.2" rx="1.8" ry="1.6" fill="#f4f4f4"/><polygon points="12.2,71.3 12.8,72.4 13.2,73.8 12.7,75.2 11.4,75.9 9.8,76.0 8.5,75.9 7.3,75.9 6.1,76.0 4.7,76.1 3.5,75.6 2.7,74.6 2.4,73.4 2.3,72.3 2.0,71.3 1.6,70.1 1.6,68.8 2.2,67.7 3.5,67.0 4.9,66.8 6.2,66.8 7.3,66.5 8.6,66.2 10.0,66.2 11.3,66.8 11.9,68.0 11.9,69.3 11.9,70.4" fill="#e4e4e4" stroke="#111" stroke-width="2.2" stroke-linejoin="round"/><polygon points="23.7,74.8 23.7,75.3 23.6,75.8 23.5,76.3 23.1,76.7 22.6,76.9 22.1,76.8 21.6,76.7 21.2,76.8 20.6,76.8 20.0,76.8 19.5,76.5 19.2,75.9 19.3,75.3 19.6,74.8 19.8,74.4 19.8,73.9 19.9,73.4 20.1,72.9 20.5,72.6 21.1,72.5 21.6,72.6 22.1,72.7 22.5,72.8 23.0,73.0 23.5,73.3 23.8,73.8 23.8,74.3" fill="#e4e4e4" stroke="#111" stroke-width="2.2" stroke-linejoin="round"/><polygon points="34.6,74.8 34.1,75.3 34.0,75.9 34.1,76.7 33.9,77.6 33.3,78.3 32.3,78.6 31.3,78.5 30.4,78.3 29.5,78.1 28.6,77.8 27.8,77.2 27.4,76.4 27.5,75.6 27.8,74.8 28.0,74.1 28.0,73.4 28.2,72.7 28.7,71.9 29.5,71.6 30.4,71.5 31.3,71.6 32.2,71.6 33.2,71.5 34.3,71.5 35.3,72.0 35.7,73.0 35.3,74.0" fill="#e4e4e4" stroke="#111" stroke-width="2.2" stroke-linejoin="round"/><polygon points="49.2,69.7 49.3,70.6 48.8,71.5 48.0,72.2 47.1,72.8 46.2,73.3 45.2,73.8 44.0,74.1 42.7,74.1 41.6,73.6 40.8,72.8 40.4,72.0 40.0,71.2 39.5,70.5 39.1,69.7 38.8,68.8 39.0,67.8 39.7,67.0 40.6,66.4 41.7,66.0 42.8,65.6 44.0,65.4 45.2,65.6 46.3,66.0 47.1,66.7 47.7,67.4 48.2,68.1 48.8,68.8" fill="#e4e4e4" stroke="#111" stroke-width="2.2" stroke-linejoin="round"/><polygon points="54.1,76.4 54.1,77.1 54.0,77.7 53.7,78.4 53.2,78.9 52.5,79.2 51.9,79.3 51.2,79.4 50.5,79.4 49.8,79.4 49.1,79.1 48.5,78.6 48.1,77.9 48.0,77.1 48.1,76.4 48.3,75.7 48.6,75.1 48.9,74.6 49.4,74.1 49.9,73.8 50.5,73.5 51.2,73.2 52.0,73.1 52.7,73.2 53.4,73.6 53.9,74.3 54.1,75.0 54.1,75.7" fill="#9a9a9a" stroke="#111" stroke-width="2.2" stroke-linejoin="round"/><polygon points="67.4,68.7 67.4,69.4 67.1,70.0 66.6,70.4 66.0,70.6 65.5,70.7 65.0,70.8 64.5,70.9 64.0,71.0 63.4,71.0 62.8,70.8 62.3,70.5 61.9,69.9 61.7,69.3 61.7,68.7 61.8,68.1 62.1,67.6 62.5,67.1 63.0,66.8 63.5,66.5 64.0,66.4 64.5,66.2 65.1,66.3 65.6,66.4 66.1,66.7 66.5,67.1 66.9,67.6 67.2,68.1" fill="#e4e4e4" stroke="#111" stroke-width="2.2" stroke-linejoin="round"/><polygon points="18.2,82.5 18.2,82.9 18.1,83.3 17.8,83.7 17.3,84.0 16.7,84.2 16.0,84.3 15.4,84.2 14.8,84.2 14.2,84.1 13.6,83.9 13.0,83.7 12.6,83.3 12.4,82.9 12.4,82.5 12.6,82.1 12.9,81.8 13.3,81.4 13.7,81.2 14.1,80.9 14.7,80.7 15.4,80.6 16.1,80.6 16.7,80.8 17.3,81.1 17.6,81.4 17.9,81.8 18.0,82.1" fill="#e4e4e4" stroke="#111" stroke-width="2.2" stroke-linejoin="round"/><polygon points="29.8,84.5 29.8,84.9 29.6,85.2 29.3,85.4 29.0,85.5 28.7,85.6 28.5,85.7 28.2,85.8 27.9,85.8 27.6,85.7 27.4,85.5 27.1,85.3 26.9,85.1 26.8,84.8 26.7,84.5 26.8,84.2 27.0,83.9 27.2,83.7 27.4,83.5 27.6,83.2 27.9,83.1 28.2,83.1 28.5,83.2 28.7,83.4 28.9,83.6 29.1,83.8 29.4,83.9 29.6,84.2" fill="#d8d8d8" stroke="#333" stroke-width="1.3" stroke-linejoin="round"/><polygon points="43.3,83.0 43.1,83.8 42.9,84.7 42.6,85.6 42.1,86.3 41.2,86.8 40.3,87.0 39.4,86.9 38.5,86.8 37.7,86.6 36.8,86.2 36.1,85.6 35.7,84.8 35.6,83.9 35.6,83.0 35.6,82.1 35.6,81.2 35.9,80.2 36.6,79.5 37.6,79.2 38.5,79.2 39.4,79.4 40.2,79.5 41.1,79.5 42.0,79.7 42.9,80.2 43.4,81.1 43.4,82.1" fill="#e4e4e4" stroke="#111" stroke-width="2.2" stroke-linejoin="round"/><polygon points="69.0,81.5 68.6,82.8 67.9,83.9 67.2,84.8 66.3,85.6 65.2,86.1 64.1,86.3 63.0,86.2 62.0,85.9 61.1,85.5 60.2,85.0 59.4,84.4 58.5,83.7 57.7,82.7 57.1,81.5 56.8,80.1 57.0,78.6 58.0,77.5 59.4,77.0 60.9,77.1 62.1,77.6 63.0,78.0 63.8,78.0 64.8,77.8 66.1,77.7 67.4,78.0 68.5,78.9 69.0,80.1" fill="#e4e4e4" stroke="#111" stroke-width="2.2" stroke-linejoin="round"/><polygon points="5.1,84.5 4.8,85.2 4.3,85.8 3.9,86.3 3.5,86.9 3.0,87.5 2.4,87.9 1.6,88.0 0.8,87.9 0.1,87.6 -0.5,87.2 -1.1,86.6 -1.6,86.0 -1.9,85.3 -1.9,84.5 -1.7,83.7 -1.3,83.1 -0.9,82.5 -0.4,82.0 0.2,81.6 0.9,81.3 1.6,81.2 2.3,81.2 3.1,81.4 3.8,81.8 4.4,82.2 5.0,82.9 5.2,83.7" fill="#e4e4e4" stroke="#111" stroke-width="2.2" stroke-linejoin="round"/><polygon points="56.6,90.2 56.7,91.2 56.3,92.2 55.6,92.9 54.7,93.4 53.9,93.8 53.1,94.1 52.2,94.1 51.4,93.8 50.7,93.3 50.1,92.8 49.3,92.5 48.3,92.1 47.4,91.3 47.1,90.2 47.5,89.1 48.5,88.4 49.6,88.1 50.3,87.8 50.7,87.2 51.3,86.3 52.2,85.6 53.3,85.6 54.1,86.2 54.6,87.2 54.8,88.1 55.3,88.7 56.0,89.3" fill="#4a4a4a" stroke="#111" stroke-width="2.2" stroke-linejoin="round"/><ellipse cx="52.8" cy="90.6" rx="1.8" ry="1.6" fill="#f4f4f4"/><polygon points="14.7,95.8 14.2,97.3 13.2,98.4 12.3,99.3 11.5,100.4 10.6,101.6 9.3,102.6 7.8,102.7 6.4,102.0 5.4,100.9 4.5,99.9 3.4,99.3 2.0,98.6 0.7,97.4 0.3,95.8 1.0,94.2 2.4,93.2 3.7,92.5 4.5,91.7 5.3,90.5 6.3,89.3 7.8,88.7 9.3,89.1 10.5,90.2 11.4,91.3 12.3,92.2 13.4,93.1 14.4,94.3" fill="#e4e4e4" stroke="#111" stroke-width="2.2" stroke-linejoin="round"/><polygon points="35.8,96.3 35.6,97.2 35.2,97.9 34.7,98.6 34.1,99.2 33.5,99.8 32.7,100.0 31.8,99.9 31.1,99.3 30.6,98.8 30.1,98.4 29.5,98.2 28.7,97.8 28.0,97.2 27.9,96.3 28.1,95.5 28.6,94.8 29.1,94.1 29.5,93.4 30.1,92.7 30.9,92.3 31.8,92.5 32.5,93.1 33.0,93.8 33.4,94.3 33.9,94.6 34.7,94.9 35.4,95.5" fill="#e4e4e4" stroke="#111" stroke-width="2.2" stroke-linejoin="round"/><polygon points="45.7,95.8 45.3,96.3 44.9,96.7 44.5,97.0 44.3,97.5 44.1,98.1 43.7,98.8 43.0,99.2 42.3,99.1 41.7,98.5 41.4,97.8 41.3,97.2 41.1,96.7 40.9,96.3 40.7,95.8 40.6,95.3 40.8,94.7 41.0,94.2 41.3,93.7 41.8,93.2 42.3,92.9 43.0,92.9 43.6,93.1 44.1,93.5 44.5,93.9 45.0,94.2 45.4,94.6 45.7,95.2" fill="#e4e4e4" stroke="#111" stroke-width="2.2" stroke-linejoin="round"/><polygon points="69.7,93.7 69.6,94.5 69.3,95.3 68.9,96.0 68.4,96.7 67.7,97.3 66.9,97.7 66.0,97.7 65.1,97.5 64.4,97.0 63.8,96.5 63.2,95.9 62.6,95.3 62.1,94.6 61.9,93.7 62.0,92.8 62.5,92.0 63.1,91.4 63.8,90.9 64.4,90.5 65.2,90.1 66.0,89.8 66.9,89.8 67.7,90.1 68.5,90.6 69.0,91.3 69.5,92.0 69.7,92.9" fill="#e4e4e4" stroke="#111" stroke-width="2.2" stroke-linejoin="round"/><polygon points="19.4,104.5 19.4,105.3 19.1,106.0 18.8,106.6 18.3,107.2 17.8,107.6 17.2,108.0 16.5,108.2 15.8,108.2 15.1,107.9 14.6,107.4 14.2,106.7 14.0,106.0 13.9,105.2 13.9,104.5 14.0,103.8 14.1,103.1 14.3,102.4 14.6,101.7 15.1,101.1 15.8,100.6 16.5,100.5 17.2,100.8 17.8,101.3 18.2,101.9 18.6,102.5 18.9,103.1 19.2,103.8" fill="#e4e4e4" stroke="#111" stroke-width="2.2" stroke-linejoin="round"/><polygon points="35.2,108.0 35.4,109.4 35.1,110.9 34.4,112.1 33.2,113.0 31.9,113.6 30.5,113.8 29.2,113.7 27.9,113.5 26.8,113.1 25.7,112.4 24.6,111.7 23.6,110.7 22.9,109.4 22.6,108.0 22.8,106.5 23.5,105.3 24.6,104.3 25.7,103.6 26.8,102.9 27.9,102.3 29.2,101.8 30.6,101.7 32.0,102.3 33.0,103.3 33.7,104.4 34.2,105.6 34.7,106.7" fill="#e4e4e4" stroke="#111" stroke-width="2.2" stroke-linejoin="round"/><polygon points="48.6,109.6 48.9,111.2 48.5,112.7 47.4,113.5 46.3,113.6 45.4,113.8 44.8,114.3 44.0,115.2 43.0,115.7 42.0,115.5 41.3,114.4 41.0,113.0 40.8,111.8 40.5,110.7 40.1,109.6 39.9,108.3 40.1,106.9 40.7,105.9 41.5,105.1 42.3,104.5 43.1,103.8 44.0,103.3 45.0,103.5 45.8,104.4 46.2,105.7 46.5,106.8 46.9,107.6 47.7,108.4" fill="#e4e4e4" stroke="#111" stroke-width="2.2" stroke-linejoin="round"/><polygon points="59.4,101.9 59.0,102.7 58.5,103.4 58.0,104.1 57.6,104.8 57.0,105.5 56.2,105.9 55.3,105.8 54.5,105.3 53.9,104.8 53.3,104.4 52.5,104.1 51.7,103.6 51.2,102.8 51.3,101.9 51.7,101.1 52.3,100.4 52.6,99.8 53.0,99.0 53.5,98.2 54.4,97.8 55.3,97.9 56.1,98.4 56.7,99.0 57.3,99.4 58.0,99.8 58.8,100.2 59.3,101.0" fill="#e4e4e4" stroke="#111" stroke-width="2.2" stroke-linejoin="round"/><polygon points="7.8,114.7 7.9,115.5 7.4,116.3 6.8,116.8 6.2,117.2 5.6,117.6 5.0,118.0 4.2,118.2 3.4,118.1 2.8,117.7 2.3,117.1 1.8,116.6 1.2,116.2 0.6,115.5 0.4,114.7 0.6,113.9 1.2,113.3 1.9,112.8 2.4,112.4 2.8,111.9 3.4,111.2 4.2,110.8 5.1,110.9 5.7,111.5 6.1,112.3 6.5,112.9 6.9,113.4 7.4,114.0" fill="#e4e4e4" stroke="#111" stroke-width="2.2" stroke-linejoin="round"/><polygon points="61.7,120.8 62.2,122.1 61.8,123.3 60.6,124.2 59.1,124.6 57.7,124.7 56.4,124.7 55.3,124.7 54.2,124.7 53.1,124.5 51.9,124.2 50.8,123.7 49.8,122.9 49.2,121.9 49.1,120.8 49.5,119.7 50.3,118.8 51.0,118.1 51.8,117.3 52.7,116.4 53.9,115.8 55.3,115.6 56.6,116.1 57.6,117.0 58.2,117.9 58.6,118.7 59.4,119.2 60.6,119.8" fill="#e4e4e4" stroke="#111" stroke-width="2.2" stroke-linejoin="round"/><polygon points="18.4,125.4 18.4,126.3 18.2,127.2 17.7,128.0 17.1,128.7 16.2,129.2 15.3,129.3 14.4,129.1 13.6,128.8 12.9,128.5 12.2,128.1 11.5,127.7 10.8,127.1 10.2,126.4 9.9,125.4 10.1,124.4 10.5,123.5 11.2,122.9 12.0,122.4 12.8,122.1 13.6,121.9 14.4,121.7 15.2,121.7 16.1,121.9 16.8,122.4 17.5,123.0 17.9,123.7 18.2,124.5" fill="#e4e4e4" stroke="#111" stroke-width="2.2" stroke-linejoin="round"/><polygon points="69.6,110.1 69.7,110.6 70.1,111.3 70.2,112.3 69.9,113.2 69.2,113.7 68.4,113.9 67.5,113.8 66.7,113.7 65.9,113.4 65.2,112.9 64.8,112.3 64.6,111.5 64.6,110.8 64.7,110.1 64.6,109.4 64.7,108.7 64.9,108.1 65.4,107.5 66.1,107.2 66.8,106.9 67.5,106.5 68.4,106.2 69.4,106.2 70.2,106.7 70.5,107.7 70.3,108.7 69.9,109.6" fill="#e4e4e4" stroke="#111" stroke-width="2.2" stroke-linejoin="round"/><polygon points="69.8,124.4 69.3,125.0 68.6,125.4 68.2,125.7 67.9,126.2 67.7,126.9 67.2,127.5 66.5,127.8 65.8,127.6 65.2,127.0 64.9,126.4 64.5,126.0 64.1,125.6 63.7,125.0 63.5,124.4 63.7,123.8 64.0,123.2 64.4,122.7 64.8,122.2 65.2,121.8 65.8,121.4 66.5,121.5 67.1,121.8 67.6,122.1 68.1,122.4 68.7,122.7 69.4,123.0 69.8,123.6" fill="#e4e4e4" stroke="#111" stroke-width="2.2" stroke-linejoin="round"/><polygon points="41.1,126.4 41.0,127.1 40.6,127.7 40.1,128.1 39.6,128.5 39.1,128.8 38.5,129.1 37.9,129.2 37.3,129.2 36.7,128.9 36.3,128.5 35.9,128.0 35.7,127.5 35.4,127.0 35.1,126.4 34.8,125.7 34.9,124.9 35.2,124.3 35.9,123.8 36.6,123.7 37.3,123.9 37.9,124.1 38.4,124.2 38.9,124.3 39.5,124.4 40.1,124.7 40.6,125.1 41.0,125.7" fill="#e4e4e4" stroke="#111" stroke-width="2.2" stroke-linejoin="round"/><polygon points="83.1,67.7 83.0,68.5 82.6,69.3 82.1,69.9 81.5,70.4 80.8,70.7 80.0,70.9 79.3,71.0 78.5,71.0 77.8,70.9 77.0,70.6 76.3,70.1 75.7,69.4 75.4,68.6 75.4,67.7 75.7,66.9 76.1,66.2 76.6,65.6 77.2,65.1 77.9,64.7 78.6,64.4 79.3,64.3 80.1,64.3 80.9,64.4 81.6,64.8 82.3,65.3 82.7,66.0 83.0,66.8" fill="#e4e4e4" stroke="#111" stroke-width="2.2" stroke-linejoin="round"/><polygon points="101.4,74.3 100.3,75.5 98.9,76.2 97.6,76.6 96.7,77.0 96.1,77.7 95.3,78.7 94.1,79.7 92.4,80.3 90.6,80.2 89.1,79.4 88.2,78.2 87.9,76.8 88.1,75.4 88.5,74.3 89.0,73.3 89.4,72.4 89.8,71.5 90.5,70.6 91.4,69.7 92.7,69.2 94.1,69.1 95.5,69.3 96.8,69.6 98.2,70.1 99.6,70.7 100.9,71.6 101.6,72.9" fill="#e4e4e4" stroke="#111" stroke-width="2.2" stroke-linejoin="round"/><polygon points="114.0,70.2 114.0,71.4 113.7,72.5 113.2,73.5 112.7,74.5 111.9,75.3 111.0,75.9 110.0,75.9 109.1,75.4 108.3,74.8 107.6,74.1 106.9,73.4 106.3,72.5 106.1,71.3 106.4,70.2 106.8,69.3 107.2,68.5 107.3,67.4 107.4,66.0 107.8,64.4 108.8,63.4 110.0,63.4 111.0,64.4 111.7,65.8 112.0,67.0 112.4,67.8 113.0,68.4 113.6,69.1" fill="#e4e4e4" stroke="#111" stroke-width="2.2" stroke-linejoin="round"/><polygon points="122.1,65.1 121.9,65.6 121.7,66.0 121.4,66.4 121.0,66.8 120.7,67.1 120.2,67.4 119.7,67.5 119.2,67.3 118.8,67.0 118.5,66.6 118.2,66.3 117.8,66.0 117.3,65.7 116.9,65.1 116.9,64.5 117.3,64.0 117.9,63.7 118.5,63.6 118.9,63.5 119.3,63.4 119.7,63.1 120.2,63.0 120.7,63.0 121.2,63.2 121.6,63.6 121.9,64.0 122.1,64.6" fill="#e4e4e4" stroke="#111" stroke-width="2.2" stroke-linejoin="round"/><polygon points="139.6,71.3 139.5,72.0 139.4,72.7 139.2,73.5 138.9,74.4 138.3,75.1 137.4,75.4 136.5,75.1 135.7,74.6 135.1,74.1 134.6,73.7 134.0,73.3 133.6,72.7 133.5,72.0 133.7,71.3 133.9,70.7 134.0,70.1 133.9,69.2 134.0,68.1 134.5,67.2 135.5,66.8 136.5,67.2 137.3,67.9 137.8,68.7 138.2,69.2 138.7,69.6 139.2,70.0 139.5,70.6" fill="#e4e4e4" stroke="#111" stroke-width="2.2" stroke-linejoin="round"/><polygon points="77.4,74.3 77.2,75.2 76.6,75.9 75.9,76.4 75.1,76.7 74.5,76.9 73.8,77.1 73.2,77.2 72.5,77.3 71.8,77.3 71.0,77.1 70.3,76.6 69.8,75.9 69.7,75.1 69.9,74.3 70.2,73.6 70.4,73.0 70.6,72.2 70.9,71.4 71.5,70.8 72.3,70.5 73.2,70.8 73.9,71.4 74.3,72.0 74.8,72.3 75.5,72.5 76.3,72.8 77.1,73.4" fill="#e4e4e4" stroke="#111" stroke-width="2.2" stroke-linejoin="round"/><polygon points="85.5,83.5 84.6,84.5 84.2,85.4 84.1,86.6 83.7,87.8 82.8,88.8 81.6,89.0 80.3,88.9 79.1,88.6 77.9,88.6 76.4,88.4 75.0,87.8 74.0,86.5 73.9,85.0 74.3,83.5 75.0,82.3 75.6,81.2 76.3,80.3 77.1,79.5 78.2,79.1 79.3,79.0 80.3,78.8 81.5,78.4 83.0,77.8 84.9,77.8 86.4,78.6 87.0,80.3 86.5,82.1" fill="#e4e4e4" stroke="#111" stroke-width="2.2" stroke-linejoin="round"/><polygon points="135.9,78.9 135.7,79.9 135.1,80.7 134.4,81.3 133.7,81.7 132.9,82.1 132.2,82.4 131.4,82.6 130.5,82.6 129.7,82.4 129.0,81.9 128.4,81.3 128.1,80.5 127.9,79.7 127.8,78.9 127.8,78.1 127.8,77.2 128.1,76.3 128.7,75.5 129.5,75.0 130.5,74.9 131.4,75.2 132.1,75.7 132.7,76.1 133.3,76.5 134.1,76.8 134.9,77.2 135.6,77.9" fill="#e4e4e4" stroke="#111" stroke-width="2.2" stroke-linejoin="round"/><polygon points="116.8,89.6 116.9,90.5 117.1,91.5 117.1,92.8 116.8,94.2 115.9,95.3 114.8,95.8 113.5,95.6 112.4,94.9 111.6,94.1 110.9,93.2 110.3,92.5 109.7,91.7 109.2,90.7 108.9,89.6 109.0,88.5 109.4,87.4 110.1,86.6 110.8,85.9 111.6,85.2 112.5,84.5 113.5,83.9 114.7,83.7 115.9,84.0 116.9,84.9 117.3,86.2 117.3,87.5 117.1,88.7" fill="#e4e4e4" stroke="#111" stroke-width="2.2" stroke-linejoin="round"/><polygon points="76.4,93.7 76.5,94.7 76.2,95.7 75.5,96.4 74.6,96.8 73.7,97.0 72.9,97.0 72.1,97.2 71.3,97.3 70.4,97.3 69.4,97.0 68.7,96.4 68.4,95.5 68.4,94.6 68.5,93.7 68.6,92.9 68.8,92.1 69.0,91.2 69.4,90.4 70.2,89.7 71.1,89.4 72.1,89.5 73.0,89.9 73.6,90.5 74.2,91.1 74.7,91.6 75.3,92.2 75.9,92.8" fill="#e4e4e4" stroke="#111" stroke-width="2.2" stroke-linejoin="round"/><polygon points="105.3,98.3 105.0,99.1 104.6,99.9 104.2,100.6 103.8,101.4 103.1,102.0 102.2,102.2 101.3,102.0 100.5,101.6 99.9,101.3 99.1,101.0 98.2,100.8 97.4,100.2 97.0,99.3 97.2,98.3 97.6,97.5 98.1,96.8 98.5,96.1 98.9,95.3 99.6,94.7 100.4,94.3 101.3,94.4 102.1,94.8 102.8,95.2 103.5,95.5 104.3,95.9 105.0,96.5 105.4,97.4" fill="#e4e4e4" stroke="#111" stroke-width="2.2" stroke-linejoin="round"/><polygon points="141.1,95.8 140.9,96.6 140.5,97.2 140.0,97.8 139.4,98.2 138.8,98.5 138.2,98.7 137.5,98.9 136.8,98.9 136.0,98.9 135.3,98.6 134.6,98.1 134.1,97.4 133.9,96.6 133.9,95.8 134.1,95.0 134.5,94.3 135.0,93.8 135.6,93.4 136.2,93.1 136.8,92.9 137.5,92.8 138.2,92.7 139.0,92.7 139.8,93.0 140.4,93.5 140.9,94.1 141.2,95.0" fill="#e4e4e4" stroke="#111" stroke-width="2.2" stroke-linejoin="round"/><polygon points="123.7,106.5 123.3,107.5 123.0,108.6 122.5,109.6 121.6,110.6 120.1,111.1 118.5,111.0 117.1,110.4 116.0,109.9 115.0,109.7 113.7,109.6 112.1,109.4 110.8,108.7 110.0,107.7 110.0,106.5 110.5,105.4 111.1,104.4 111.8,103.4 112.9,102.7 114.3,102.3 115.8,102.3 117.1,102.6 118.2,102.9 119.4,103.0 120.8,103.1 122.3,103.5 123.4,104.3 123.8,105.4" fill="#e4e4e4" stroke="#111" stroke-width="2.2" stroke-linejoin="round"/><polygon points="94.8,107.0 94.2,107.6 93.8,108.1 93.7,108.8 93.6,109.7 93.3,110.6 92.5,111.2 91.5,111.2 90.7,110.6 90.1,109.9 89.7,109.3 89.1,108.9 88.4,108.5 87.8,107.8 87.7,107.0 87.9,106.2 88.5,105.5 89.0,105.0 89.5,104.5 90.1,104.0 90.7,103.6 91.5,103.5 92.3,103.6 93.1,103.8 93.9,104.0 94.6,104.5 95.1,105.3 95.2,106.2" fill="#e4e4e4" stroke="#111" stroke-width="2.2" stroke-linejoin="round"/><polygon points="107.0,110.6 106.8,111.4 106.3,112.1 105.6,112.6 104.8,113.0 104.1,113.4 103.3,113.9 102.3,114.3 101.1,114.4 100.1,114.1 99.2,113.5 98.7,112.8 98.3,112.0 98.0,111.3 97.8,110.6 97.7,109.8 98.1,109.1 98.8,108.5 99.6,108.0 100.4,107.7 101.3,107.4 102.3,107.1 103.4,107.0 104.4,107.2 105.3,107.7 106.0,108.3 106.5,109.1 106.9,109.8" fill="#e4e4e4" stroke="#111" stroke-width="2.2" stroke-linejoin="round"/><polygon points="138.0,108.0 137.7,109.1 137.3,110.1 136.6,111.0 135.6,111.6 134.6,112.0 133.5,112.1 132.4,112.1 131.4,112.0 130.3,111.8 129.3,111.5 128.3,110.9 127.5,110.1 127.0,109.1 126.6,108.0 126.6,106.8 127.1,105.7 128.0,104.8 129.1,104.4 130.4,104.2 131.5,104.3 132.4,104.3 133.4,104.3 134.5,104.2 135.7,104.3 136.9,104.8 137.6,105.7 138.0,106.9" fill="#e4e4e4" stroke="#111" stroke-width="2.2" stroke-linejoin="round"/><polygon points="78.0,109.6 77.9,110.5 77.6,111.5 77.1,112.3 76.4,113.0 75.5,113.4 74.6,113.6 73.7,113.7 72.8,113.7 71.8,113.6 70.9,113.2 70.2,112.4 69.9,111.5 69.9,110.5 69.9,109.6 69.9,108.7 69.8,107.7 70.0,106.6 70.6,105.8 71.6,105.3 72.7,105.4 73.7,105.7 74.5,106.0 75.4,106.1 76.3,106.4 77.2,106.8 77.8,107.6 78.0,108.6" fill="#e4e4e4" stroke="#111" stroke-width="2.2" stroke-linejoin="round"/><polygon points="91.7,115.7 91.3,116.4 90.8,117.0 90.3,117.6 89.9,118.1 89.4,118.6 88.7,119.0 88.0,119.1 87.2,119.1 86.4,118.9 85.7,118.6 85.1,118.1 84.7,117.3 84.8,116.4 85.0,115.7 85.3,115.1 85.4,114.4 85.4,113.6 85.7,112.8 86.3,112.2 87.2,112.0 88.0,112.3 88.7,112.7 89.3,113.1 89.9,113.3 90.7,113.5 91.4,114.1 91.8,114.8" fill="#e4e4e4" stroke="#111" stroke-width="2.2" stroke-linejoin="round"/><polygon points="99.1,122.3 98.9,123.0 98.7,123.8 98.4,124.6 98.0,125.4 97.4,126.0 96.5,126.2 95.6,126.1 94.8,125.7 94.1,125.4 93.4,125.1 92.7,124.6 92.1,124.0 91.8,123.2 91.8,122.3 92.1,121.5 92.4,120.7 92.8,120.0 93.3,119.4 94.0,118.9 94.8,118.7 95.6,118.7 96.4,118.8 97.2,119.0 98.0,119.3 98.7,119.8 99.2,120.6 99.3,121.5" fill="#e4e4e4" stroke="#111" stroke-width="2.2" stroke-linejoin="round"/><polygon points="106.6,122.3 107.0,122.9 107.2,123.7 106.9,124.4 106.2,124.7 105.4,124.5 104.7,124.3 104.3,124.2 103.8,124.3 103.2,124.6 102.5,124.6 101.9,124.2 101.7,123.6 101.7,122.9 101.9,122.3 101.9,121.8 102.0,121.2 102.3,120.7 102.7,120.3 103.2,120.0 103.7,119.8 104.3,119.7 104.9,119.6 105.5,119.7 106.0,120.1 106.2,120.8 106.3,121.4 106.3,121.8" fill="#e4e4e4" stroke="#111" stroke-width="2.2" stroke-linejoin="round"/><polygon points="119.8,115.7 120.1,116.6 119.8,117.5 119.1,118.1 118.3,118.5 117.6,118.8 116.9,119.3 116.1,120.0 115.0,120.3 114.0,120.1 113.2,119.4 112.8,118.3 112.8,117.3 112.8,116.4 112.8,115.7 112.9,115.0 113.1,114.2 113.4,113.5 113.8,112.8 114.3,112.1 115.1,111.3 116.1,110.8 117.2,110.9 118.1,111.6 118.6,112.6 118.7,113.6 118.9,114.3 119.3,115.0" fill="#e4e4e4" stroke="#111" stroke-width="2.2" stroke-linejoin="round"/><polygon points="139.5,123.4 139.3,124.2 138.9,124.8 138.3,125.3 137.8,125.7 137.3,126.1 136.7,126.5 136.0,126.8 135.2,127.0 134.3,127.0 133.5,126.6 132.9,125.9 132.6,125.0 132.8,124.1 133.1,123.4 133.5,122.8 133.7,122.3 133.8,121.6 134.0,120.8 134.4,120.1 135.1,119.5 136.0,119.5 136.8,119.8 137.5,120.3 138.0,120.8 138.6,121.4 139.1,121.9 139.4,122.6" fill="#e4e4e4" stroke="#111" stroke-width="2.2" stroke-linejoin="round"/><polygon points="75.5,124.4 75.3,125.1 75.0,125.8 74.7,126.4 74.2,127.0 73.6,127.5 72.9,127.8 72.1,127.8 71.3,127.7 70.6,127.4 70.0,127.0 69.5,126.5 69.1,125.9 68.8,125.1 68.8,124.4 68.8,123.7 69.0,122.9 69.4,122.2 69.9,121.7 70.6,121.3 71.4,121.1 72.1,121.1 72.8,121.3 73.5,121.4 74.2,121.7 74.8,122.2 75.3,122.9 75.5,123.6" fill="#e4e4e4" stroke="#111" stroke-width="2.2" stroke-linejoin="round"/><polygon points="129.0,117.7 128.8,118.2 128.8,118.7 128.7,119.2 128.4,119.7 127.9,119.9 127.3,119.9 126.8,119.7 126.4,119.6 125.9,119.6 125.3,119.5 124.8,119.3 124.5,118.8 124.5,118.2 124.7,117.7 124.8,117.2 124.8,116.8 124.9,116.2 125.2,115.7 125.7,115.5 126.3,115.5 126.8,115.7 127.2,115.8 127.7,115.9 128.2,115.9 128.8,116.1 129.1,116.6 129.1,117.2" fill="#4a4a4a" stroke="#111" stroke-width="2.2" stroke-linejoin="round"/><ellipse cx="127.1" cy="117.9" rx="1.0" ry="0.9" fill="#f4f4f4"/><polygon points="81.5,121.7 81.3,122.1 80.9,122.4 80.7,122.6 80.6,122.9 80.4,123.3 80.1,123.7 79.7,123.9 79.3,123.8 78.9,123.5 78.6,123.2 78.4,122.9 78.1,122.6 77.9,122.2 77.9,121.7 78.2,121.3 78.5,121.1 78.7,120.9 78.9,120.6 79.0,120.2 79.3,119.7 79.7,119.6 80.2,119.6 80.5,119.9 80.8,120.2 81.1,120.5 81.4,120.9 81.5,121.3" fill="#d8d8d8" stroke="#333" stroke-width="1.3" stroke-linejoin="round"/><polygon points="120.7,80.6 120.4,80.9 120.2,81.1 120.2,81.4 120.1,81.9 119.9,82.3 119.5,82.5 119.1,82.5 118.8,82.2 118.5,82.0 118.2,81.8 117.8,81.7 117.5,81.4 117.3,81.0 117.4,80.6 117.6,80.2 117.8,79.9 118.0,79.6 118.2,79.3 118.5,79.1 118.8,78.9 119.1,78.9 119.5,78.9 119.8,79.0 120.3,79.0 120.7,79.3 120.9,79.6 120.9,80.1" fill="#e4e4e4" stroke="#111" stroke-width="2.2" stroke-linejoin="round"/><polygon points="7.4,124.8 7.3,125.5 6.9,126.0 6.4,126.4 5.7,126.6 5.2,126.7 4.7,126.8 4.2,126.9 3.6,127.0 3.0,127.0 2.4,126.8 1.9,126.4 1.5,125.9 1.4,125.4 1.3,124.8 1.4,124.3 1.6,123.8 1.9,123.3 2.4,122.9 2.9,122.6 3.6,122.6 4.2,122.6 4.7,122.8 5.2,123.0 5.7,123.2 6.2,123.4 6.8,123.8 7.2,124.2" fill="#d8d8d8" stroke="#333" stroke-width="1.3" stroke-linejoin="round"/><polygon points="25.3,125.6 25.1,125.8 24.9,126.0 24.8,126.1 24.7,126.3 24.6,126.6 24.3,126.7 24.1,126.7 23.8,126.6 23.7,126.4 23.5,126.3 23.3,126.2 23.1,126.1 22.9,125.9 22.8,125.6 22.9,125.4 23.0,125.2 23.2,125.0 23.4,124.8 23.6,124.7 23.8,124.7 24.1,124.8 24.3,124.8 24.5,124.9 24.7,124.9 25.0,124.9 25.3,125.1 25.4,125.3" fill="#e4e4e4" stroke="#111" stroke-width="2.2" stroke-linejoin="round"/><polygon points="28.7,5.5 28.5,6.0 28.2,6.4 28.0,6.9 27.8,7.4 27.4,7.9 26.8,8.1 26.2,7.9 25.7,7.6 25.4,7.2 25.0,7.0 24.6,6.8 24.1,6.5 23.9,6.0 23.9,5.5 24.0,5.0 24.2,4.5 24.3,4.0 24.6,3.4 25.0,3.0 25.6,2.9 26.2,3.1 26.7,3.5 27.0,3.9 27.4,4.0 27.9,4.2 28.3,4.5 28.7,4.9" fill="#d8d8d8" stroke="#333" stroke-width="1.3" stroke-linejoin="round"/><polygon points="92.4,90.5 92.4,90.7 92.3,90.9 92.2,91.1 92.1,91.4 91.9,91.6 91.6,91.7 91.3,91.7 91.0,91.7 90.8,91.6 90.5,91.4 90.3,91.2 90.2,91.0 90.2,90.7 90.3,90.5 90.4,90.3 90.4,90.1 90.5,89.8 90.5,89.6 90.7,89.3 91.0,89.2 91.3,89.2 91.6,89.3 91.9,89.4 92.1,89.6 92.3,89.8 92.4,90.0 92.4,90.2" fill="#e4e4e4" stroke="#111" stroke-width="2.2" stroke-linejoin="round"/><polygon points="41.0,39.8 40.9,40.1 40.7,40.4 40.4,40.6 40.1,40.7 39.8,40.7 39.5,40.8 39.2,40.8 39.0,40.9 38.7,40.9 38.4,40.8 38.1,40.6 37.9,40.4 37.7,40.1 37.6,39.8 37.7,39.4 37.8,39.1 38.1,38.9 38.4,38.7 38.7,38.7 39.0,38.7 39.2,38.7 39.5,38.7 39.8,38.8 40.0,38.8 40.3,39.0 40.6,39.1 40.9,39.4" fill="#e4e4e4" stroke="#111" stroke-width="2.2" stroke-linejoin="round"/><polygon points="34.5,48.5 34.4,48.7 34.4,48.9 34.3,49.2 34.2,49.4 34.0,49.6 33.7,49.6 33.5,49.6 33.2,49.6 33.0,49.6 32.7,49.5 32.4,49.3 32.3,49.1 32.3,48.8 32.4,48.5 32.4,48.3 32.5,48.0 32.6,47.8 32.8,47.6 33.0,47.5 33.3,47.5 33.5,47.5 33.7,47.4 34.0,47.4 34.4,47.4 34.6,47.6 34.8,47.9 34.7,48.2" fill="#e4e4e4" stroke="#111" stroke-width="2.2" stroke-linejoin="round"/><polygon points="130.0,94.4 130.0,94.9 129.8,95.4 129.4,95.7 129.0,96.0 128.6,96.3 128.2,96.6 127.6,96.8 127.1,96.7 126.6,96.4 126.3,96.0 126.1,95.5 125.9,95.1 125.7,94.8 125.5,94.4 125.3,93.9 125.4,93.4 125.7,92.9 126.1,92.5 126.6,92.3 127.1,92.1 127.6,92.1 128.2,92.2 128.6,92.5 128.9,92.9 129.2,93.2 129.5,93.5 129.8,93.9" fill="#e4e4e4" stroke="#111" stroke-width="2.2" stroke-linejoin="round"/><polygon points="121.3,127.6 120.8,128.2 120.5,128.5 120.3,129.0 120.2,129.6 119.9,130.3 119.5,130.6 118.9,130.7 118.3,130.5 117.8,130.2 117.4,129.9 117.0,129.5 116.7,128.9 116.7,128.2 116.8,127.6 116.9,127.1 116.9,126.5 116.9,125.8 117.2,125.1 117.7,124.8 118.4,124.9 118.9,125.3 119.3,125.6 119.7,125.6 120.4,125.4 121.1,125.6 121.6,126.1 121.6,126.9" fill="#e4e4e4" stroke="#111" stroke-width="2.2" stroke-linejoin="round"/><polygon points="100.8,85.7 100.7,86.1 100.7,86.5 100.7,86.9 100.5,87.4 100.1,87.7 99.7,87.8 99.2,87.7 98.9,87.4 98.6,87.1 98.4,86.9 98.1,86.7 97.7,86.5 97.4,86.1 97.2,85.7 97.3,85.2 97.6,84.8 97.9,84.5 98.2,84.3 98.5,84.1 98.9,83.9 99.2,83.8 99.6,83.7 100.1,83.8 100.4,84.1 100.7,84.4 100.8,84.9 100.8,85.3" fill="#e4e4e4" stroke="#111" stroke-width="2.2" stroke-linejoin="round"/><polygon points="21.7,117.2 21.6,117.6 21.5,117.9 21.4,118.2 21.2,118.5 20.9,118.8 20.6,119.0 20.3,119.1 19.9,119.1 19.6,118.8 19.4,118.5 19.3,118.1 19.2,117.8 18.9,117.6 18.7,117.2 18.6,116.8 18.7,116.3 19.0,116.0 19.4,115.9 19.7,115.8 20.0,115.8 20.3,115.6 20.6,115.5 21.0,115.5 21.3,115.7 21.5,116.0 21.7,116.4 21.7,116.8" fill="#e4e4e4" stroke="#111" stroke-width="2.2" stroke-linejoin="round"/><polygon points="22.4,96.4 22.5,96.7 22.6,97.1 22.4,97.4 22.1,97.7 21.7,97.9 21.3,98.0 20.8,98.1 20.4,98.1 19.9,97.9 19.7,97.5 19.7,97.1 19.7,96.8 19.6,96.6 19.2,96.4 18.8,96.0 18.6,95.5 18.8,95.0 19.4,94.8 20.0,94.9 20.5,95.0 20.8,95.1 21.2,95.0 21.7,94.9 22.1,95.1 22.3,95.4 22.4,95.7 22.4,96.1" fill="#d8d8d8" stroke="#333" stroke-width="1.3" stroke-linejoin="round"/><polygon points="136.7,1.5 136.8,1.8 136.7,2.2 136.4,2.5 136.1,2.7 135.8,2.9 135.5,3.0 135.1,3.2 134.7,3.1 134.4,2.9 134.2,2.6 134.0,2.3 133.9,2.0 133.6,1.8 133.4,1.5 133.3,1.1 133.4,0.7 133.7,0.5 134.1,0.3 134.4,0.2 134.7,0.1 135.1,-0.1 135.5,-0.2 135.9,-0.0 136.1,0.3 136.2,0.6 136.3,0.9 136.5,1.2" fill="#d8d8d8" stroke="#333" stroke-width="1.3" stroke-linejoin="round"/><polygon points="31.5,121.2 31.5,121.5 31.4,121.8 31.3,122.1 31.1,122.4 30.7,122.7 30.3,122.7 29.8,122.7 29.4,122.4 29.2,122.2 29.0,122.0 28.8,121.9 28.4,121.7 28.1,121.5 27.8,121.2 27.7,120.8 27.9,120.5 28.2,120.2 28.7,120.1 29.1,120.0 29.5,120.0 29.8,120.0 30.2,120.0 30.6,120.0 30.9,120.1 31.2,120.3 31.4,120.6 31.5,120.9" fill="#e4e4e4" stroke="#111" stroke-width="2.2" stroke-linejoin="round"/><polygon points="129.0,37.3 128.9,37.5 128.7,37.7 128.5,37.8 128.3,38.0 128.2,38.2 127.9,38.3 127.6,38.4 127.3,38.3 127.1,38.1 126.9,38.0 126.7,37.8 126.5,37.7 126.3,37.5 126.2,37.3 126.3,37.0 126.5,36.9 126.7,36.7 126.9,36.6 127.1,36.4 127.3,36.2 127.6,36.2 127.9,36.2 128.1,36.4 128.3,36.6 128.5,36.7 128.7,36.8 128.9,37.0" fill="#e4e4e4" stroke="#111" stroke-width="2.2" stroke-linejoin="round"/><polygon points="141.0,87.4 140.9,87.7 140.6,88.0 140.3,88.2 140.1,88.5 139.8,88.7 139.5,89.0 139.1,89.2 138.7,89.2 138.3,89.0 138.0,88.8 137.7,88.5 137.5,88.1 137.4,87.7 137.5,87.4 137.7,87.1 137.9,86.8 138.0,86.5 138.1,86.1 138.3,85.7 138.7,85.4 139.1,85.3 139.6,85.6 139.9,85.9 140.1,86.2 140.3,86.5 140.6,86.7 140.9,87.0" fill="#e4e4e4" stroke="#111" stroke-width="2.2" stroke-linejoin="round"/><polygon points="41.3,47.0 41.3,47.3 41.2,47.7 41.1,48.0 40.9,48.3 40.6,48.5 40.3,48.6 39.9,48.6 39.6,48.5 39.2,48.4 38.9,48.3 38.6,48.0 38.5,47.7 38.5,47.4 38.6,47.0 38.6,46.8 38.7,46.5 38.8,46.1 38.9,45.8 39.2,45.6 39.5,45.5 39.9,45.5 40.3,45.6 40.6,45.7 40.9,45.9 41.1,46.1 41.3,46.4 41.3,46.7" fill="#e4e4e4" stroke="#111" stroke-width="2.2" stroke-linejoin="round"/><polygon points="22.7,88.1 22.5,88.5 22.3,88.7 22.1,89.0 22.0,89.3 21.7,89.7 21.4,89.9 21.0,90.0 20.6,89.9 20.3,89.7 20.0,89.5 19.8,89.1 19.7,88.8 19.7,88.4 19.7,88.1 19.7,87.8 19.6,87.4 19.7,87.0 19.9,86.6 20.2,86.4 20.6,86.4 21.0,86.5 21.3,86.7 21.6,86.8 21.9,86.9 22.3,87.0 22.6,87.3 22.8,87.7" fill="#e4e4e4" stroke="#111" stroke-width="2.2" stroke-linejoin="round"/><polygon points="83.7,103.2 84.1,103.8 84.1,104.5 83.8,105.1 83.3,105.4 82.7,105.4 82.2,105.4 81.8,105.5 81.3,105.7 80.8,105.6 80.3,105.3 80.0,104.8 79.8,104.3 79.7,103.8 79.5,103.2 79.4,102.6 79.6,102.0 80.1,101.6 80.6,101.5 81.0,101.3 81.3,101.0 81.8,100.6 82.4,100.3 83.0,100.4 83.4,100.9 83.5,101.7 83.4,102.3 83.5,102.8" fill="#e4e4e4" stroke="#111" stroke-width="2.2" stroke-linejoin="round"/></g></svg><rect x="116.9" y="444.9" width="23.0" height="3.1" fill="#fff"/><rect x="261.9" y="444.9" width="23.0" height="3.1" fill="#fff"/><rect x="406.4" y="444.9" width="23.5" height="3.1" fill="#fff"/><text x="448.2" y="314.4" font-size="32" text-anchor="start">F</text><line x1="489" y1="317.0" x2="489" y2="464.2" stroke="#000" stroke-width="1.3"/><line x1="485.5" y1="464.2" x2="489" y2="464.2" stroke="#000" stroke-width="1.2"/><text x="485.2" y="467.0" font-size="7.8" text-anchor="end">0</text><line x1="485.5" y1="445.875" x2="489" y2="445.875" stroke="#000" stroke-width="1.2"/><text x="485.2" y="448.675" font-size="7.8" text-anchor="end">500</text><line x1="485.5" y1="427.55" x2="489" y2="427.55" stroke="#000" stroke-width="1.2"/><text x="485.2" y="430.35" font-size="7.8" text-anchor="end">1000</text><line x1="485.5" y1="409.22499999999997" x2="489" y2="409.22499999999997" stroke="#000" stroke-width="1.2"/><text x="485.2" y="412.025" font-size="7.8" text-anchor="end">1500</text><line x1="485.5" y1="390.9" x2="489" y2="390.9" stroke="#000" stroke-width="1.2"/><text x="485.2" y="393.7" font-size="7.8" text-anchor="end">2000</text><line x1="485.5" y1="372.575" x2="489" y2="372.575" stroke="#000" stroke-width="1.2"/><text x="485.2" y="375.375" font-size="7.8" text-anchor="end">2500</text><line x1="485.5" y1="354.25" x2="489" y2="354.25" stroke="#000" stroke-width="1.2"/><text x="485.2" y="357.05" font-size="7.8" text-anchor="end">3000</text><line x1="485.5" y1="335.92499999999995" x2="489" y2="335.92499999999995" stroke="#000" stroke-width="1.2"/><text x="485.2" y="338.72499999999997" font-size="7.8" text-anchor="end">3500</text><line x1="485.5" y1="317.6" x2="489" y2="317.6" stroke="#000" stroke-width="1.2"/><text x="485.2" y="320.40000000000003" font-size="7.8" text-anchor="end">4000</text><line x1="489" y1="464.2" x2="666.2" y2="464.2" stroke="#000" stroke-width="1.3"/><line x1="488.6" y1="464.2" x2="488.6" y2="467.2" stroke="#000" stroke-width="1.2"/><text x="488.6" y="474.8" font-size="7.8" text-anchor="middle">0</text><line x1="518.1" y1="464.2" x2="518.1" y2="467.2" stroke="#000" stroke-width="1.2"/><text x="518.1" y="474.8" font-size="7.8" text-anchor="middle">2</text><line x1="547.6" y1="464.2" x2="547.6" y2="467.2" stroke="#000" stroke-width="1.2"/><text x="547.6" y="474.8" font-size="7.8" text-anchor="middle">4</text><line x1="577.1" y1="464.2" x2="577.1" y2="467.2" stroke="#000" stroke-width="1.2"/><text x="577.1" y="474.8" font-size="7.8" text-anchor="middle">6</text><line x1="606.6" y1="464.2" x2="606.6" y2="467.2" stroke="#000" stroke-width="1.2"/><text x="606.6" y="474.8" font-size="7.8" text-anchor="middle">8</text><line x1="636.1" y1="464.2" x2="636.1" y2="467.2" stroke="#000" stroke-width="1.2"/><text x="636.1" y="474.8" font-size="7.8" text-anchor="middle">10</text><line x1="665.6" y1="464.2" x2="665.6" y2="467.2" stroke="#000" stroke-width="1.2"/><text x="665.6" y="474.8" font-size="7.8" text-anchor="middle">12</text><text x="576.6" y="486" font-size="10.2" text-anchor="middle">diameter (&#181;m)</text><text x="466" y="388" font-size="10.3" text-anchor="middle" transform="rotate(-90 466 388)">fibers/mm<tspan font-size="7" dy="-4">2</tspan></text><polyline points="488.6,464.2 503.4,464.2 518.1,456.7 532.9,446.6 547.6,421.7 562.4,358.6 577.1,342.5 591.9,329.3 606.6,421.2 621.4,454.0 636.1,464.2 650.9,464.2 665.6,464.2" fill="none" stroke="#888" stroke-width="1.1" stroke-dasharray="5,2.5"/><polyline points="488.6,464.2 503.4,464.2 518.1,457.6 532.9,452.5 547.6,440.4 562.4,398.2 577.1,356.3 591.9,353.7 606.6,410.3 621.4,443.1 636.1,459.4 650.9,463.5 665.6,464.2" fill="none" stroke="#000" stroke-width="1" stroke-dasharray="1,1.5"/><polyline points="488.6,464.2 503.4,464.2 518.1,460.2 532.9,451.3 547.6,424.3 562.4,374.2 577.1,342.2 591.9,324.5 606.6,397.0 621.4,454.0 636.1,463.7 650.9,464.2 665.6,464.2" fill="none" stroke="#000" stroke-width="1.4"/><line x1="611.5" y1="319.8" x2="621.3" y2="319.8" stroke="#000" stroke-width="1.4"/><text x="625.3000000000001" y="323.5" font-size="10.5" text-anchor="start">CTRL</text><line x1="611.5" y1="331" x2="621.3" y2="331" stroke="#000" stroke-width="1" stroke-dasharray="1,1.5"/><text x="625.4" y="334.9" font-size="10.5" text-anchor="start">VCR</text><line x1="611.5" y1="342" x2="621.3" y2="342" stroke="#888" stroke-width="1.1" stroke-dasharray="4,2.5"/><text x="625.4" y="345.8" font-size="10.5" text-anchor="start">VCR+MOL</text></svg>
</body></html>
